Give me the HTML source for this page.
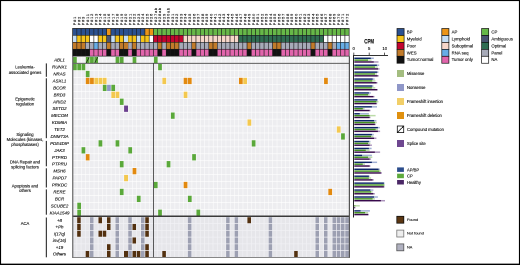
<!DOCTYPE html><html><head><meta charset="utf-8"><style>
html,body{margin:0;padding:0;background:#fff;}body{width:520px;height:265px;overflow:hidden;position:relative;}
#o{position:absolute;left:0;top:0;width:520px;height:265px;overflow:hidden;}
#w{position:absolute;left:0;top:0;width:1040px;height:530px;transform:scale(0.5);transform-origin:0 0;will-change:transform;}
svg{display:block;}text{font-family:"Liberation Sans",sans-serif;fill:#000;stroke:#000;stroke-width:0.1px;}
.g{font-style:italic;text-anchor:middle;font-size:4.4px;}
.c{text-anchor:middle;font-size:4.2px;}
.l{font-size:4.3px;}
</style></head><body>
<div id="o"><div id="w"><svg width="1040" height="530" viewBox="0 0 520 265" xmlns="http://www.w3.org/2000/svg">
<rect x="0" y="0" width="520" height="265" fill="#fff"/>
<g>
<rect x="72.63" y="28.4" width="4.25" height="6.95" fill="#2b5190" stroke="#1a1a1a" stroke-width="0.55"/>
<rect x="76.88" y="28.4" width="4.25" height="6.95" fill="#2b5190" stroke="#1a1a1a" stroke-width="0.55"/>
<rect x="81.14" y="28.4" width="4.25" height="6.95" fill="#2b5190" stroke="#1a1a1a" stroke-width="0.55"/>
<rect x="85.39" y="28.4" width="4.25" height="6.95" fill="#2b5190" stroke="#1a1a1a" stroke-width="0.55"/>
<rect x="89.65" y="28.4" width="4.25" height="6.95" fill="#2b5190" stroke="#1a1a1a" stroke-width="0.55"/>
<rect x="93.91" y="28.4" width="4.25" height="6.95" fill="#2b5190" stroke="#1a1a1a" stroke-width="0.55"/>
<rect x="98.16" y="28.4" width="4.25" height="6.95" fill="#2b5190" stroke="#1a1a1a" stroke-width="0.55"/>
<rect x="102.41" y="28.4" width="4.25" height="6.95" fill="#2b5190" stroke="#1a1a1a" stroke-width="0.55"/>
<rect x="106.67" y="28.4" width="4.25" height="6.95" fill="#eb9418" stroke="#1a1a1a" stroke-width="0.55"/>
<rect x="110.92" y="28.4" width="4.25" height="6.95" fill="#2b5190" stroke="#1a1a1a" stroke-width="0.55"/>
<rect x="115.18" y="28.4" width="4.25" height="6.95" fill="#2b5190" stroke="#1a1a1a" stroke-width="0.55"/>
<rect x="119.44" y="28.4" width="4.25" height="6.95" fill="#2b5190" stroke="#1a1a1a" stroke-width="0.55"/>
<rect x="123.69" y="28.4" width="4.25" height="6.95" fill="#2b5190" stroke="#1a1a1a" stroke-width="0.55"/>
<rect x="127.94" y="28.4" width="4.25" height="6.95" fill="#2b5190" stroke="#1a1a1a" stroke-width="0.55"/>
<rect x="132.2" y="28.4" width="4.25" height="6.95" fill="#2b5190" stroke="#1a1a1a" stroke-width="0.55"/>
<rect x="136.45" y="28.4" width="4.25" height="6.95" fill="#2b5190" stroke="#1a1a1a" stroke-width="0.55"/>
<rect x="140.71" y="28.4" width="4.25" height="6.95" fill="#2b5190" stroke="#1a1a1a" stroke-width="0.55"/>
<rect x="144.96" y="28.4" width="4.25" height="6.95" fill="#eb9418" stroke="#1a1a1a" stroke-width="0.55"/>
<rect x="149.22" y="28.4" width="4.25" height="6.95" fill="#eb9418" stroke="#1a1a1a" stroke-width="0.55"/>
<rect x="153.47" y="28.4" width="4.25" height="6.95" fill="#67b848" stroke="#1a1a1a" stroke-width="0.55"/>
<rect x="157.73" y="28.4" width="4.25" height="6.95" fill="#67b848" stroke="#1a1a1a" stroke-width="0.55"/>
<rect x="161.99" y="28.4" width="4.25" height="6.95" fill="#67b848" stroke="#1a1a1a" stroke-width="0.55"/>
<rect x="166.24" y="28.4" width="4.25" height="6.95" fill="#67b848" stroke="#1a1a1a" stroke-width="0.55"/>
<rect x="170.5" y="28.4" width="4.25" height="6.95" fill="#67b848" stroke="#1a1a1a" stroke-width="0.55"/>
<rect x="174.75" y="28.4" width="4.25" height="6.95" fill="#67b848" stroke="#1a1a1a" stroke-width="0.55"/>
<rect x="179" y="28.4" width="4.25" height="6.95" fill="#67b848" stroke="#1a1a1a" stroke-width="0.55"/>
<rect x="183.26" y="28.4" width="4.25" height="6.95" fill="#67b848" stroke="#1a1a1a" stroke-width="0.55"/>
<rect x="187.51" y="28.4" width="4.25" height="6.95" fill="#67b848" stroke="#1a1a1a" stroke-width="0.55"/>
<rect x="191.77" y="28.4" width="4.25" height="6.95" fill="#67b848" stroke="#1a1a1a" stroke-width="0.55"/>
<rect x="196.02" y="28.4" width="4.25" height="6.95" fill="#67b848" stroke="#1a1a1a" stroke-width="0.55"/>
<rect x="200.28" y="28.4" width="4.25" height="6.95" fill="#67b848" stroke="#1a1a1a" stroke-width="0.55"/>
<rect x="204.53" y="28.4" width="4.25" height="6.95" fill="#67b848" stroke="#1a1a1a" stroke-width="0.55"/>
<rect x="208.79" y="28.4" width="4.25" height="6.95" fill="#67b848" stroke="#1a1a1a" stroke-width="0.55"/>
<rect x="213.04" y="28.4" width="4.25" height="6.95" fill="#67b848" stroke="#1a1a1a" stroke-width="0.55"/>
<rect x="217.3" y="28.4" width="4.25" height="6.95" fill="#67b848" stroke="#1a1a1a" stroke-width="0.55"/>
<rect x="221.55" y="28.4" width="4.25" height="6.95" fill="#67b848" stroke="#1a1a1a" stroke-width="0.55"/>
<rect x="225.81" y="28.4" width="4.25" height="6.95" fill="#67b848" stroke="#1a1a1a" stroke-width="0.55"/>
<rect x="230.06" y="28.4" width="4.25" height="6.95" fill="#67b848" stroke="#1a1a1a" stroke-width="0.55"/>
<rect x="234.32" y="28.4" width="4.25" height="6.95" fill="#67b848" stroke="#1a1a1a" stroke-width="0.55"/>
<rect x="238.57" y="28.4" width="4.25" height="6.95" fill="#67b848" stroke="#1a1a1a" stroke-width="0.55"/>
<rect x="242.83" y="28.4" width="4.25" height="6.95" fill="#67b848" stroke="#1a1a1a" stroke-width="0.55"/>
<rect x="247.08" y="28.4" width="4.25" height="6.95" fill="#67b848" stroke="#1a1a1a" stroke-width="0.55"/>
<rect x="251.34" y="28.4" width="4.25" height="6.95" fill="#67b848" stroke="#1a1a1a" stroke-width="0.55"/>
<rect x="255.59" y="28.4" width="4.25" height="6.95" fill="#67b848" stroke="#1a1a1a" stroke-width="0.55"/>
<rect x="259.85" y="28.4" width="4.25" height="6.95" fill="#67b848" stroke="#1a1a1a" stroke-width="0.55"/>
<rect x="264.11" y="28.4" width="4.25" height="6.95" fill="#67b848" stroke="#1a1a1a" stroke-width="0.55"/>
<rect x="268.36" y="28.4" width="4.25" height="6.95" fill="#67b848" stroke="#1a1a1a" stroke-width="0.55"/>
<rect x="272.62" y="28.4" width="4.25" height="6.95" fill="#67b848" stroke="#1a1a1a" stroke-width="0.55"/>
<rect x="276.87" y="28.4" width="4.25" height="6.95" fill="#67b848" stroke="#1a1a1a" stroke-width="0.55"/>
<rect x="281.12" y="28.4" width="4.25" height="6.95" fill="#67b848" stroke="#1a1a1a" stroke-width="0.55"/>
<rect x="285.38" y="28.4" width="4.25" height="6.95" fill="#67b848" stroke="#1a1a1a" stroke-width="0.55"/>
<rect x="289.63" y="28.4" width="4.25" height="6.95" fill="#67b848" stroke="#1a1a1a" stroke-width="0.55"/>
<rect x="293.89" y="28.4" width="4.25" height="6.95" fill="#67b848" stroke="#1a1a1a" stroke-width="0.55"/>
<rect x="298.14" y="28.4" width="4.25" height="6.95" fill="#67b848" stroke="#1a1a1a" stroke-width="0.55"/>
<rect x="302.4" y="28.4" width="4.25" height="6.95" fill="#67b848" stroke="#1a1a1a" stroke-width="0.55"/>
<rect x="306.65" y="28.4" width="4.25" height="6.95" fill="#67b848" stroke="#1a1a1a" stroke-width="0.55"/>
<rect x="310.91" y="28.4" width="4.25" height="6.95" fill="#67b848" stroke="#1a1a1a" stroke-width="0.55"/>
<rect x="315.16" y="28.4" width="4.25" height="6.95" fill="#67b848" stroke="#1a1a1a" stroke-width="0.55"/>
<rect x="319.42" y="28.4" width="4.25" height="6.95" fill="#67b848" stroke="#1a1a1a" stroke-width="0.55"/>
<rect x="323.67" y="28.4" width="4.25" height="6.95" fill="#67b848" stroke="#1a1a1a" stroke-width="0.55"/>
<rect x="327.93" y="28.4" width="4.25" height="6.95" fill="#67b848" stroke="#1a1a1a" stroke-width="0.55"/>
<rect x="332.19" y="28.4" width="4.25" height="6.95" fill="#67b848" stroke="#1a1a1a" stroke-width="0.55"/>
<rect x="336.44" y="28.4" width="4.25" height="6.95" fill="#67b848" stroke="#1a1a1a" stroke-width="0.55"/>
<rect x="340.69" y="28.4" width="4.25" height="6.95" fill="#67b848" stroke="#1a1a1a" stroke-width="0.55"/>
<rect x="344.95" y="28.4" width="4.25" height="6.95" fill="#67b848" stroke="#1a1a1a" stroke-width="0.55"/>
<rect x="72.63" y="35.35" width="4.25" height="6.95" fill="#c4def6" stroke="#1a1a1a" stroke-width="0.55"/>
<rect x="76.88" y="35.35" width="4.25" height="6.95" fill="#f6c519" stroke="#1a1a1a" stroke-width="0.55"/>
<rect x="81.14" y="35.35" width="4.25" height="6.95" fill="#f6c519" stroke="#1a1a1a" stroke-width="0.55"/>
<rect x="85.39" y="35.35" width="4.25" height="6.95" fill="#f6c519" stroke="#1a1a1a" stroke-width="0.55"/>
<rect x="89.65" y="35.35" width="4.25" height="6.95" fill="#ffffff" stroke="#1a1a1a" stroke-width="0.55"/>
<rect x="93.91" y="35.35" width="4.25" height="6.95" fill="#ffffff" stroke="#1a1a1a" stroke-width="0.55"/>
<rect x="98.16" y="35.35" width="4.25" height="6.95" fill="#f6c519" stroke="#1a1a1a" stroke-width="0.55"/>
<rect x="102.41" y="35.35" width="4.25" height="6.95" fill="#f6c519" stroke="#1a1a1a" stroke-width="0.55"/>
<rect x="106.67" y="35.35" width="4.25" height="6.95" fill="#4a5370" stroke="#1a1a1a" stroke-width="0.55"/>
<rect x="110.92" y="35.35" width="4.25" height="6.95" fill="#c4def6" stroke="#1a1a1a" stroke-width="0.55"/>
<rect x="115.18" y="35.35" width="4.25" height="6.95" fill="#f6c519" stroke="#1a1a1a" stroke-width="0.55"/>
<rect x="119.44" y="35.35" width="4.25" height="6.95" fill="#f6c519" stroke="#1a1a1a" stroke-width="0.55"/>
<rect x="123.69" y="35.35" width="4.25" height="6.95" fill="#c4def6" stroke="#1a1a1a" stroke-width="0.55"/>
<rect x="127.94" y="35.35" width="4.25" height="6.95" fill="#f6c519" stroke="#1a1a1a" stroke-width="0.55"/>
<rect x="132.2" y="35.35" width="4.25" height="6.95" fill="#f6c519" stroke="#1a1a1a" stroke-width="0.55"/>
<rect x="136.45" y="35.35" width="4.25" height="6.95" fill="#c4def6" stroke="#1a1a1a" stroke-width="0.55"/>
<rect x="140.71" y="35.35" width="4.25" height="6.95" fill="#f6c519" stroke="#1a1a1a" stroke-width="0.55"/>
<rect x="144.96" y="35.35" width="4.25" height="6.95" fill="#f6c519" stroke="#1a1a1a" stroke-width="0.55"/>
<rect x="149.22" y="35.35" width="4.25" height="6.95" fill="#ffffff" stroke="#1a1a1a" stroke-width="0.55"/>
<rect x="153.47" y="35.35" width="4.25" height="6.95" fill="#c3052f" stroke="#1a1a1a" stroke-width="0.55"/>
<rect x="157.73" y="35.35" width="4.25" height="6.95" fill="#c3052f" stroke="#1a1a1a" stroke-width="0.55"/>
<rect x="161.99" y="35.35" width="4.25" height="6.95" fill="#c3052f" stroke="#1a1a1a" stroke-width="0.55"/>
<rect x="166.24" y="35.35" width="4.25" height="6.95" fill="#c3052f" stroke="#1a1a1a" stroke-width="0.55"/>
<rect x="170.5" y="35.35" width="4.25" height="6.95" fill="#c3052f" stroke="#1a1a1a" stroke-width="0.55"/>
<rect x="174.75" y="35.35" width="4.25" height="6.95" fill="#c3052f" stroke="#1a1a1a" stroke-width="0.55"/>
<rect x="179" y="35.35" width="4.25" height="6.95" fill="#c3052f" stroke="#1a1a1a" stroke-width="0.55"/>
<rect x="183.26" y="35.35" width="4.25" height="6.95" fill="#f7d7ca" stroke="#1a1a1a" stroke-width="0.55"/>
<rect x="187.51" y="35.35" width="4.25" height="6.95" fill="#f7d7ca" stroke="#1a1a1a" stroke-width="0.55"/>
<rect x="191.77" y="35.35" width="4.25" height="6.95" fill="#f7d7ca" stroke="#1a1a1a" stroke-width="0.55"/>
<rect x="196.02" y="35.35" width="4.25" height="6.95" fill="#f7d7ca" stroke="#1a1a1a" stroke-width="0.55"/>
<rect x="200.28" y="35.35" width="4.25" height="6.95" fill="#f7d7ca" stroke="#1a1a1a" stroke-width="0.55"/>
<rect x="204.53" y="35.35" width="4.25" height="6.95" fill="#f7d7ca" stroke="#1a1a1a" stroke-width="0.55"/>
<rect x="208.79" y="35.35" width="4.25" height="6.95" fill="#f7d7ca" stroke="#1a1a1a" stroke-width="0.55"/>
<rect x="213.04" y="35.35" width="4.25" height="6.95" fill="#f7d7ca" stroke="#1a1a1a" stroke-width="0.55"/>
<rect x="217.3" y="35.35" width="4.25" height="6.95" fill="#f7d7ca" stroke="#1a1a1a" stroke-width="0.55"/>
<rect x="221.55" y="35.35" width="4.25" height="6.95" fill="#f7d7ca" stroke="#1a1a1a" stroke-width="0.55"/>
<rect x="225.81" y="35.35" width="4.25" height="6.95" fill="#f7d7ca" stroke="#1a1a1a" stroke-width="0.55"/>
<rect x="230.06" y="35.35" width="4.25" height="6.95" fill="#f7d7ca" stroke="#1a1a1a" stroke-width="0.55"/>
<rect x="234.32" y="35.35" width="4.25" height="6.95" fill="#f7d7ca" stroke="#1a1a1a" stroke-width="0.55"/>
<rect x="238.57" y="35.35" width="4.25" height="6.95" fill="#2f6c51" stroke="#1a1a1a" stroke-width="0.55"/>
<rect x="242.83" y="35.35" width="4.25" height="6.95" fill="#2f6c51" stroke="#1a1a1a" stroke-width="0.55"/>
<rect x="247.08" y="35.35" width="4.25" height="6.95" fill="#2f6c51" stroke="#1a1a1a" stroke-width="0.55"/>
<rect x="251.34" y="35.35" width="4.25" height="6.95" fill="#2f6c51" stroke="#1a1a1a" stroke-width="0.55"/>
<rect x="255.59" y="35.35" width="4.25" height="6.95" fill="#2f6c51" stroke="#1a1a1a" stroke-width="0.55"/>
<rect x="259.85" y="35.35" width="4.25" height="6.95" fill="#2f6c51" stroke="#1a1a1a" stroke-width="0.55"/>
<rect x="264.11" y="35.35" width="4.25" height="6.95" fill="#2f6c51" stroke="#1a1a1a" stroke-width="0.55"/>
<rect x="268.36" y="35.35" width="4.25" height="6.95" fill="#2f6c51" stroke="#1a1a1a" stroke-width="0.55"/>
<rect x="272.62" y="35.35" width="4.25" height="6.95" fill="#2f6c51" stroke="#1a1a1a" stroke-width="0.55"/>
<rect x="276.87" y="35.35" width="4.25" height="6.95" fill="#2f6c51" stroke="#1a1a1a" stroke-width="0.55"/>
<rect x="281.12" y="35.35" width="4.25" height="6.95" fill="#2f6c51" stroke="#1a1a1a" stroke-width="0.55"/>
<rect x="285.38" y="35.35" width="4.25" height="6.95" fill="#2f6c51" stroke="#1a1a1a" stroke-width="0.55"/>
<rect x="289.63" y="35.35" width="4.25" height="6.95" fill="#2f6c51" stroke="#1a1a1a" stroke-width="0.55"/>
<rect x="293.89" y="35.35" width="4.25" height="6.95" fill="#2f6c51" stroke="#1a1a1a" stroke-width="0.55"/>
<rect x="298.14" y="35.35" width="4.25" height="6.95" fill="#2f6c51" stroke="#1a1a1a" stroke-width="0.55"/>
<rect x="302.4" y="35.35" width="4.25" height="6.95" fill="#2f6c51" stroke="#1a1a1a" stroke-width="0.55"/>
<rect x="306.65" y="35.35" width="4.25" height="6.95" fill="#2f6c51" stroke="#1a1a1a" stroke-width="0.55"/>
<rect x="310.91" y="35.35" width="4.25" height="6.95" fill="#2f6c51" stroke="#1a1a1a" stroke-width="0.55"/>
<rect x="315.16" y="35.35" width="4.25" height="6.95" fill="#2f6c51" stroke="#1a1a1a" stroke-width="0.55"/>
<rect x="319.42" y="35.35" width="4.25" height="6.95" fill="#2f6c51" stroke="#1a1a1a" stroke-width="0.55"/>
<rect x="323.67" y="35.35" width="4.25" height="6.95" fill="#ffffff" stroke="#1a1a1a" stroke-width="0.55"/>
<rect x="327.93" y="35.35" width="4.25" height="6.95" fill="#ffffff" stroke="#1a1a1a" stroke-width="0.55"/>
<rect x="332.19" y="35.35" width="4.25" height="6.95" fill="#ffffff" stroke="#1a1a1a" stroke-width="0.55"/>
<rect x="336.44" y="35.35" width="4.25" height="6.95" fill="#ffffff" stroke="#1a1a1a" stroke-width="0.55"/>
<rect x="340.69" y="35.35" width="4.25" height="6.95" fill="#ffffff" stroke="#1a1a1a" stroke-width="0.55"/>
<rect x="344.95" y="35.35" width="4.25" height="6.95" fill="#ffffff" stroke="#1a1a1a" stroke-width="0.55"/>
<rect x="72.63" y="42.3" width="4.25" height="6.95" fill="#c27b2a" stroke="#1a1a1a" stroke-width="0.55"/>
<rect x="76.88" y="42.3" width="4.25" height="6.95" fill="#c27b2a" stroke="#1a1a1a" stroke-width="0.55"/>
<rect x="81.14" y="42.3" width="4.25" height="6.95" fill="#c27b2a" stroke="#1a1a1a" stroke-width="0.55"/>
<rect x="85.39" y="42.3" width="4.25" height="6.95" fill="#a7aab8" stroke="#1a1a1a" stroke-width="0.55"/>
<rect x="89.65" y="42.3" width="4.25" height="6.95" fill="#a7aab8" stroke="#1a1a1a" stroke-width="0.55"/>
<rect x="93.91" y="42.3" width="4.25" height="6.95" fill="#67ade6" stroke="#1a1a1a" stroke-width="0.55"/>
<rect x="98.16" y="42.3" width="4.25" height="6.95" fill="#a7aab8" stroke="#1a1a1a" stroke-width="0.55"/>
<rect x="102.41" y="42.3" width="4.25" height="6.95" fill="#a7aab8" stroke="#1a1a1a" stroke-width="0.55"/>
<rect x="106.67" y="42.3" width="4.25" height="6.95" fill="#c27b2a" stroke="#1a1a1a" stroke-width="0.55"/>
<rect x="110.92" y="42.3" width="4.25" height="6.95" fill="#a7aab8" stroke="#1a1a1a" stroke-width="0.55"/>
<rect x="115.18" y="42.3" width="4.25" height="6.95" fill="#a7aab8" stroke="#1a1a1a" stroke-width="0.55"/>
<rect x="119.44" y="42.3" width="4.25" height="6.95" fill="#c27b2a" stroke="#1a1a1a" stroke-width="0.55"/>
<rect x="123.69" y="42.3" width="4.25" height="6.95" fill="#c27b2a" stroke="#1a1a1a" stroke-width="0.55"/>
<rect x="127.94" y="42.3" width="4.25" height="6.95" fill="#a7aab8" stroke="#1a1a1a" stroke-width="0.55"/>
<rect x="132.2" y="42.3" width="4.25" height="6.95" fill="#c27b2a" stroke="#1a1a1a" stroke-width="0.55"/>
<rect x="136.45" y="42.3" width="4.25" height="6.95" fill="#a7aab8" stroke="#1a1a1a" stroke-width="0.55"/>
<rect x="140.71" y="42.3" width="4.25" height="6.95" fill="#a7aab8" stroke="#1a1a1a" stroke-width="0.55"/>
<rect x="144.96" y="42.3" width="4.25" height="6.95" fill="#a7aab8" stroke="#1a1a1a" stroke-width="0.55"/>
<rect x="149.22" y="42.3" width="4.25" height="6.95" fill="#a7aab8" stroke="#1a1a1a" stroke-width="0.55"/>
<rect x="153.47" y="42.3" width="4.25" height="6.95" fill="#a7aab8" stroke="#1a1a1a" stroke-width="0.55"/>
<rect x="157.73" y="42.3" width="4.25" height="6.95" fill="#c27b2a" stroke="#1a1a1a" stroke-width="0.55"/>
<rect x="161.99" y="42.3" width="4.25" height="6.95" fill="#a7aab8" stroke="#1a1a1a" stroke-width="0.55"/>
<rect x="166.24" y="42.3" width="4.25" height="6.95" fill="#c27b2a" stroke="#1a1a1a" stroke-width="0.55"/>
<rect x="170.5" y="42.3" width="4.25" height="6.95" fill="#c27b2a" stroke="#1a1a1a" stroke-width="0.55"/>
<rect x="174.75" y="42.3" width="4.25" height="6.95" fill="#c27b2a" stroke="#1a1a1a" stroke-width="0.55"/>
<rect x="179" y="42.3" width="4.25" height="6.95" fill="#a7aab8" stroke="#1a1a1a" stroke-width="0.55"/>
<rect x="183.26" y="42.3" width="4.25" height="6.95" fill="#a7aab8" stroke="#1a1a1a" stroke-width="0.55"/>
<rect x="187.51" y="42.3" width="4.25" height="6.95" fill="#a7aab8" stroke="#1a1a1a" stroke-width="0.55"/>
<rect x="191.77" y="42.3" width="4.25" height="6.95" fill="#c27b2a" stroke="#1a1a1a" stroke-width="0.55"/>
<rect x="196.02" y="42.3" width="4.25" height="6.95" fill="#a7aab8" stroke="#1a1a1a" stroke-width="0.55"/>
<rect x="200.28" y="42.3" width="4.25" height="6.95" fill="#a7aab8" stroke="#1a1a1a" stroke-width="0.55"/>
<rect x="204.53" y="42.3" width="4.25" height="6.95" fill="#a7aab8" stroke="#1a1a1a" stroke-width="0.55"/>
<rect x="208.79" y="42.3" width="4.25" height="6.95" fill="#c27b2a" stroke="#1a1a1a" stroke-width="0.55"/>
<rect x="213.04" y="42.3" width="4.25" height="6.95" fill="#c27b2a" stroke="#1a1a1a" stroke-width="0.55"/>
<rect x="217.3" y="42.3" width="4.25" height="6.95" fill="#a7aab8" stroke="#1a1a1a" stroke-width="0.55"/>
<rect x="221.55" y="42.3" width="4.25" height="6.95" fill="#a7aab8" stroke="#1a1a1a" stroke-width="0.55"/>
<rect x="225.81" y="42.3" width="4.25" height="6.95" fill="#a7aab8" stroke="#1a1a1a" stroke-width="0.55"/>
<rect x="230.06" y="42.3" width="4.25" height="6.95" fill="#a7aab8" stroke="#1a1a1a" stroke-width="0.55"/>
<rect x="234.32" y="42.3" width="4.25" height="6.95" fill="#a7aab8" stroke="#1a1a1a" stroke-width="0.55"/>
<rect x="238.57" y="42.3" width="4.25" height="6.95" fill="#a7aab8" stroke="#1a1a1a" stroke-width="0.55"/>
<rect x="242.83" y="42.3" width="4.25" height="6.95" fill="#a7aab8" stroke="#1a1a1a" stroke-width="0.55"/>
<rect x="247.08" y="42.3" width="4.25" height="6.95" fill="#c27b2a" stroke="#1a1a1a" stroke-width="0.55"/>
<rect x="251.34" y="42.3" width="4.25" height="6.95" fill="#a7aab8" stroke="#1a1a1a" stroke-width="0.55"/>
<rect x="255.59" y="42.3" width="4.25" height="6.95" fill="#a7aab8" stroke="#1a1a1a" stroke-width="0.55"/>
<rect x="259.85" y="42.3" width="4.25" height="6.95" fill="#a7aab8" stroke="#1a1a1a" stroke-width="0.55"/>
<rect x="264.11" y="42.3" width="4.25" height="6.95" fill="#a7aab8" stroke="#1a1a1a" stroke-width="0.55"/>
<rect x="268.36" y="42.3" width="4.25" height="6.95" fill="#a7aab8" stroke="#1a1a1a" stroke-width="0.55"/>
<rect x="272.62" y="42.3" width="4.25" height="6.95" fill="#c27b2a" stroke="#1a1a1a" stroke-width="0.55"/>
<rect x="276.87" y="42.3" width="4.25" height="6.95" fill="#c27b2a" stroke="#1a1a1a" stroke-width="0.55"/>
<rect x="281.12" y="42.3" width="4.25" height="6.95" fill="#a7aab8" stroke="#1a1a1a" stroke-width="0.55"/>
<rect x="285.38" y="42.3" width="4.25" height="6.95" fill="#a7aab8" stroke="#1a1a1a" stroke-width="0.55"/>
<rect x="289.63" y="42.3" width="4.25" height="6.95" fill="#a7aab8" stroke="#1a1a1a" stroke-width="0.55"/>
<rect x="293.89" y="42.3" width="4.25" height="6.95" fill="#a7aab8" stroke="#1a1a1a" stroke-width="0.55"/>
<rect x="298.14" y="42.3" width="4.25" height="6.95" fill="#a7aab8" stroke="#1a1a1a" stroke-width="0.55"/>
<rect x="302.4" y="42.3" width="4.25" height="6.95" fill="#a7aab8" stroke="#1a1a1a" stroke-width="0.55"/>
<rect x="306.65" y="42.3" width="4.25" height="6.95" fill="#a7aab8" stroke="#1a1a1a" stroke-width="0.55"/>
<rect x="310.91" y="42.3" width="4.25" height="6.95" fill="#c27b2a" stroke="#1a1a1a" stroke-width="0.55"/>
<rect x="315.16" y="42.3" width="4.25" height="6.95" fill="#a7aab8" stroke="#1a1a1a" stroke-width="0.55"/>
<rect x="319.42" y="42.3" width="4.25" height="6.95" fill="#a7aab8" stroke="#1a1a1a" stroke-width="0.55"/>
<rect x="323.67" y="42.3" width="4.25" height="6.95" fill="#a7aab8" stroke="#1a1a1a" stroke-width="0.55"/>
<rect x="327.93" y="42.3" width="4.25" height="6.95" fill="#c27b2a" stroke="#1a1a1a" stroke-width="0.55"/>
<rect x="332.19" y="42.3" width="4.25" height="6.95" fill="#a7aab8" stroke="#1a1a1a" stroke-width="0.55"/>
<rect x="336.44" y="42.3" width="4.25" height="6.95" fill="#67ade6" stroke="#1a1a1a" stroke-width="0.55"/>
<rect x="340.69" y="42.3" width="4.25" height="6.95" fill="#67ade6" stroke="#1a1a1a" stroke-width="0.55"/>
<rect x="344.95" y="42.3" width="4.25" height="6.95" fill="#67ade6" stroke="#1a1a1a" stroke-width="0.55"/>
<rect x="72.63" y="49.25" width="4.25" height="6.95" fill="#111111" stroke="#1a1a1a" stroke-width="0.55"/>
<rect x="76.88" y="49.25" width="4.25" height="6.95" fill="#111111" stroke="#1a1a1a" stroke-width="0.55"/>
<rect x="81.14" y="49.25" width="4.25" height="6.95" fill="#111111" stroke="#1a1a1a" stroke-width="0.55"/>
<rect x="85.39" y="49.25" width="4.25" height="6.95" fill="#111111" stroke="#1a1a1a" stroke-width="0.55"/>
<rect x="89.65" y="49.25" width="4.25" height="6.95" fill="#e165ac" stroke="#1a1a1a" stroke-width="0.55"/>
<rect x="93.91" y="49.25" width="4.25" height="6.95" fill="#e165ac" stroke="#1a1a1a" stroke-width="0.55"/>
<rect x="98.16" y="49.25" width="4.25" height="6.95" fill="#e165ac" stroke="#1a1a1a" stroke-width="0.55"/>
<rect x="102.41" y="49.25" width="4.25" height="6.95" fill="#e165ac" stroke="#1a1a1a" stroke-width="0.55"/>
<rect x="106.67" y="49.25" width="4.25" height="6.95" fill="#111111" stroke="#1a1a1a" stroke-width="0.55"/>
<rect x="110.92" y="49.25" width="4.25" height="6.95" fill="#e165ac" stroke="#1a1a1a" stroke-width="0.55"/>
<rect x="115.18" y="49.25" width="4.25" height="6.95" fill="#e165ac" stroke="#1a1a1a" stroke-width="0.55"/>
<rect x="119.44" y="49.25" width="4.25" height="6.95" fill="#111111" stroke="#1a1a1a" stroke-width="0.55"/>
<rect x="123.69" y="49.25" width="4.25" height="6.95" fill="#111111" stroke="#1a1a1a" stroke-width="0.55"/>
<rect x="127.94" y="49.25" width="4.25" height="6.95" fill="#e165ac" stroke="#1a1a1a" stroke-width="0.55"/>
<rect x="132.2" y="49.25" width="4.25" height="6.95" fill="#111111" stroke="#1a1a1a" stroke-width="0.55"/>
<rect x="136.45" y="49.25" width="4.25" height="6.95" fill="#e165ac" stroke="#1a1a1a" stroke-width="0.55"/>
<rect x="140.71" y="49.25" width="4.25" height="6.95" fill="#e165ac" stroke="#1a1a1a" stroke-width="0.55"/>
<rect x="144.96" y="49.25" width="4.25" height="6.95" fill="#e165ac" stroke="#1a1a1a" stroke-width="0.55"/>
<rect x="149.22" y="49.25" width="4.25" height="6.95" fill="#e165ac" stroke="#1a1a1a" stroke-width="0.55"/>
<rect x="153.47" y="49.25" width="4.25" height="6.95" fill="#e165ac" stroke="#1a1a1a" stroke-width="0.55"/>
<rect x="157.73" y="49.25" width="4.25" height="6.95" fill="#111111" stroke="#1a1a1a" stroke-width="0.55"/>
<rect x="161.99" y="49.25" width="4.25" height="6.95" fill="#e165ac" stroke="#1a1a1a" stroke-width="0.55"/>
<rect x="166.24" y="49.25" width="4.25" height="6.95" fill="#111111" stroke="#1a1a1a" stroke-width="0.55"/>
<rect x="170.5" y="49.25" width="4.25" height="6.95" fill="#111111" stroke="#1a1a1a" stroke-width="0.55"/>
<rect x="174.75" y="49.25" width="4.25" height="6.95" fill="#111111" stroke="#1a1a1a" stroke-width="0.55"/>
<rect x="179" y="49.25" width="4.25" height="6.95" fill="#e165ac" stroke="#1a1a1a" stroke-width="0.55"/>
<rect x="183.26" y="49.25" width="4.25" height="6.95" fill="#e165ac" stroke="#1a1a1a" stroke-width="0.55"/>
<rect x="187.51" y="49.25" width="4.25" height="6.95" fill="#e165ac" stroke="#1a1a1a" stroke-width="0.55"/>
<rect x="191.77" y="49.25" width="4.25" height="6.95" fill="#111111" stroke="#1a1a1a" stroke-width="0.55"/>
<rect x="196.02" y="49.25" width="4.25" height="6.95" fill="#e165ac" stroke="#1a1a1a" stroke-width="0.55"/>
<rect x="200.28" y="49.25" width="4.25" height="6.95" fill="#e165ac" stroke="#1a1a1a" stroke-width="0.55"/>
<rect x="204.53" y="49.25" width="4.25" height="6.95" fill="#e165ac" stroke="#1a1a1a" stroke-width="0.55"/>
<rect x="208.79" y="49.25" width="4.25" height="6.95" fill="#111111" stroke="#1a1a1a" stroke-width="0.55"/>
<rect x="213.04" y="49.25" width="4.25" height="6.95" fill="#111111" stroke="#1a1a1a" stroke-width="0.55"/>
<rect x="217.3" y="49.25" width="4.25" height="6.95" fill="#e165ac" stroke="#1a1a1a" stroke-width="0.55"/>
<rect x="221.55" y="49.25" width="4.25" height="6.95" fill="#e165ac" stroke="#1a1a1a" stroke-width="0.55"/>
<rect x="225.81" y="49.25" width="4.25" height="6.95" fill="#e165ac" stroke="#1a1a1a" stroke-width="0.55"/>
<rect x="230.06" y="49.25" width="4.25" height="6.95" fill="#e165ac" stroke="#1a1a1a" stroke-width="0.55"/>
<rect x="234.32" y="49.25" width="4.25" height="6.95" fill="#e165ac" stroke="#1a1a1a" stroke-width="0.55"/>
<rect x="238.57" y="49.25" width="4.25" height="6.95" fill="#e165ac" stroke="#1a1a1a" stroke-width="0.55"/>
<rect x="242.83" y="49.25" width="4.25" height="6.95" fill="#e165ac" stroke="#1a1a1a" stroke-width="0.55"/>
<rect x="247.08" y="49.25" width="4.25" height="6.95" fill="#111111" stroke="#1a1a1a" stroke-width="0.55"/>
<rect x="251.34" y="49.25" width="4.25" height="6.95" fill="#e165ac" stroke="#1a1a1a" stroke-width="0.55"/>
<rect x="255.59" y="49.25" width="4.25" height="6.95" fill="#e165ac" stroke="#1a1a1a" stroke-width="0.55"/>
<rect x="259.85" y="49.25" width="4.25" height="6.95" fill="#e165ac" stroke="#1a1a1a" stroke-width="0.55"/>
<rect x="264.11" y="49.25" width="4.25" height="6.95" fill="#e165ac" stroke="#1a1a1a" stroke-width="0.55"/>
<rect x="268.36" y="49.25" width="4.25" height="6.95" fill="#e165ac" stroke="#1a1a1a" stroke-width="0.55"/>
<rect x="272.62" y="49.25" width="4.25" height="6.95" fill="#111111" stroke="#1a1a1a" stroke-width="0.55"/>
<rect x="276.87" y="49.25" width="4.25" height="6.95" fill="#111111" stroke="#1a1a1a" stroke-width="0.55"/>
<rect x="281.12" y="49.25" width="4.25" height="6.95" fill="#e165ac" stroke="#1a1a1a" stroke-width="0.55"/>
<rect x="285.38" y="49.25" width="4.25" height="6.95" fill="#e165ac" stroke="#1a1a1a" stroke-width="0.55"/>
<rect x="289.63" y="49.25" width="4.25" height="6.95" fill="#e165ac" stroke="#1a1a1a" stroke-width="0.55"/>
<rect x="293.89" y="49.25" width="4.25" height="6.95" fill="#e165ac" stroke="#1a1a1a" stroke-width="0.55"/>
<rect x="298.14" y="49.25" width="4.25" height="6.95" fill="#e165ac" stroke="#1a1a1a" stroke-width="0.55"/>
<rect x="302.4" y="49.25" width="4.25" height="6.95" fill="#e165ac" stroke="#1a1a1a" stroke-width="0.55"/>
<rect x="306.65" y="49.25" width="4.25" height="6.95" fill="#e165ac" stroke="#1a1a1a" stroke-width="0.55"/>
<rect x="310.91" y="49.25" width="4.25" height="6.95" fill="#111111" stroke="#1a1a1a" stroke-width="0.55"/>
<rect x="315.16" y="49.25" width="4.25" height="6.95" fill="#e165ac" stroke="#1a1a1a" stroke-width="0.55"/>
<rect x="319.42" y="49.25" width="4.25" height="6.95" fill="#e165ac" stroke="#1a1a1a" stroke-width="0.55"/>
<rect x="323.67" y="49.25" width="4.25" height="6.95" fill="#e165ac" stroke="#1a1a1a" stroke-width="0.55"/>
<rect x="327.93" y="49.25" width="4.25" height="6.95" fill="#111111" stroke="#1a1a1a" stroke-width="0.55"/>
<rect x="332.19" y="49.25" width="4.25" height="6.95" fill="#e165ac" stroke="#1a1a1a" stroke-width="0.55"/>
<rect x="336.44" y="49.25" width="4.25" height="6.95" fill="#e165ac" stroke="#1a1a1a" stroke-width="0.55"/>
<rect x="340.69" y="49.25" width="4.25" height="6.95" fill="#e165ac" stroke="#1a1a1a" stroke-width="0.55"/>
<rect x="344.95" y="49.25" width="4.25" height="6.95" fill="#e165ac" stroke="#1a1a1a" stroke-width="0.55"/>
<rect x="72.63" y="28.4" width="276.57" height="27.8" fill="none" stroke="#333" stroke-width="0.7"/>
<rect x="73.03" y="57" width="3.75" height="6.3" fill="#5aa83a"/>
<rect x="77.28" y="57" width="3.75" height="6.3" fill="#f2f2f4"/>
<rect x="81.54" y="57" width="3.75" height="6.3" fill="#f2f2f4"/>
<rect x="85.8" y="57" width="3.75" height="6.3" fill="#5aa83a"/>
<line x1="86.09" y1="63.1" x2="89.25" y2="57.2" stroke="#111" stroke-width="0.6"/>
<rect x="90.05" y="57" width="3.75" height="6.3" fill="#5aa83a"/>
<rect x="94.31" y="57" width="3.75" height="6.3" fill="#5aa83a"/>
<line x1="94.61" y1="63.1" x2="97.76" y2="57.2" stroke="#111" stroke-width="0.6"/>
<rect x="98.56" y="57" width="3.75" height="6.3" fill="#f2f2f4"/>
<rect x="102.81" y="57" width="3.75" height="6.3" fill="#f2f2f4"/>
<rect x="107.07" y="57" width="3.75" height="6.3" fill="#f2f2f4"/>
<rect x="111.33" y="57" width="3.75" height="6.3" fill="#f2f2f4"/>
<rect x="115.58" y="57" width="3.75" height="6.3" fill="#5aa83a"/>
<rect x="119.84" y="57" width="3.75" height="6.3" fill="#5aa83a"/>
<rect x="124.09" y="57" width="3.75" height="6.3" fill="#f2f2f4"/>
<rect x="128.34" y="57" width="3.75" height="6.3" fill="#f2f2f4"/>
<rect x="132.6" y="57" width="3.75" height="6.3" fill="#5aa83a"/>
<rect x="136.85" y="57" width="3.75" height="6.3" fill="#f2f2f4"/>
<rect x="141.11" y="57" width="3.75" height="6.3" fill="#f2f2f4"/>
<rect x="145.36" y="57" width="3.75" height="6.3" fill="#f2f2f4"/>
<rect x="149.62" y="57" width="3.75" height="6.3" fill="#f2f2f4"/>
<rect x="153.88" y="57" width="3.75" height="6.3" fill="#5aa83a"/>
<rect x="158.13" y="57" width="3.75" height="6.3" fill="#f2f2f4"/>
<rect x="162.39" y="57" width="3.75" height="6.3" fill="#f2f2f4"/>
<rect x="166.64" y="57" width="3.75" height="6.3" fill="#f2f2f4"/>
<rect x="170.9" y="57" width="3.75" height="6.3" fill="#f2f2f4"/>
<rect x="175.15" y="57" width="3.75" height="6.3" fill="#f2f2f4"/>
<rect x="179.41" y="57" width="3.75" height="6.3" fill="#f2f2f4"/>
<rect x="183.66" y="57" width="3.75" height="6.3" fill="#f2f2f4"/>
<rect x="187.91" y="57" width="3.75" height="6.3" fill="#f2f2f4"/>
<rect x="192.17" y="57" width="3.75" height="6.3" fill="#f2f2f4"/>
<rect x="196.42" y="57" width="3.75" height="6.3" fill="#f2f2f4"/>
<rect x="200.68" y="57" width="3.75" height="6.3" fill="#f2f2f4"/>
<rect x="204.94" y="57" width="3.75" height="6.3" fill="#f2f2f4"/>
<rect x="209.19" y="57" width="3.75" height="6.3" fill="#f2f2f4"/>
<rect x="213.44" y="57" width="3.75" height="6.3" fill="#f2f2f4"/>
<rect x="217.7" y="57" width="3.75" height="6.3" fill="#f2f2f4"/>
<rect x="221.95" y="57" width="3.75" height="6.3" fill="#f2f2f4"/>
<rect x="226.21" y="57" width="3.75" height="6.3" fill="#f2f2f4"/>
<rect x="230.47" y="57" width="3.75" height="6.3" fill="#f2f2f4"/>
<rect x="234.72" y="57" width="3.75" height="6.3" fill="#f2f2f4"/>
<rect x="238.97" y="57" width="3.75" height="6.3" fill="#f2f2f4"/>
<rect x="243.23" y="57" width="3.75" height="6.3" fill="#f2f2f4"/>
<rect x="247.48" y="57" width="3.75" height="6.3" fill="#f2f2f4"/>
<rect x="251.74" y="57" width="3.75" height="6.3" fill="#f2f2f4"/>
<rect x="256" y="57" width="3.75" height="6.3" fill="#f2f2f4"/>
<rect x="260.25" y="57" width="3.75" height="6.3" fill="#f2f2f4"/>
<rect x="264.5" y="57" width="3.75" height="6.3" fill="#f2f2f4"/>
<rect x="268.76" y="57" width="3.75" height="6.3" fill="#f2f2f4"/>
<rect x="273.01" y="57" width="3.75" height="6.3" fill="#f2f2f4"/>
<rect x="277.27" y="57" width="3.75" height="6.3" fill="#f2f2f4"/>
<rect x="281.52" y="57" width="3.75" height="6.3" fill="#f2f2f4"/>
<rect x="285.78" y="57" width="3.75" height="6.3" fill="#f2f2f4"/>
<rect x="290.03" y="57" width="3.75" height="6.3" fill="#f2f2f4"/>
<rect x="294.29" y="57" width="3.75" height="6.3" fill="#f2f2f4"/>
<rect x="298.54" y="57" width="3.75" height="6.3" fill="#f2f2f4"/>
<rect x="302.8" y="57" width="3.75" height="6.3" fill="#f2f2f4"/>
<rect x="307.05" y="57" width="3.75" height="6.3" fill="#f2f2f4"/>
<rect x="311.31" y="57" width="3.75" height="6.3" fill="#f2f2f4"/>
<rect x="315.56" y="57" width="3.75" height="6.3" fill="#f2f2f4"/>
<rect x="319.82" y="57" width="3.75" height="6.3" fill="#f2f2f4"/>
<rect x="324.07" y="57" width="3.75" height="6.3" fill="#f2f2f4"/>
<rect x="328.33" y="57" width="3.75" height="6.3" fill="#f2f2f4"/>
<rect x="332.58" y="57" width="3.75" height="6.3" fill="#f2f2f4"/>
<rect x="336.84" y="57" width="3.75" height="6.3" fill="#f2f2f4"/>
<rect x="341.09" y="57" width="3.75" height="6.3" fill="#f2f2f4"/>
<rect x="345.35" y="57" width="3.75" height="6.3" fill="#f2f2f4"/>
<rect x="73.03" y="63.94" width="3.75" height="6.3" fill="#5aa83a"/>
<rect x="77.28" y="63.94" width="3.75" height="6.3" fill="#5aa83a"/>
<rect x="81.54" y="63.94" width="3.75" height="6.3" fill="#5aa83a"/>
<rect x="85.8" y="63.94" width="3.75" height="6.3" fill="#ededf0"/>
<rect x="90.05" y="63.94" width="3.75" height="6.3" fill="#ededf0"/>
<rect x="94.31" y="63.94" width="3.75" height="6.3" fill="#ededf0"/>
<rect x="98.56" y="63.94" width="3.75" height="6.3" fill="#ededf0"/>
<rect x="102.81" y="63.94" width="3.75" height="6.3" fill="#ededf0"/>
<rect x="107.07" y="63.94" width="3.75" height="6.3" fill="#ededf0"/>
<rect x="111.33" y="63.94" width="3.75" height="6.3" fill="#ededf0"/>
<rect x="115.58" y="63.94" width="3.75" height="6.3" fill="#ededf0"/>
<rect x="119.84" y="63.94" width="3.75" height="6.3" fill="#ededf0"/>
<rect x="124.09" y="63.94" width="3.75" height="6.3" fill="#ededf0"/>
<rect x="128.34" y="63.94" width="3.75" height="6.3" fill="#ededf0"/>
<rect x="132.6" y="63.94" width="3.75" height="6.3" fill="#ededf0"/>
<rect x="136.85" y="63.94" width="3.75" height="6.3" fill="#ededf0"/>
<rect x="141.11" y="63.94" width="3.75" height="6.3" fill="#ededf0"/>
<rect x="145.36" y="63.94" width="3.75" height="6.3" fill="#ededf0"/>
<rect x="149.62" y="63.94" width="3.75" height="6.3" fill="#ededf0"/>
<rect x="153.88" y="63.94" width="3.75" height="6.3" fill="#ededf0"/>
<rect x="158.13" y="63.94" width="3.75" height="6.3" fill="#5aa83a"/>
<rect x="162.39" y="63.94" width="3.75" height="6.3" fill="#ededf0"/>
<rect x="166.64" y="63.94" width="3.75" height="6.3" fill="#ededf0"/>
<rect x="170.9" y="63.94" width="3.75" height="6.3" fill="#ededf0"/>
<rect x="175.15" y="63.94" width="3.75" height="6.3" fill="#ededf0"/>
<rect x="179.41" y="63.94" width="3.75" height="6.3" fill="#ededf0"/>
<rect x="183.66" y="63.94" width="3.75" height="6.3" fill="#ededf0"/>
<rect x="187.91" y="63.94" width="3.75" height="6.3" fill="#ededf0"/>
<rect x="192.17" y="63.94" width="3.75" height="6.3" fill="#ededf0"/>
<rect x="196.42" y="63.94" width="3.75" height="6.3" fill="#ededf0"/>
<rect x="200.68" y="63.94" width="3.75" height="6.3" fill="#ededf0"/>
<rect x="204.94" y="63.94" width="3.75" height="6.3" fill="#ededf0"/>
<rect x="209.19" y="63.94" width="3.75" height="6.3" fill="#ededf0"/>
<rect x="213.44" y="63.94" width="3.75" height="6.3" fill="#ededf0"/>
<rect x="217.7" y="63.94" width="3.75" height="6.3" fill="#ededf0"/>
<rect x="221.95" y="63.94" width="3.75" height="6.3" fill="#ededf0"/>
<rect x="226.21" y="63.94" width="3.75" height="6.3" fill="#ededf0"/>
<rect x="230.47" y="63.94" width="3.75" height="6.3" fill="#ededf0"/>
<rect x="234.72" y="63.94" width="3.75" height="6.3" fill="#ededf0"/>
<rect x="238.97" y="63.94" width="3.75" height="6.3" fill="#ededf0"/>
<rect x="243.23" y="63.94" width="3.75" height="6.3" fill="#ededf0"/>
<rect x="247.48" y="63.94" width="3.75" height="6.3" fill="#ededf0"/>
<rect x="251.74" y="63.94" width="3.75" height="6.3" fill="#ededf0"/>
<rect x="256" y="63.94" width="3.75" height="6.3" fill="#ededf0"/>
<rect x="260.25" y="63.94" width="3.75" height="6.3" fill="#ededf0"/>
<rect x="264.5" y="63.94" width="3.75" height="6.3" fill="#ededf0"/>
<rect x="268.76" y="63.94" width="3.75" height="6.3" fill="#ededf0"/>
<rect x="273.01" y="63.94" width="3.75" height="6.3" fill="#ededf0"/>
<rect x="277.27" y="63.94" width="3.75" height="6.3" fill="#ededf0"/>
<rect x="281.52" y="63.94" width="3.75" height="6.3" fill="#ededf0"/>
<rect x="285.78" y="63.94" width="3.75" height="6.3" fill="#ededf0"/>
<rect x="290.03" y="63.94" width="3.75" height="6.3" fill="#ededf0"/>
<rect x="294.29" y="63.94" width="3.75" height="6.3" fill="#ededf0"/>
<rect x="298.54" y="63.94" width="3.75" height="6.3" fill="#ededf0"/>
<rect x="302.8" y="63.94" width="3.75" height="6.3" fill="#ededf0"/>
<rect x="307.05" y="63.94" width="3.75" height="6.3" fill="#ededf0"/>
<rect x="311.31" y="63.94" width="3.75" height="6.3" fill="#ededf0"/>
<rect x="315.56" y="63.94" width="3.75" height="6.3" fill="#ededf0"/>
<rect x="319.82" y="63.94" width="3.75" height="6.3" fill="#ededf0"/>
<rect x="324.07" y="63.94" width="3.75" height="6.3" fill="#ededf0"/>
<rect x="328.33" y="63.94" width="3.75" height="6.3" fill="#ededf0"/>
<rect x="332.58" y="63.94" width="3.75" height="6.3" fill="#ededf0"/>
<rect x="336.84" y="63.94" width="3.75" height="6.3" fill="#ededf0"/>
<rect x="341.09" y="63.94" width="3.75" height="6.3" fill="#ededf0"/>
<rect x="345.35" y="63.94" width="3.75" height="6.3" fill="#ededf0"/>
<rect x="73.03" y="70.87" width="3.75" height="6.3" fill="#ededf0"/>
<rect x="77.28" y="70.87" width="3.75" height="6.3" fill="#ededf0"/>
<rect x="81.54" y="70.87" width="3.75" height="6.3" fill="#ededf0"/>
<rect x="85.8" y="70.87" width="3.75" height="6.3" fill="#5aa83a"/>
<rect x="90.05" y="70.87" width="3.75" height="6.3" fill="#ededf0"/>
<rect x="94.31" y="70.87" width="3.75" height="6.3" fill="#ededf0"/>
<rect x="98.56" y="70.87" width="3.75" height="6.3" fill="#ededf0"/>
<rect x="102.81" y="70.87" width="3.75" height="6.3" fill="#ededf0"/>
<rect x="107.07" y="70.87" width="3.75" height="6.3" fill="#ededf0"/>
<rect x="111.33" y="70.87" width="3.75" height="6.3" fill="#ededf0"/>
<rect x="115.58" y="70.87" width="3.75" height="6.3" fill="#ededf0"/>
<rect x="119.84" y="70.87" width="3.75" height="6.3" fill="#ededf0"/>
<rect x="124.09" y="70.87" width="3.75" height="6.3" fill="#ededf0"/>
<rect x="128.34" y="70.87" width="3.75" height="6.3" fill="#ededf0"/>
<rect x="132.6" y="70.87" width="3.75" height="6.3" fill="#ededf0"/>
<rect x="136.85" y="70.87" width="3.75" height="6.3" fill="#ededf0"/>
<rect x="141.11" y="70.87" width="3.75" height="6.3" fill="#ededf0"/>
<rect x="145.36" y="70.87" width="3.75" height="6.3" fill="#ededf0"/>
<rect x="149.62" y="70.87" width="3.75" height="6.3" fill="#ededf0"/>
<rect x="153.88" y="70.87" width="3.75" height="6.3" fill="#ededf0"/>
<rect x="158.13" y="70.87" width="3.75" height="6.3" fill="#ededf0"/>
<rect x="162.39" y="70.87" width="3.75" height="6.3" fill="#ededf0"/>
<rect x="166.64" y="70.87" width="3.75" height="6.3" fill="#ededf0"/>
<rect x="170.9" y="70.87" width="3.75" height="6.3" fill="#ededf0"/>
<rect x="175.15" y="70.87" width="3.75" height="6.3" fill="#ededf0"/>
<rect x="179.41" y="70.87" width="3.75" height="6.3" fill="#ededf0"/>
<rect x="183.66" y="70.87" width="3.75" height="6.3" fill="#ededf0"/>
<rect x="187.91" y="70.87" width="3.75" height="6.3" fill="#ededf0"/>
<rect x="192.17" y="70.87" width="3.75" height="6.3" fill="#ededf0"/>
<rect x="196.42" y="70.87" width="3.75" height="6.3" fill="#ededf0"/>
<rect x="200.68" y="70.87" width="3.75" height="6.3" fill="#ededf0"/>
<rect x="204.94" y="70.87" width="3.75" height="6.3" fill="#ededf0"/>
<rect x="209.19" y="70.87" width="3.75" height="6.3" fill="#ededf0"/>
<rect x="213.44" y="70.87" width="3.75" height="6.3" fill="#ededf0"/>
<rect x="217.7" y="70.87" width="3.75" height="6.3" fill="#ededf0"/>
<rect x="221.95" y="70.87" width="3.75" height="6.3" fill="#ededf0"/>
<rect x="226.21" y="70.87" width="3.75" height="6.3" fill="#ededf0"/>
<rect x="230.47" y="70.87" width="3.75" height="6.3" fill="#ededf0"/>
<rect x="234.72" y="70.87" width="3.75" height="6.3" fill="#ededf0"/>
<rect x="238.97" y="70.87" width="3.75" height="6.3" fill="#ededf0"/>
<rect x="243.23" y="70.87" width="3.75" height="6.3" fill="#ededf0"/>
<rect x="247.48" y="70.87" width="3.75" height="6.3" fill="#ededf0"/>
<rect x="251.74" y="70.87" width="3.75" height="6.3" fill="#ededf0"/>
<rect x="256" y="70.87" width="3.75" height="6.3" fill="#ededf0"/>
<rect x="260.25" y="70.87" width="3.75" height="6.3" fill="#ededf0"/>
<rect x="264.5" y="70.87" width="3.75" height="6.3" fill="#ededf0"/>
<rect x="268.76" y="70.87" width="3.75" height="6.3" fill="#ededf0"/>
<rect x="273.01" y="70.87" width="3.75" height="6.3" fill="#ededf0"/>
<rect x="277.27" y="70.87" width="3.75" height="6.3" fill="#ededf0"/>
<rect x="281.52" y="70.87" width="3.75" height="6.3" fill="#ededf0"/>
<rect x="285.78" y="70.87" width="3.75" height="6.3" fill="#ededf0"/>
<rect x="290.03" y="70.87" width="3.75" height="6.3" fill="#ededf0"/>
<rect x="294.29" y="70.87" width="3.75" height="6.3" fill="#ededf0"/>
<rect x="298.54" y="70.87" width="3.75" height="6.3" fill="#ededf0"/>
<rect x="302.8" y="70.87" width="3.75" height="6.3" fill="#ededf0"/>
<rect x="307.05" y="70.87" width="3.75" height="6.3" fill="#ededf0"/>
<rect x="311.31" y="70.87" width="3.75" height="6.3" fill="#ededf0"/>
<rect x="315.56" y="70.87" width="3.75" height="6.3" fill="#ededf0"/>
<rect x="319.82" y="70.87" width="3.75" height="6.3" fill="#ededf0"/>
<rect x="324.07" y="70.87" width="3.75" height="6.3" fill="#ededf0"/>
<rect x="328.33" y="70.87" width="3.75" height="6.3" fill="#ededf0"/>
<rect x="332.58" y="70.87" width="3.75" height="6.3" fill="#ededf0"/>
<rect x="336.84" y="70.87" width="3.75" height="6.3" fill="#ededf0"/>
<rect x="341.09" y="70.87" width="3.75" height="6.3" fill="#ededf0"/>
<rect x="345.35" y="70.87" width="3.75" height="6.3" fill="#ededf0"/>
<rect x="73.03" y="77.81" width="3.75" height="6.3" fill="#ededf0"/>
<rect x="77.28" y="77.81" width="3.75" height="6.3" fill="#ededf0"/>
<rect x="81.54" y="77.81" width="3.75" height="6.3" fill="#ededf0"/>
<rect x="85.8" y="77.81" width="3.75" height="6.3" fill="#e2890f"/>
<rect x="90.05" y="77.81" width="3.75" height="6.3" fill="#e2890f"/>
<rect x="94.31" y="77.81" width="3.75" height="6.3" fill="#f3c84f"/>
<rect x="98.56" y="77.81" width="3.75" height="6.3" fill="#f3c84f"/>
<rect x="102.81" y="77.81" width="3.75" height="6.3" fill="#f3c84f"/>
<rect x="107.07" y="77.81" width="3.75" height="6.3" fill="#ededf0"/>
<rect x="111.33" y="77.81" width="3.75" height="6.3" fill="#ededf0"/>
<rect x="115.58" y="77.81" width="3.75" height="6.3" fill="#ededf0"/>
<rect x="119.84" y="77.81" width="3.75" height="6.3" fill="#ededf0"/>
<rect x="124.09" y="77.81" width="3.75" height="6.3" fill="#ededf0"/>
<rect x="128.34" y="77.81" width="3.75" height="6.3" fill="#ededf0"/>
<rect x="132.6" y="77.81" width="3.75" height="6.3" fill="#ededf0"/>
<rect x="136.85" y="77.81" width="3.75" height="6.3" fill="#ededf0"/>
<rect x="141.11" y="77.81" width="3.75" height="6.3" fill="#ededf0"/>
<rect x="145.36" y="77.81" width="3.75" height="6.3" fill="#ededf0"/>
<rect x="149.62" y="77.81" width="3.75" height="6.3" fill="#ededf0"/>
<rect x="153.88" y="77.81" width="3.75" height="6.3" fill="#ededf0"/>
<rect x="158.13" y="77.81" width="3.75" height="6.3" fill="#ededf0"/>
<rect x="162.39" y="77.81" width="3.75" height="6.3" fill="#f3c84f"/>
<rect x="166.64" y="77.81" width="3.75" height="6.3" fill="#ededf0"/>
<rect x="170.9" y="77.81" width="3.75" height="6.3" fill="#ededf0"/>
<rect x="175.15" y="77.81" width="3.75" height="6.3" fill="#ededf0"/>
<rect x="179.41" y="77.81" width="3.75" height="6.3" fill="#ededf0"/>
<rect x="183.66" y="77.81" width="3.75" height="6.3" fill="#e2890f"/>
<rect x="187.91" y="77.81" width="3.75" height="6.3" fill="#e2890f"/>
<rect x="192.17" y="77.81" width="3.75" height="6.3" fill="#ededf0"/>
<rect x="196.42" y="77.81" width="3.75" height="6.3" fill="#ededf0"/>
<rect x="200.68" y="77.81" width="3.75" height="6.3" fill="#ededf0"/>
<rect x="204.94" y="77.81" width="3.75" height="6.3" fill="#ededf0"/>
<rect x="209.19" y="77.81" width="3.75" height="6.3" fill="#ededf0"/>
<rect x="213.44" y="77.81" width="3.75" height="6.3" fill="#ededf0"/>
<rect x="217.7" y="77.81" width="3.75" height="6.3" fill="#ededf0"/>
<rect x="221.95" y="77.81" width="3.75" height="6.3" fill="#ededf0"/>
<rect x="226.21" y="77.81" width="3.75" height="6.3" fill="#ededf0"/>
<rect x="230.47" y="77.81" width="3.75" height="6.3" fill="#ededf0"/>
<rect x="234.72" y="77.81" width="3.75" height="6.3" fill="#ededf0"/>
<rect x="238.97" y="77.81" width="3.75" height="6.3" fill="#e2890f"/>
<rect x="243.23" y="77.81" width="3.75" height="6.3" fill="#f3c84f"/>
<rect x="247.48" y="77.81" width="3.75" height="6.3" fill="#ededf0"/>
<rect x="251.74" y="77.81" width="3.75" height="6.3" fill="#ededf0"/>
<rect x="256" y="77.81" width="3.75" height="6.3" fill="#ededf0"/>
<rect x="260.25" y="77.81" width="3.75" height="6.3" fill="#ededf0"/>
<rect x="264.5" y="77.81" width="3.75" height="6.3" fill="#ededf0"/>
<rect x="268.76" y="77.81" width="3.75" height="6.3" fill="#ededf0"/>
<rect x="273.01" y="77.81" width="3.75" height="6.3" fill="#ededf0"/>
<rect x="277.27" y="77.81" width="3.75" height="6.3" fill="#ededf0"/>
<rect x="281.52" y="77.81" width="3.75" height="6.3" fill="#ededf0"/>
<rect x="285.78" y="77.81" width="3.75" height="6.3" fill="#ededf0"/>
<rect x="290.03" y="77.81" width="3.75" height="6.3" fill="#ededf0"/>
<rect x="294.29" y="77.81" width="3.75" height="6.3" fill="#ededf0"/>
<rect x="298.54" y="77.81" width="3.75" height="6.3" fill="#ededf0"/>
<rect x="302.8" y="77.81" width="3.75" height="6.3" fill="#ededf0"/>
<rect x="307.05" y="77.81" width="3.75" height="6.3" fill="#ededf0"/>
<rect x="311.31" y="77.81" width="3.75" height="6.3" fill="#ededf0"/>
<rect x="315.56" y="77.81" width="3.75" height="6.3" fill="#ededf0"/>
<rect x="319.82" y="77.81" width="3.75" height="6.3" fill="#ededf0"/>
<rect x="324.07" y="77.81" width="3.75" height="6.3" fill="#e2890f"/>
<rect x="328.33" y="77.81" width="3.75" height="6.3" fill="#ededf0"/>
<rect x="332.58" y="77.81" width="3.75" height="6.3" fill="#ededf0"/>
<rect x="336.84" y="77.81" width="3.75" height="6.3" fill="#ededf0"/>
<rect x="341.09" y="77.81" width="3.75" height="6.3" fill="#ededf0"/>
<rect x="345.35" y="77.81" width="3.75" height="6.3" fill="#ededf0"/>
<rect x="73.03" y="84.75" width="3.75" height="6.3" fill="#ededf0"/>
<rect x="77.28" y="84.75" width="3.75" height="6.3" fill="#ededf0"/>
<rect x="81.54" y="84.75" width="3.75" height="6.3" fill="#ededf0"/>
<rect x="85.8" y="84.75" width="3.75" height="6.3" fill="#ededf0"/>
<rect x="90.05" y="84.75" width="3.75" height="6.3" fill="#ededf0"/>
<rect x="94.31" y="84.75" width="3.75" height="6.3" fill="#ededf0"/>
<rect x="98.56" y="84.75" width="3.75" height="6.3" fill="#ededf0"/>
<rect x="102.81" y="84.75" width="3.75" height="6.3" fill="#5aa83a"/>
<rect x="107.07" y="84.75" width="3.75" height="6.3" fill="#8e97c9"/>
<rect x="111.33" y="84.75" width="3.75" height="6.3" fill="#5aa83a"/>
<rect x="115.58" y="84.75" width="3.75" height="6.3" fill="#ededf0"/>
<rect x="119.84" y="84.75" width="3.75" height="6.3" fill="#ededf0"/>
<rect x="124.09" y="84.75" width="3.75" height="6.3" fill="#ededf0"/>
<rect x="128.34" y="84.75" width="3.75" height="6.3" fill="#ededf0"/>
<rect x="132.6" y="84.75" width="3.75" height="6.3" fill="#ededf0"/>
<rect x="136.85" y="84.75" width="3.75" height="6.3" fill="#ededf0"/>
<rect x="141.11" y="84.75" width="3.75" height="6.3" fill="#ededf0"/>
<rect x="145.36" y="84.75" width="3.75" height="6.3" fill="#ededf0"/>
<rect x="149.62" y="84.75" width="3.75" height="6.3" fill="#ededf0"/>
<rect x="153.88" y="84.75" width="3.75" height="6.3" fill="#ededf0"/>
<rect x="158.13" y="84.75" width="3.75" height="6.3" fill="#ededf0"/>
<rect x="162.39" y="84.75" width="3.75" height="6.3" fill="#ededf0"/>
<rect x="166.64" y="84.75" width="3.75" height="6.3" fill="#ededf0"/>
<rect x="170.9" y="84.75" width="3.75" height="6.3" fill="#ededf0"/>
<rect x="175.15" y="84.75" width="3.75" height="6.3" fill="#ededf0"/>
<rect x="179.41" y="84.75" width="3.75" height="6.3" fill="#ededf0"/>
<rect x="183.66" y="84.75" width="3.75" height="6.3" fill="#ededf0"/>
<rect x="187.91" y="84.75" width="3.75" height="6.3" fill="#ededf0"/>
<rect x="192.17" y="84.75" width="3.75" height="6.3" fill="#ededf0"/>
<rect x="196.42" y="84.75" width="3.75" height="6.3" fill="#ededf0"/>
<rect x="200.68" y="84.75" width="3.75" height="6.3" fill="#ededf0"/>
<rect x="204.94" y="84.75" width="3.75" height="6.3" fill="#ededf0"/>
<rect x="209.19" y="84.75" width="3.75" height="6.3" fill="#ededf0"/>
<rect x="213.44" y="84.75" width="3.75" height="6.3" fill="#ededf0"/>
<rect x="217.7" y="84.75" width="3.75" height="6.3" fill="#ededf0"/>
<rect x="221.95" y="84.75" width="3.75" height="6.3" fill="#ededf0"/>
<rect x="226.21" y="84.75" width="3.75" height="6.3" fill="#ededf0"/>
<rect x="230.47" y="84.75" width="3.75" height="6.3" fill="#ededf0"/>
<rect x="234.72" y="84.75" width="3.75" height="6.3" fill="#ededf0"/>
<rect x="238.97" y="84.75" width="3.75" height="6.3" fill="#ededf0"/>
<rect x="243.23" y="84.75" width="3.75" height="6.3" fill="#ededf0"/>
<rect x="247.48" y="84.75" width="3.75" height="6.3" fill="#ededf0"/>
<rect x="251.74" y="84.75" width="3.75" height="6.3" fill="#ededf0"/>
<rect x="256" y="84.75" width="3.75" height="6.3" fill="#ededf0"/>
<rect x="260.25" y="84.75" width="3.75" height="6.3" fill="#ededf0"/>
<rect x="264.5" y="84.75" width="3.75" height="6.3" fill="#ededf0"/>
<rect x="268.76" y="84.75" width="3.75" height="6.3" fill="#ededf0"/>
<rect x="273.01" y="84.75" width="3.75" height="6.3" fill="#ededf0"/>
<rect x="277.27" y="84.75" width="3.75" height="6.3" fill="#ededf0"/>
<rect x="281.52" y="84.75" width="3.75" height="6.3" fill="#ededf0"/>
<rect x="285.78" y="84.75" width="3.75" height="6.3" fill="#ededf0"/>
<rect x="290.03" y="84.75" width="3.75" height="6.3" fill="#ededf0"/>
<rect x="294.29" y="84.75" width="3.75" height="6.3" fill="#ededf0"/>
<rect x="298.54" y="84.75" width="3.75" height="6.3" fill="#ededf0"/>
<rect x="302.8" y="84.75" width="3.75" height="6.3" fill="#ededf0"/>
<rect x="307.05" y="84.75" width="3.75" height="6.3" fill="#ededf0"/>
<rect x="311.31" y="84.75" width="3.75" height="6.3" fill="#ededf0"/>
<rect x="315.56" y="84.75" width="3.75" height="6.3" fill="#ededf0"/>
<rect x="319.82" y="84.75" width="3.75" height="6.3" fill="#ededf0"/>
<rect x="324.07" y="84.75" width="3.75" height="6.3" fill="#ededf0"/>
<rect x="328.33" y="84.75" width="3.75" height="6.3" fill="#ededf0"/>
<rect x="332.58" y="84.75" width="3.75" height="6.3" fill="#ededf0"/>
<rect x="336.84" y="84.75" width="3.75" height="6.3" fill="#ededf0"/>
<rect x="341.09" y="84.75" width="3.75" height="6.3" fill="#ededf0"/>
<rect x="345.35" y="84.75" width="3.75" height="6.3" fill="#ededf0"/>
<rect x="73.03" y="91.69" width="3.75" height="6.3" fill="#ededf0"/>
<rect x="77.28" y="91.69" width="3.75" height="6.3" fill="#ededf0"/>
<rect x="81.54" y="91.69" width="3.75" height="6.3" fill="#ededf0"/>
<rect x="85.8" y="91.69" width="3.75" height="6.3" fill="#ededf0"/>
<rect x="90.05" y="91.69" width="3.75" height="6.3" fill="#ededf0"/>
<rect x="94.31" y="91.69" width="3.75" height="6.3" fill="#ededf0"/>
<rect x="98.56" y="91.69" width="3.75" height="6.3" fill="#ededf0"/>
<rect x="102.81" y="91.69" width="3.75" height="6.3" fill="#ededf0"/>
<rect x="107.07" y="91.69" width="3.75" height="6.3" fill="#ededf0"/>
<rect x="111.33" y="91.69" width="3.75" height="6.3" fill="#f3c84f"/>
<rect x="115.58" y="91.69" width="3.75" height="6.3" fill="#f3c84f"/>
<rect x="119.84" y="91.69" width="3.75" height="6.3" fill="#ededf0"/>
<rect x="124.09" y="91.69" width="3.75" height="6.3" fill="#ededf0"/>
<rect x="128.34" y="91.69" width="3.75" height="6.3" fill="#ededf0"/>
<rect x="132.6" y="91.69" width="3.75" height="6.3" fill="#ededf0"/>
<rect x="136.85" y="91.69" width="3.75" height="6.3" fill="#ededf0"/>
<rect x="141.11" y="91.69" width="3.75" height="6.3" fill="#ededf0"/>
<rect x="145.36" y="91.69" width="3.75" height="6.3" fill="#ededf0"/>
<rect x="149.62" y="91.69" width="3.75" height="6.3" fill="#ededf0"/>
<rect x="153.88" y="91.69" width="3.75" height="6.3" fill="#ededf0"/>
<rect x="158.13" y="91.69" width="3.75" height="6.3" fill="#ededf0"/>
<rect x="162.39" y="91.69" width="3.75" height="6.3" fill="#ededf0"/>
<rect x="166.64" y="91.69" width="3.75" height="6.3" fill="#ededf0"/>
<rect x="170.9" y="91.69" width="3.75" height="6.3" fill="#ededf0"/>
<rect x="175.15" y="91.69" width="3.75" height="6.3" fill="#ededf0"/>
<rect x="179.41" y="91.69" width="3.75" height="6.3" fill="#ededf0"/>
<rect x="183.66" y="91.69" width="3.75" height="6.3" fill="#f3c84f"/>
<rect x="187.91" y="91.69" width="3.75" height="6.3" fill="#ededf0"/>
<rect x="192.17" y="91.69" width="3.75" height="6.3" fill="#ededf0"/>
<rect x="196.42" y="91.69" width="3.75" height="6.3" fill="#ededf0"/>
<rect x="200.68" y="91.69" width="3.75" height="6.3" fill="#ededf0"/>
<rect x="204.94" y="91.69" width="3.75" height="6.3" fill="#ededf0"/>
<rect x="209.19" y="91.69" width="3.75" height="6.3" fill="#ededf0"/>
<rect x="213.44" y="91.69" width="3.75" height="6.3" fill="#ededf0"/>
<rect x="217.7" y="91.69" width="3.75" height="6.3" fill="#ededf0"/>
<rect x="221.95" y="91.69" width="3.75" height="6.3" fill="#ededf0"/>
<rect x="226.21" y="91.69" width="3.75" height="6.3" fill="#ededf0"/>
<rect x="230.47" y="91.69" width="3.75" height="6.3" fill="#ededf0"/>
<rect x="234.72" y="91.69" width="3.75" height="6.3" fill="#ededf0"/>
<rect x="238.97" y="91.69" width="3.75" height="6.3" fill="#ededf0"/>
<rect x="243.23" y="91.69" width="3.75" height="6.3" fill="#ededf0"/>
<rect x="247.48" y="91.69" width="3.75" height="6.3" fill="#ededf0"/>
<rect x="251.74" y="91.69" width="3.75" height="6.3" fill="#ededf0"/>
<rect x="256" y="91.69" width="3.75" height="6.3" fill="#ededf0"/>
<rect x="260.25" y="91.69" width="3.75" height="6.3" fill="#ededf0"/>
<rect x="264.5" y="91.69" width="3.75" height="6.3" fill="#ededf0"/>
<rect x="268.76" y="91.69" width="3.75" height="6.3" fill="#ededf0"/>
<rect x="273.01" y="91.69" width="3.75" height="6.3" fill="#ededf0"/>
<rect x="277.27" y="91.69" width="3.75" height="6.3" fill="#ededf0"/>
<rect x="281.52" y="91.69" width="3.75" height="6.3" fill="#ededf0"/>
<rect x="285.78" y="91.69" width="3.75" height="6.3" fill="#ededf0"/>
<rect x="290.03" y="91.69" width="3.75" height="6.3" fill="#ededf0"/>
<rect x="294.29" y="91.69" width="3.75" height="6.3" fill="#ededf0"/>
<rect x="298.54" y="91.69" width="3.75" height="6.3" fill="#ededf0"/>
<rect x="302.8" y="91.69" width="3.75" height="6.3" fill="#ededf0"/>
<rect x="307.05" y="91.69" width="3.75" height="6.3" fill="#ededf0"/>
<rect x="311.31" y="91.69" width="3.75" height="6.3" fill="#ededf0"/>
<rect x="315.56" y="91.69" width="3.75" height="6.3" fill="#ededf0"/>
<rect x="319.82" y="91.69" width="3.75" height="6.3" fill="#ededf0"/>
<rect x="324.07" y="91.69" width="3.75" height="6.3" fill="#ededf0"/>
<rect x="328.33" y="91.69" width="3.75" height="6.3" fill="#ededf0"/>
<rect x="332.58" y="91.69" width="3.75" height="6.3" fill="#ededf0"/>
<rect x="336.84" y="91.69" width="3.75" height="6.3" fill="#ededf0"/>
<rect x="341.09" y="91.69" width="3.75" height="6.3" fill="#ededf0"/>
<rect x="345.35" y="91.69" width="3.75" height="6.3" fill="#ededf0"/>
<rect x="73.03" y="98.62" width="3.75" height="6.3" fill="#ededf0"/>
<rect x="77.28" y="98.62" width="3.75" height="6.3" fill="#ededf0"/>
<rect x="81.54" y="98.62" width="3.75" height="6.3" fill="#ededf0"/>
<rect x="85.8" y="98.62" width="3.75" height="6.3" fill="#ededf0"/>
<rect x="90.05" y="98.62" width="3.75" height="6.3" fill="#ededf0"/>
<rect x="94.31" y="98.62" width="3.75" height="6.3" fill="#ededf0"/>
<rect x="98.56" y="98.62" width="3.75" height="6.3" fill="#ededf0"/>
<rect x="102.81" y="98.62" width="3.75" height="6.3" fill="#ededf0"/>
<rect x="107.07" y="98.62" width="3.75" height="6.3" fill="#ededf0"/>
<rect x="111.33" y="98.62" width="3.75" height="6.3" fill="#ededf0"/>
<rect x="115.58" y="98.62" width="3.75" height="6.3" fill="#ededf0"/>
<rect x="119.84" y="98.62" width="3.75" height="6.3" fill="#5aa83a"/>
<rect x="124.09" y="98.62" width="3.75" height="6.3" fill="#ededf0"/>
<rect x="128.34" y="98.62" width="3.75" height="6.3" fill="#ededf0"/>
<rect x="132.6" y="98.62" width="3.75" height="6.3" fill="#ededf0"/>
<rect x="136.85" y="98.62" width="3.75" height="6.3" fill="#ededf0"/>
<rect x="141.11" y="98.62" width="3.75" height="6.3" fill="#ededf0"/>
<rect x="145.36" y="98.62" width="3.75" height="6.3" fill="#ededf0"/>
<rect x="149.62" y="98.62" width="3.75" height="6.3" fill="#ededf0"/>
<rect x="153.88" y="98.62" width="3.75" height="6.3" fill="#ededf0"/>
<rect x="158.13" y="98.62" width="3.75" height="6.3" fill="#ededf0"/>
<rect x="162.39" y="98.62" width="3.75" height="6.3" fill="#ededf0"/>
<rect x="166.64" y="98.62" width="3.75" height="6.3" fill="#ededf0"/>
<rect x="170.9" y="98.62" width="3.75" height="6.3" fill="#ededf0"/>
<rect x="175.15" y="98.62" width="3.75" height="6.3" fill="#ededf0"/>
<rect x="179.41" y="98.62" width="3.75" height="6.3" fill="#ededf0"/>
<rect x="183.66" y="98.62" width="3.75" height="6.3" fill="#ededf0"/>
<rect x="187.91" y="98.62" width="3.75" height="6.3" fill="#ededf0"/>
<rect x="192.17" y="98.62" width="3.75" height="6.3" fill="#ededf0"/>
<rect x="196.42" y="98.62" width="3.75" height="6.3" fill="#ededf0"/>
<rect x="200.68" y="98.62" width="3.75" height="6.3" fill="#ededf0"/>
<rect x="204.94" y="98.62" width="3.75" height="6.3" fill="#ededf0"/>
<rect x="209.19" y="98.62" width="3.75" height="6.3" fill="#ededf0"/>
<rect x="213.44" y="98.62" width="3.75" height="6.3" fill="#ededf0"/>
<rect x="217.7" y="98.62" width="3.75" height="6.3" fill="#ededf0"/>
<rect x="221.95" y="98.62" width="3.75" height="6.3" fill="#ededf0"/>
<rect x="226.21" y="98.62" width="3.75" height="6.3" fill="#ededf0"/>
<rect x="230.47" y="98.62" width="3.75" height="6.3" fill="#ededf0"/>
<rect x="234.72" y="98.62" width="3.75" height="6.3" fill="#ededf0"/>
<rect x="238.97" y="98.62" width="3.75" height="6.3" fill="#ededf0"/>
<rect x="243.23" y="98.62" width="3.75" height="6.3" fill="#ededf0"/>
<rect x="247.48" y="98.62" width="3.75" height="6.3" fill="#ededf0"/>
<rect x="251.74" y="98.62" width="3.75" height="6.3" fill="#ededf0"/>
<rect x="256" y="98.62" width="3.75" height="6.3" fill="#ededf0"/>
<rect x="260.25" y="98.62" width="3.75" height="6.3" fill="#ededf0"/>
<rect x="264.5" y="98.62" width="3.75" height="6.3" fill="#ededf0"/>
<rect x="268.76" y="98.62" width="3.75" height="6.3" fill="#ededf0"/>
<rect x="273.01" y="98.62" width="3.75" height="6.3" fill="#ededf0"/>
<rect x="277.27" y="98.62" width="3.75" height="6.3" fill="#ededf0"/>
<rect x="281.52" y="98.62" width="3.75" height="6.3" fill="#ededf0"/>
<rect x="285.78" y="98.62" width="3.75" height="6.3" fill="#ededf0"/>
<rect x="290.03" y="98.62" width="3.75" height="6.3" fill="#ededf0"/>
<rect x="294.29" y="98.62" width="3.75" height="6.3" fill="#ededf0"/>
<rect x="298.54" y="98.62" width="3.75" height="6.3" fill="#ededf0"/>
<rect x="302.8" y="98.62" width="3.75" height="6.3" fill="#ededf0"/>
<rect x="307.05" y="98.62" width="3.75" height="6.3" fill="#ededf0"/>
<rect x="311.31" y="98.62" width="3.75" height="6.3" fill="#ededf0"/>
<rect x="315.56" y="98.62" width="3.75" height="6.3" fill="#ededf0"/>
<rect x="319.82" y="98.62" width="3.75" height="6.3" fill="#ededf0"/>
<rect x="324.07" y="98.62" width="3.75" height="6.3" fill="#ededf0"/>
<rect x="328.33" y="98.62" width="3.75" height="6.3" fill="#ededf0"/>
<rect x="332.58" y="98.62" width="3.75" height="6.3" fill="#ededf0"/>
<rect x="336.84" y="98.62" width="3.75" height="6.3" fill="#ededf0"/>
<rect x="341.09" y="98.62" width="3.75" height="6.3" fill="#ededf0"/>
<rect x="345.35" y="98.62" width="3.75" height="6.3" fill="#ededf0"/>
<rect x="73.03" y="105.56" width="3.75" height="6.3" fill="#ededf0"/>
<rect x="77.28" y="105.56" width="3.75" height="6.3" fill="#ededf0"/>
<rect x="81.54" y="105.56" width="3.75" height="6.3" fill="#ededf0"/>
<rect x="85.8" y="105.56" width="3.75" height="6.3" fill="#ededf0"/>
<rect x="90.05" y="105.56" width="3.75" height="6.3" fill="#ededf0"/>
<rect x="94.31" y="105.56" width="3.75" height="6.3" fill="#ededf0"/>
<rect x="98.56" y="105.56" width="3.75" height="6.3" fill="#ededf0"/>
<rect x="102.81" y="105.56" width="3.75" height="6.3" fill="#ededf0"/>
<rect x="107.07" y="105.56" width="3.75" height="6.3" fill="#ededf0"/>
<rect x="111.33" y="105.56" width="3.75" height="6.3" fill="#ededf0"/>
<rect x="115.58" y="105.56" width="3.75" height="6.3" fill="#ededf0"/>
<rect x="119.84" y="105.56" width="3.75" height="6.3" fill="#ededf0"/>
<rect x="124.09" y="105.56" width="3.75" height="6.3" fill="#6b3f8f"/>
<rect x="128.34" y="105.56" width="3.75" height="6.3" fill="#ededf0"/>
<rect x="132.6" y="105.56" width="3.75" height="6.3" fill="#ededf0"/>
<rect x="136.85" y="105.56" width="3.75" height="6.3" fill="#ededf0"/>
<rect x="141.11" y="105.56" width="3.75" height="6.3" fill="#ededf0"/>
<rect x="145.36" y="105.56" width="3.75" height="6.3" fill="#ededf0"/>
<rect x="149.62" y="105.56" width="3.75" height="6.3" fill="#ededf0"/>
<rect x="153.88" y="105.56" width="3.75" height="6.3" fill="#ededf0"/>
<rect x="158.13" y="105.56" width="3.75" height="6.3" fill="#ededf0"/>
<rect x="162.39" y="105.56" width="3.75" height="6.3" fill="#ededf0"/>
<rect x="166.64" y="105.56" width="3.75" height="6.3" fill="#ededf0"/>
<rect x="170.9" y="105.56" width="3.75" height="6.3" fill="#ededf0"/>
<rect x="175.15" y="105.56" width="3.75" height="6.3" fill="#ededf0"/>
<rect x="179.41" y="105.56" width="3.75" height="6.3" fill="#ededf0"/>
<rect x="183.66" y="105.56" width="3.75" height="6.3" fill="#ededf0"/>
<rect x="187.91" y="105.56" width="3.75" height="6.3" fill="#ededf0"/>
<rect x="192.17" y="105.56" width="3.75" height="6.3" fill="#ededf0"/>
<rect x="196.42" y="105.56" width="3.75" height="6.3" fill="#ededf0"/>
<rect x="200.68" y="105.56" width="3.75" height="6.3" fill="#ededf0"/>
<rect x="204.94" y="105.56" width="3.75" height="6.3" fill="#ededf0"/>
<rect x="209.19" y="105.56" width="3.75" height="6.3" fill="#ededf0"/>
<rect x="213.44" y="105.56" width="3.75" height="6.3" fill="#ededf0"/>
<rect x="217.7" y="105.56" width="3.75" height="6.3" fill="#ededf0"/>
<rect x="221.95" y="105.56" width="3.75" height="6.3" fill="#ededf0"/>
<rect x="226.21" y="105.56" width="3.75" height="6.3" fill="#ededf0"/>
<rect x="230.47" y="105.56" width="3.75" height="6.3" fill="#ededf0"/>
<rect x="234.72" y="105.56" width="3.75" height="6.3" fill="#ededf0"/>
<rect x="238.97" y="105.56" width="3.75" height="6.3" fill="#ededf0"/>
<rect x="243.23" y="105.56" width="3.75" height="6.3" fill="#ededf0"/>
<rect x="247.48" y="105.56" width="3.75" height="6.3" fill="#ededf0"/>
<rect x="251.74" y="105.56" width="3.75" height="6.3" fill="#ededf0"/>
<rect x="256" y="105.56" width="3.75" height="6.3" fill="#ededf0"/>
<rect x="260.25" y="105.56" width="3.75" height="6.3" fill="#ededf0"/>
<rect x="264.5" y="105.56" width="3.75" height="6.3" fill="#ededf0"/>
<rect x="268.76" y="105.56" width="3.75" height="6.3" fill="#ededf0"/>
<rect x="273.01" y="105.56" width="3.75" height="6.3" fill="#ededf0"/>
<rect x="277.27" y="105.56" width="3.75" height="6.3" fill="#ededf0"/>
<rect x="281.52" y="105.56" width="3.75" height="6.3" fill="#ededf0"/>
<rect x="285.78" y="105.56" width="3.75" height="6.3" fill="#ededf0"/>
<rect x="290.03" y="105.56" width="3.75" height="6.3" fill="#ededf0"/>
<rect x="294.29" y="105.56" width="3.75" height="6.3" fill="#ededf0"/>
<rect x="298.54" y="105.56" width="3.75" height="6.3" fill="#ededf0"/>
<rect x="302.8" y="105.56" width="3.75" height="6.3" fill="#ededf0"/>
<rect x="307.05" y="105.56" width="3.75" height="6.3" fill="#ededf0"/>
<rect x="311.31" y="105.56" width="3.75" height="6.3" fill="#ededf0"/>
<rect x="315.56" y="105.56" width="3.75" height="6.3" fill="#ededf0"/>
<rect x="319.82" y="105.56" width="3.75" height="6.3" fill="#ededf0"/>
<rect x="324.07" y="105.56" width="3.75" height="6.3" fill="#ededf0"/>
<rect x="328.33" y="105.56" width="3.75" height="6.3" fill="#ededf0"/>
<rect x="332.58" y="105.56" width="3.75" height="6.3" fill="#ededf0"/>
<rect x="336.84" y="105.56" width="3.75" height="6.3" fill="#ededf0"/>
<rect x="341.09" y="105.56" width="3.75" height="6.3" fill="#ededf0"/>
<rect x="345.35" y="105.56" width="3.75" height="6.3" fill="#ededf0"/>
<rect x="73.03" y="112.5" width="3.75" height="6.3" fill="#ededf0"/>
<rect x="77.28" y="112.5" width="3.75" height="6.3" fill="#ededf0"/>
<rect x="81.54" y="112.5" width="3.75" height="6.3" fill="#ededf0"/>
<rect x="85.8" y="112.5" width="3.75" height="6.3" fill="#ededf0"/>
<rect x="90.05" y="112.5" width="3.75" height="6.3" fill="#ededf0"/>
<rect x="94.31" y="112.5" width="3.75" height="6.3" fill="#ededf0"/>
<rect x="98.56" y="112.5" width="3.75" height="6.3" fill="#ededf0"/>
<rect x="102.81" y="112.5" width="3.75" height="6.3" fill="#ededf0"/>
<rect x="107.07" y="112.5" width="3.75" height="6.3" fill="#ededf0"/>
<rect x="111.33" y="112.5" width="3.75" height="6.3" fill="#ededf0"/>
<rect x="115.58" y="112.5" width="3.75" height="6.3" fill="#ededf0"/>
<rect x="119.84" y="112.5" width="3.75" height="6.3" fill="#ededf0"/>
<rect x="124.09" y="112.5" width="3.75" height="6.3" fill="#ededf0"/>
<rect x="128.34" y="112.5" width="3.75" height="6.3" fill="#ededf0"/>
<rect x="132.6" y="112.5" width="3.75" height="6.3" fill="#ededf0"/>
<rect x="136.85" y="112.5" width="3.75" height="6.3" fill="#ededf0"/>
<rect x="141.11" y="112.5" width="3.75" height="6.3" fill="#ededf0"/>
<rect x="145.36" y="112.5" width="3.75" height="6.3" fill="#ededf0"/>
<rect x="149.62" y="112.5" width="3.75" height="6.3" fill="#ededf0"/>
<rect x="153.88" y="112.5" width="3.75" height="6.3" fill="#ededf0"/>
<rect x="158.13" y="112.5" width="3.75" height="6.3" fill="#ededf0"/>
<rect x="162.39" y="112.5" width="3.75" height="6.3" fill="#ededf0"/>
<rect x="166.64" y="112.5" width="3.75" height="6.3" fill="#ededf0"/>
<rect x="170.9" y="112.5" width="3.75" height="6.3" fill="#5aa83a"/>
<rect x="175.15" y="112.5" width="3.75" height="6.3" fill="#ededf0"/>
<rect x="179.41" y="112.5" width="3.75" height="6.3" fill="#ededf0"/>
<rect x="183.66" y="112.5" width="3.75" height="6.3" fill="#ededf0"/>
<rect x="187.91" y="112.5" width="3.75" height="6.3" fill="#ededf0"/>
<rect x="192.17" y="112.5" width="3.75" height="6.3" fill="#ededf0"/>
<rect x="196.42" y="112.5" width="3.75" height="6.3" fill="#ededf0"/>
<rect x="200.68" y="112.5" width="3.75" height="6.3" fill="#ededf0"/>
<rect x="204.94" y="112.5" width="3.75" height="6.3" fill="#ededf0"/>
<rect x="209.19" y="112.5" width="3.75" height="6.3" fill="#ededf0"/>
<rect x="213.44" y="112.5" width="3.75" height="6.3" fill="#ededf0"/>
<rect x="217.7" y="112.5" width="3.75" height="6.3" fill="#ededf0"/>
<rect x="221.95" y="112.5" width="3.75" height="6.3" fill="#ededf0"/>
<rect x="226.21" y="112.5" width="3.75" height="6.3" fill="#ededf0"/>
<rect x="230.47" y="112.5" width="3.75" height="6.3" fill="#ededf0"/>
<rect x="234.72" y="112.5" width="3.75" height="6.3" fill="#ededf0"/>
<rect x="238.97" y="112.5" width="3.75" height="6.3" fill="#ededf0"/>
<rect x="243.23" y="112.5" width="3.75" height="6.3" fill="#ededf0"/>
<rect x="247.48" y="112.5" width="3.75" height="6.3" fill="#ededf0"/>
<rect x="251.74" y="112.5" width="3.75" height="6.3" fill="#ededf0"/>
<rect x="256" y="112.5" width="3.75" height="6.3" fill="#ededf0"/>
<rect x="260.25" y="112.5" width="3.75" height="6.3" fill="#ededf0"/>
<rect x="264.5" y="112.5" width="3.75" height="6.3" fill="#ededf0"/>
<rect x="268.76" y="112.5" width="3.75" height="6.3" fill="#ededf0"/>
<rect x="273.01" y="112.5" width="3.75" height="6.3" fill="#ededf0"/>
<rect x="277.27" y="112.5" width="3.75" height="6.3" fill="#ededf0"/>
<rect x="281.52" y="112.5" width="3.75" height="6.3" fill="#ededf0"/>
<rect x="285.78" y="112.5" width="3.75" height="6.3" fill="#ededf0"/>
<rect x="290.03" y="112.5" width="3.75" height="6.3" fill="#ededf0"/>
<rect x="294.29" y="112.5" width="3.75" height="6.3" fill="#ededf0"/>
<rect x="298.54" y="112.5" width="3.75" height="6.3" fill="#ededf0"/>
<rect x="302.8" y="112.5" width="3.75" height="6.3" fill="#ededf0"/>
<rect x="307.05" y="112.5" width="3.75" height="6.3" fill="#ededf0"/>
<rect x="311.31" y="112.5" width="3.75" height="6.3" fill="#ededf0"/>
<rect x="315.56" y="112.5" width="3.75" height="6.3" fill="#ededf0"/>
<rect x="319.82" y="112.5" width="3.75" height="6.3" fill="#ededf0"/>
<rect x="324.07" y="112.5" width="3.75" height="6.3" fill="#ededf0"/>
<rect x="328.33" y="112.5" width="3.75" height="6.3" fill="#ededf0"/>
<rect x="332.58" y="112.5" width="3.75" height="6.3" fill="#ededf0"/>
<rect x="336.84" y="112.5" width="3.75" height="6.3" fill="#ededf0"/>
<rect x="341.09" y="112.5" width="3.75" height="6.3" fill="#ededf0"/>
<rect x="345.35" y="112.5" width="3.75" height="6.3" fill="#ededf0"/>
<rect x="73.03" y="119.43" width="3.75" height="6.3" fill="#ededf0"/>
<rect x="77.28" y="119.43" width="3.75" height="6.3" fill="#ededf0"/>
<rect x="81.54" y="119.43" width="3.75" height="6.3" fill="#ededf0"/>
<rect x="85.8" y="119.43" width="3.75" height="6.3" fill="#ededf0"/>
<rect x="90.05" y="119.43" width="3.75" height="6.3" fill="#ededf0"/>
<rect x="94.31" y="119.43" width="3.75" height="6.3" fill="#ededf0"/>
<rect x="98.56" y="119.43" width="3.75" height="6.3" fill="#ededf0"/>
<rect x="102.81" y="119.43" width="3.75" height="6.3" fill="#ededf0"/>
<rect x="107.07" y="119.43" width="3.75" height="6.3" fill="#ededf0"/>
<rect x="111.33" y="119.43" width="3.75" height="6.3" fill="#ededf0"/>
<rect x="115.58" y="119.43" width="3.75" height="6.3" fill="#ededf0"/>
<rect x="119.84" y="119.43" width="3.75" height="6.3" fill="#ededf0"/>
<rect x="124.09" y="119.43" width="3.75" height="6.3" fill="#ededf0"/>
<rect x="128.34" y="119.43" width="3.75" height="6.3" fill="#ededf0"/>
<rect x="132.6" y="119.43" width="3.75" height="6.3" fill="#ededf0"/>
<rect x="136.85" y="119.43" width="3.75" height="6.3" fill="#ededf0"/>
<rect x="141.11" y="119.43" width="3.75" height="6.3" fill="#ededf0"/>
<rect x="145.36" y="119.43" width="3.75" height="6.3" fill="#ededf0"/>
<rect x="149.62" y="119.43" width="3.75" height="6.3" fill="#ededf0"/>
<rect x="153.88" y="119.43" width="3.75" height="6.3" fill="#ededf0"/>
<rect x="158.13" y="119.43" width="3.75" height="6.3" fill="#ededf0"/>
<rect x="162.39" y="119.43" width="3.75" height="6.3" fill="#ededf0"/>
<rect x="166.64" y="119.43" width="3.75" height="6.3" fill="#ededf0"/>
<rect x="170.9" y="119.43" width="3.75" height="6.3" fill="#ededf0"/>
<rect x="175.15" y="119.43" width="3.75" height="6.3" fill="#ededf0"/>
<rect x="179.41" y="119.43" width="3.75" height="6.3" fill="#ededf0"/>
<rect x="183.66" y="119.43" width="3.75" height="6.3" fill="#ededf0"/>
<rect x="187.91" y="119.43" width="3.75" height="6.3" fill="#ededf0"/>
<rect x="192.17" y="119.43" width="3.75" height="6.3" fill="#ededf0"/>
<rect x="196.42" y="119.43" width="3.75" height="6.3" fill="#ededf0"/>
<rect x="200.68" y="119.43" width="3.75" height="6.3" fill="#ededf0"/>
<rect x="204.94" y="119.43" width="3.75" height="6.3" fill="#ededf0"/>
<rect x="209.19" y="119.43" width="3.75" height="6.3" fill="#ededf0"/>
<rect x="213.44" y="119.43" width="3.75" height="6.3" fill="#ededf0"/>
<rect x="217.7" y="119.43" width="3.75" height="6.3" fill="#ededf0"/>
<rect x="221.95" y="119.43" width="3.75" height="6.3" fill="#ededf0"/>
<rect x="226.21" y="119.43" width="3.75" height="6.3" fill="#ededf0"/>
<rect x="230.47" y="119.43" width="3.75" height="6.3" fill="#ededf0"/>
<rect x="234.72" y="119.43" width="3.75" height="6.3" fill="#ededf0"/>
<rect x="238.97" y="119.43" width="3.75" height="6.3" fill="#ededf0"/>
<rect x="243.23" y="119.43" width="3.75" height="6.3" fill="#ededf0"/>
<rect x="247.48" y="119.43" width="3.75" height="6.3" fill="#f3c84f"/>
<rect x="251.74" y="119.43" width="3.75" height="6.3" fill="#ededf0"/>
<rect x="256" y="119.43" width="3.75" height="6.3" fill="#ededf0"/>
<rect x="260.25" y="119.43" width="3.75" height="6.3" fill="#ededf0"/>
<rect x="264.5" y="119.43" width="3.75" height="6.3" fill="#ededf0"/>
<rect x="268.76" y="119.43" width="3.75" height="6.3" fill="#ededf0"/>
<rect x="273.01" y="119.43" width="3.75" height="6.3" fill="#ededf0"/>
<rect x="277.27" y="119.43" width="3.75" height="6.3" fill="#ededf0"/>
<rect x="281.52" y="119.43" width="3.75" height="6.3" fill="#ededf0"/>
<rect x="285.78" y="119.43" width="3.75" height="6.3" fill="#ededf0"/>
<rect x="290.03" y="119.43" width="3.75" height="6.3" fill="#ededf0"/>
<rect x="294.29" y="119.43" width="3.75" height="6.3" fill="#ededf0"/>
<rect x="298.54" y="119.43" width="3.75" height="6.3" fill="#ededf0"/>
<rect x="302.8" y="119.43" width="3.75" height="6.3" fill="#ededf0"/>
<rect x="307.05" y="119.43" width="3.75" height="6.3" fill="#ededf0"/>
<rect x="311.31" y="119.43" width="3.75" height="6.3" fill="#ededf0"/>
<rect x="315.56" y="119.43" width="3.75" height="6.3" fill="#ededf0"/>
<rect x="319.82" y="119.43" width="3.75" height="6.3" fill="#ededf0"/>
<rect x="324.07" y="119.43" width="3.75" height="6.3" fill="#ededf0"/>
<rect x="328.33" y="119.43" width="3.75" height="6.3" fill="#ededf0"/>
<rect x="332.58" y="119.43" width="3.75" height="6.3" fill="#ededf0"/>
<rect x="336.84" y="119.43" width="3.75" height="6.3" fill="#ededf0"/>
<rect x="341.09" y="119.43" width="3.75" height="6.3" fill="#ededf0"/>
<rect x="345.35" y="119.43" width="3.75" height="6.3" fill="#ededf0"/>
<rect x="73.03" y="126.37" width="3.75" height="6.3" fill="#ededf0"/>
<rect x="77.28" y="126.37" width="3.75" height="6.3" fill="#ededf0"/>
<rect x="81.54" y="126.37" width="3.75" height="6.3" fill="#ededf0"/>
<rect x="85.8" y="126.37" width="3.75" height="6.3" fill="#ededf0"/>
<rect x="90.05" y="126.37" width="3.75" height="6.3" fill="#ededf0"/>
<rect x="94.31" y="126.37" width="3.75" height="6.3" fill="#ededf0"/>
<rect x="98.56" y="126.37" width="3.75" height="6.3" fill="#ededf0"/>
<rect x="102.81" y="126.37" width="3.75" height="6.3" fill="#ededf0"/>
<rect x="107.07" y="126.37" width="3.75" height="6.3" fill="#ededf0"/>
<rect x="111.33" y="126.37" width="3.75" height="6.3" fill="#ededf0"/>
<rect x="115.58" y="126.37" width="3.75" height="6.3" fill="#ededf0"/>
<rect x="119.84" y="126.37" width="3.75" height="6.3" fill="#ededf0"/>
<rect x="124.09" y="126.37" width="3.75" height="6.3" fill="#ededf0"/>
<rect x="128.34" y="126.37" width="3.75" height="6.3" fill="#ededf0"/>
<rect x="132.6" y="126.37" width="3.75" height="6.3" fill="#ededf0"/>
<rect x="136.85" y="126.37" width="3.75" height="6.3" fill="#ededf0"/>
<rect x="141.11" y="126.37" width="3.75" height="6.3" fill="#ededf0"/>
<rect x="145.36" y="126.37" width="3.75" height="6.3" fill="#ededf0"/>
<rect x="149.62" y="126.37" width="3.75" height="6.3" fill="#ededf0"/>
<rect x="153.88" y="126.37" width="3.75" height="6.3" fill="#ededf0"/>
<rect x="158.13" y="126.37" width="3.75" height="6.3" fill="#ededf0"/>
<rect x="162.39" y="126.37" width="3.75" height="6.3" fill="#ededf0"/>
<rect x="166.64" y="126.37" width="3.75" height="6.3" fill="#ededf0"/>
<rect x="170.9" y="126.37" width="3.75" height="6.3" fill="#ededf0"/>
<rect x="175.15" y="126.37" width="3.75" height="6.3" fill="#ededf0"/>
<rect x="179.41" y="126.37" width="3.75" height="6.3" fill="#ededf0"/>
<rect x="183.66" y="126.37" width="3.75" height="6.3" fill="#ededf0"/>
<rect x="187.91" y="126.37" width="3.75" height="6.3" fill="#ededf0"/>
<rect x="192.17" y="126.37" width="3.75" height="6.3" fill="#ededf0"/>
<rect x="196.42" y="126.37" width="3.75" height="6.3" fill="#ededf0"/>
<rect x="200.68" y="126.37" width="3.75" height="6.3" fill="#ededf0"/>
<rect x="204.94" y="126.37" width="3.75" height="6.3" fill="#ededf0"/>
<rect x="209.19" y="126.37" width="3.75" height="6.3" fill="#ededf0"/>
<rect x="213.44" y="126.37" width="3.75" height="6.3" fill="#ededf0"/>
<rect x="217.7" y="126.37" width="3.75" height="6.3" fill="#ededf0"/>
<rect x="221.95" y="126.37" width="3.75" height="6.3" fill="#ededf0"/>
<rect x="226.21" y="126.37" width="3.75" height="6.3" fill="#ededf0"/>
<rect x="230.47" y="126.37" width="3.75" height="6.3" fill="#ededf0"/>
<rect x="234.72" y="126.37" width="3.75" height="6.3" fill="#ededf0"/>
<rect x="238.97" y="126.37" width="3.75" height="6.3" fill="#ededf0"/>
<rect x="243.23" y="126.37" width="3.75" height="6.3" fill="#ededf0"/>
<rect x="247.48" y="126.37" width="3.75" height="6.3" fill="#ededf0"/>
<rect x="251.74" y="126.37" width="3.75" height="6.3" fill="#ededf0"/>
<rect x="256" y="126.37" width="3.75" height="6.3" fill="#ededf0"/>
<rect x="260.25" y="126.37" width="3.75" height="6.3" fill="#ededf0"/>
<rect x="264.5" y="126.37" width="3.75" height="6.3" fill="#ededf0"/>
<rect x="268.76" y="126.37" width="3.75" height="6.3" fill="#ededf0"/>
<rect x="273.01" y="126.37" width="3.75" height="6.3" fill="#ededf0"/>
<rect x="277.27" y="126.37" width="3.75" height="6.3" fill="#ededf0"/>
<rect x="281.52" y="126.37" width="3.75" height="6.3" fill="#ededf0"/>
<rect x="285.78" y="126.37" width="3.75" height="6.3" fill="#ededf0"/>
<rect x="290.03" y="126.37" width="3.75" height="6.3" fill="#ededf0"/>
<rect x="294.29" y="126.37" width="3.75" height="6.3" fill="#ededf0"/>
<rect x="298.54" y="126.37" width="3.75" height="6.3" fill="#ededf0"/>
<rect x="302.8" y="126.37" width="3.75" height="6.3" fill="#ededf0"/>
<rect x="307.05" y="126.37" width="3.75" height="6.3" fill="#ededf0"/>
<rect x="311.31" y="126.37" width="3.75" height="6.3" fill="#ededf0"/>
<rect x="315.56" y="126.37" width="3.75" height="6.3" fill="#ededf0"/>
<rect x="319.82" y="126.37" width="3.75" height="6.3" fill="#ededf0"/>
<rect x="324.07" y="126.37" width="3.75" height="6.3" fill="#ededf0"/>
<rect x="328.33" y="126.37" width="3.75" height="6.3" fill="#ededf0"/>
<rect x="332.58" y="126.37" width="3.75" height="6.3" fill="#ededf0"/>
<rect x="336.84" y="126.37" width="3.75" height="6.3" fill="#f3c84f"/>
<rect x="341.09" y="126.37" width="3.75" height="6.3" fill="#ededf0"/>
<rect x="345.35" y="126.37" width="3.75" height="6.3" fill="#ededf0"/>
<rect x="73.03" y="133.31" width="3.75" height="6.3" fill="#ededf0"/>
<rect x="77.28" y="133.31" width="3.75" height="6.3" fill="#ededf0"/>
<rect x="81.54" y="133.31" width="3.75" height="6.3" fill="#ededf0"/>
<rect x="85.8" y="133.31" width="3.75" height="6.3" fill="#ededf0"/>
<rect x="90.05" y="133.31" width="3.75" height="6.3" fill="#ededf0"/>
<rect x="94.31" y="133.31" width="3.75" height="6.3" fill="#ededf0"/>
<rect x="98.56" y="133.31" width="3.75" height="6.3" fill="#ededf0"/>
<rect x="102.81" y="133.31" width="3.75" height="6.3" fill="#ededf0"/>
<rect x="107.07" y="133.31" width="3.75" height="6.3" fill="#ededf0"/>
<rect x="111.33" y="133.31" width="3.75" height="6.3" fill="#ededf0"/>
<rect x="115.58" y="133.31" width="3.75" height="6.3" fill="#ededf0"/>
<rect x="119.84" y="133.31" width="3.75" height="6.3" fill="#ededf0"/>
<rect x="124.09" y="133.31" width="3.75" height="6.3" fill="#ededf0"/>
<rect x="128.34" y="133.31" width="3.75" height="6.3" fill="#ededf0"/>
<rect x="132.6" y="133.31" width="3.75" height="6.3" fill="#ededf0"/>
<rect x="136.85" y="133.31" width="3.75" height="6.3" fill="#ededf0"/>
<rect x="141.11" y="133.31" width="3.75" height="6.3" fill="#ededf0"/>
<rect x="145.36" y="133.31" width="3.75" height="6.3" fill="#ededf0"/>
<rect x="149.62" y="133.31" width="3.75" height="6.3" fill="#ededf0"/>
<rect x="153.88" y="133.31" width="3.75" height="6.3" fill="#ededf0"/>
<rect x="158.13" y="133.31" width="3.75" height="6.3" fill="#ededf0"/>
<rect x="162.39" y="133.31" width="3.75" height="6.3" fill="#ededf0"/>
<rect x="166.64" y="133.31" width="3.75" height="6.3" fill="#ededf0"/>
<rect x="170.9" y="133.31" width="3.75" height="6.3" fill="#ededf0"/>
<rect x="175.15" y="133.31" width="3.75" height="6.3" fill="#ededf0"/>
<rect x="179.41" y="133.31" width="3.75" height="6.3" fill="#ededf0"/>
<rect x="183.66" y="133.31" width="3.75" height="6.3" fill="#ededf0"/>
<rect x="187.91" y="133.31" width="3.75" height="6.3" fill="#ededf0"/>
<rect x="192.17" y="133.31" width="3.75" height="6.3" fill="#ededf0"/>
<rect x="196.42" y="133.31" width="3.75" height="6.3" fill="#ededf0"/>
<rect x="200.68" y="133.31" width="3.75" height="6.3" fill="#ededf0"/>
<rect x="204.94" y="133.31" width="3.75" height="6.3" fill="#ededf0"/>
<rect x="209.19" y="133.31" width="3.75" height="6.3" fill="#ededf0"/>
<rect x="213.44" y="133.31" width="3.75" height="6.3" fill="#ededf0"/>
<rect x="217.7" y="133.31" width="3.75" height="6.3" fill="#ededf0"/>
<rect x="221.95" y="133.31" width="3.75" height="6.3" fill="#ededf0"/>
<rect x="226.21" y="133.31" width="3.75" height="6.3" fill="#ededf0"/>
<rect x="230.47" y="133.31" width="3.75" height="6.3" fill="#ededf0"/>
<rect x="234.72" y="133.31" width="3.75" height="6.3" fill="#ededf0"/>
<rect x="238.97" y="133.31" width="3.75" height="6.3" fill="#ededf0"/>
<rect x="243.23" y="133.31" width="3.75" height="6.3" fill="#ededf0"/>
<rect x="247.48" y="133.31" width="3.75" height="6.3" fill="#ededf0"/>
<rect x="251.74" y="133.31" width="3.75" height="6.3" fill="#ededf0"/>
<rect x="256" y="133.31" width="3.75" height="6.3" fill="#ededf0"/>
<rect x="260.25" y="133.31" width="3.75" height="6.3" fill="#ededf0"/>
<rect x="264.5" y="133.31" width="3.75" height="6.3" fill="#ededf0"/>
<rect x="268.76" y="133.31" width="3.75" height="6.3" fill="#ededf0"/>
<rect x="273.01" y="133.31" width="3.75" height="6.3" fill="#ededf0"/>
<rect x="277.27" y="133.31" width="3.75" height="6.3" fill="#ededf0"/>
<rect x="281.52" y="133.31" width="3.75" height="6.3" fill="#ededf0"/>
<rect x="285.78" y="133.31" width="3.75" height="6.3" fill="#ededf0"/>
<rect x="290.03" y="133.31" width="3.75" height="6.3" fill="#ededf0"/>
<rect x="294.29" y="133.31" width="3.75" height="6.3" fill="#ededf0"/>
<rect x="298.54" y="133.31" width="3.75" height="6.3" fill="#ededf0"/>
<rect x="302.8" y="133.31" width="3.75" height="6.3" fill="#ededf0"/>
<rect x="307.05" y="133.31" width="3.75" height="6.3" fill="#ededf0"/>
<rect x="311.31" y="133.31" width="3.75" height="6.3" fill="#ededf0"/>
<rect x="315.56" y="133.31" width="3.75" height="6.3" fill="#ededf0"/>
<rect x="319.82" y="133.31" width="3.75" height="6.3" fill="#ededf0"/>
<rect x="324.07" y="133.31" width="3.75" height="6.3" fill="#ededf0"/>
<rect x="328.33" y="133.31" width="3.75" height="6.3" fill="#ededf0"/>
<rect x="332.58" y="133.31" width="3.75" height="6.3" fill="#ededf0"/>
<rect x="336.84" y="133.31" width="3.75" height="6.3" fill="#ededf0"/>
<rect x="341.09" y="133.31" width="3.75" height="6.3" fill="#5aa83a"/>
<rect x="345.35" y="133.31" width="3.75" height="6.3" fill="#ededf0"/>
<rect x="73.03" y="140.24" width="3.75" height="6.3" fill="#ededf0"/>
<rect x="77.28" y="140.24" width="3.75" height="6.3" fill="#ededf0"/>
<rect x="81.54" y="140.24" width="3.75" height="6.3" fill="#ededf0"/>
<rect x="85.8" y="140.24" width="3.75" height="6.3" fill="#ededf0"/>
<rect x="90.05" y="140.24" width="3.75" height="6.3" fill="#ededf0"/>
<rect x="94.31" y="140.24" width="3.75" height="6.3" fill="#ededf0"/>
<rect x="98.56" y="140.24" width="3.75" height="6.3" fill="#5aa83a"/>
<rect x="102.81" y="140.24" width="3.75" height="6.3" fill="#ededf0"/>
<rect x="107.07" y="140.24" width="3.75" height="6.3" fill="#ededf0"/>
<rect x="111.33" y="140.24" width="3.75" height="6.3" fill="#ededf0"/>
<rect x="115.58" y="140.24" width="3.75" height="6.3" fill="#5aa83a"/>
<rect x="119.84" y="140.24" width="3.75" height="6.3" fill="#ededf0"/>
<rect x="124.09" y="140.24" width="3.75" height="6.3" fill="#ededf0"/>
<rect x="128.34" y="140.24" width="3.75" height="6.3" fill="#ededf0"/>
<rect x="132.6" y="140.24" width="3.75" height="6.3" fill="#ededf0"/>
<rect x="136.85" y="140.24" width="3.75" height="6.3" fill="#ededf0"/>
<rect x="141.11" y="140.24" width="3.75" height="6.3" fill="#ededf0"/>
<rect x="145.36" y="140.24" width="3.75" height="6.3" fill="#ededf0"/>
<rect x="149.62" y="140.24" width="3.75" height="6.3" fill="#ededf0"/>
<rect x="153.88" y="140.24" width="3.75" height="6.3" fill="#ededf0"/>
<rect x="158.13" y="140.24" width="3.75" height="6.3" fill="#ededf0"/>
<rect x="162.39" y="140.24" width="3.75" height="6.3" fill="#ededf0"/>
<rect x="166.64" y="140.24" width="3.75" height="6.3" fill="#ededf0"/>
<rect x="170.9" y="140.24" width="3.75" height="6.3" fill="#ededf0"/>
<rect x="175.15" y="140.24" width="3.75" height="6.3" fill="#ededf0"/>
<rect x="179.41" y="140.24" width="3.75" height="6.3" fill="#ededf0"/>
<rect x="183.66" y="140.24" width="3.75" height="6.3" fill="#ededf0"/>
<rect x="187.91" y="140.24" width="3.75" height="6.3" fill="#ededf0"/>
<rect x="192.17" y="140.24" width="3.75" height="6.3" fill="#ededf0"/>
<rect x="196.42" y="140.24" width="3.75" height="6.3" fill="#ededf0"/>
<rect x="200.68" y="140.24" width="3.75" height="6.3" fill="#ededf0"/>
<rect x="204.94" y="140.24" width="3.75" height="6.3" fill="#ededf0"/>
<rect x="209.19" y="140.24" width="3.75" height="6.3" fill="#ededf0"/>
<rect x="213.44" y="140.24" width="3.75" height="6.3" fill="#ededf0"/>
<rect x="217.7" y="140.24" width="3.75" height="6.3" fill="#ededf0"/>
<rect x="221.95" y="140.24" width="3.75" height="6.3" fill="#ededf0"/>
<rect x="226.21" y="140.24" width="3.75" height="6.3" fill="#ededf0"/>
<rect x="230.47" y="140.24" width="3.75" height="6.3" fill="#ededf0"/>
<rect x="234.72" y="140.24" width="3.75" height="6.3" fill="#ededf0"/>
<rect x="238.97" y="140.24" width="3.75" height="6.3" fill="#ededf0"/>
<rect x="243.23" y="140.24" width="3.75" height="6.3" fill="#ededf0"/>
<rect x="247.48" y="140.24" width="3.75" height="6.3" fill="#ededf0"/>
<rect x="251.74" y="140.24" width="3.75" height="6.3" fill="#5aa83a"/>
<rect x="256" y="140.24" width="3.75" height="6.3" fill="#ededf0"/>
<rect x="260.25" y="140.24" width="3.75" height="6.3" fill="#ededf0"/>
<rect x="264.5" y="140.24" width="3.75" height="6.3" fill="#ededf0"/>
<rect x="268.76" y="140.24" width="3.75" height="6.3" fill="#ededf0"/>
<rect x="273.01" y="140.24" width="3.75" height="6.3" fill="#ededf0"/>
<rect x="277.27" y="140.24" width="3.75" height="6.3" fill="#ededf0"/>
<rect x="281.52" y="140.24" width="3.75" height="6.3" fill="#ededf0"/>
<rect x="285.78" y="140.24" width="3.75" height="6.3" fill="#ededf0"/>
<rect x="290.03" y="140.24" width="3.75" height="6.3" fill="#ededf0"/>
<rect x="294.29" y="140.24" width="3.75" height="6.3" fill="#ededf0"/>
<rect x="298.54" y="140.24" width="3.75" height="6.3" fill="#ededf0"/>
<rect x="302.8" y="140.24" width="3.75" height="6.3" fill="#ededf0"/>
<rect x="307.05" y="140.24" width="3.75" height="6.3" fill="#ededf0"/>
<rect x="311.31" y="140.24" width="3.75" height="6.3" fill="#ededf0"/>
<rect x="315.56" y="140.24" width="3.75" height="6.3" fill="#ededf0"/>
<rect x="319.82" y="140.24" width="3.75" height="6.3" fill="#ededf0"/>
<rect x="324.07" y="140.24" width="3.75" height="6.3" fill="#ededf0"/>
<rect x="328.33" y="140.24" width="3.75" height="6.3" fill="#ededf0"/>
<rect x="332.58" y="140.24" width="3.75" height="6.3" fill="#ededf0"/>
<rect x="336.84" y="140.24" width="3.75" height="6.3" fill="#ededf0"/>
<rect x="341.09" y="140.24" width="3.75" height="6.3" fill="#ededf0"/>
<rect x="345.35" y="140.24" width="3.75" height="6.3" fill="#ededf0"/>
<rect x="73.03" y="147.18" width="3.75" height="6.3" fill="#ededf0"/>
<rect x="77.28" y="147.18" width="3.75" height="6.3" fill="#ededf0"/>
<rect x="81.54" y="147.18" width="3.75" height="6.3" fill="#5aa83a"/>
<rect x="85.8" y="147.18" width="3.75" height="6.3" fill="#ededf0"/>
<rect x="90.05" y="147.18" width="3.75" height="6.3" fill="#ededf0"/>
<rect x="94.31" y="147.18" width="3.75" height="6.3" fill="#ededf0"/>
<rect x="98.56" y="147.18" width="3.75" height="6.3" fill="#ededf0"/>
<rect x="102.81" y="147.18" width="3.75" height="6.3" fill="#ededf0"/>
<rect x="107.07" y="147.18" width="3.75" height="6.3" fill="#ededf0"/>
<rect x="111.33" y="147.18" width="3.75" height="6.3" fill="#ededf0"/>
<rect x="115.58" y="147.18" width="3.75" height="6.3" fill="#ededf0"/>
<rect x="119.84" y="147.18" width="3.75" height="6.3" fill="#ededf0"/>
<rect x="124.09" y="147.18" width="3.75" height="6.3" fill="#ededf0"/>
<rect x="128.34" y="147.18" width="3.75" height="6.3" fill="#5aa83a"/>
<rect x="132.6" y="147.18" width="3.75" height="6.3" fill="#ededf0"/>
<rect x="136.85" y="147.18" width="3.75" height="6.3" fill="#ededf0"/>
<rect x="141.11" y="147.18" width="3.75" height="6.3" fill="#ededf0"/>
<rect x="145.36" y="147.18" width="3.75" height="6.3" fill="#ededf0"/>
<rect x="149.62" y="147.18" width="3.75" height="6.3" fill="#ededf0"/>
<rect x="153.88" y="147.18" width="3.75" height="6.3" fill="#ededf0"/>
<rect x="158.13" y="147.18" width="3.75" height="6.3" fill="#ededf0"/>
<rect x="162.39" y="147.18" width="3.75" height="6.3" fill="#ededf0"/>
<rect x="166.64" y="147.18" width="3.75" height="6.3" fill="#ededf0"/>
<rect x="170.9" y="147.18" width="3.75" height="6.3" fill="#ededf0"/>
<rect x="175.15" y="147.18" width="3.75" height="6.3" fill="#ededf0"/>
<rect x="179.41" y="147.18" width="3.75" height="6.3" fill="#ededf0"/>
<rect x="183.66" y="147.18" width="3.75" height="6.3" fill="#ededf0"/>
<rect x="187.91" y="147.18" width="3.75" height="6.3" fill="#ededf0"/>
<rect x="192.17" y="147.18" width="3.75" height="6.3" fill="#ededf0"/>
<rect x="196.42" y="147.18" width="3.75" height="6.3" fill="#ededf0"/>
<rect x="200.68" y="147.18" width="3.75" height="6.3" fill="#ededf0"/>
<rect x="204.94" y="147.18" width="3.75" height="6.3" fill="#ededf0"/>
<rect x="209.19" y="147.18" width="3.75" height="6.3" fill="#ededf0"/>
<rect x="213.44" y="147.18" width="3.75" height="6.3" fill="#ededf0"/>
<rect x="217.7" y="147.18" width="3.75" height="6.3" fill="#ededf0"/>
<rect x="221.95" y="147.18" width="3.75" height="6.3" fill="#ededf0"/>
<rect x="226.21" y="147.18" width="3.75" height="6.3" fill="#ededf0"/>
<rect x="230.47" y="147.18" width="3.75" height="6.3" fill="#ededf0"/>
<rect x="234.72" y="147.18" width="3.75" height="6.3" fill="#ededf0"/>
<rect x="238.97" y="147.18" width="3.75" height="6.3" fill="#ededf0"/>
<rect x="243.23" y="147.18" width="3.75" height="6.3" fill="#ededf0"/>
<rect x="247.48" y="147.18" width="3.75" height="6.3" fill="#ededf0"/>
<rect x="251.74" y="147.18" width="3.75" height="6.3" fill="#ededf0"/>
<rect x="256" y="147.18" width="3.75" height="6.3" fill="#ededf0"/>
<rect x="260.25" y="147.18" width="3.75" height="6.3" fill="#ededf0"/>
<rect x="264.5" y="147.18" width="3.75" height="6.3" fill="#ededf0"/>
<rect x="268.76" y="147.18" width="3.75" height="6.3" fill="#ededf0"/>
<rect x="273.01" y="147.18" width="3.75" height="6.3" fill="#ededf0"/>
<rect x="277.27" y="147.18" width="3.75" height="6.3" fill="#ededf0"/>
<rect x="281.52" y="147.18" width="3.75" height="6.3" fill="#ededf0"/>
<rect x="285.78" y="147.18" width="3.75" height="6.3" fill="#ededf0"/>
<rect x="290.03" y="147.18" width="3.75" height="6.3" fill="#ededf0"/>
<rect x="294.29" y="147.18" width="3.75" height="6.3" fill="#ededf0"/>
<rect x="298.54" y="147.18" width="3.75" height="6.3" fill="#ededf0"/>
<rect x="302.8" y="147.18" width="3.75" height="6.3" fill="#ededf0"/>
<rect x="307.05" y="147.18" width="3.75" height="6.3" fill="#ededf0"/>
<rect x="311.31" y="147.18" width="3.75" height="6.3" fill="#ededf0"/>
<rect x="315.56" y="147.18" width="3.75" height="6.3" fill="#ededf0"/>
<rect x="319.82" y="147.18" width="3.75" height="6.3" fill="#ededf0"/>
<rect x="324.07" y="147.18" width="3.75" height="6.3" fill="#ededf0"/>
<rect x="328.33" y="147.18" width="3.75" height="6.3" fill="#ededf0"/>
<rect x="332.58" y="147.18" width="3.75" height="6.3" fill="#ededf0"/>
<rect x="336.84" y="147.18" width="3.75" height="6.3" fill="#ededf0"/>
<rect x="341.09" y="147.18" width="3.75" height="6.3" fill="#ededf0"/>
<rect x="345.35" y="147.18" width="3.75" height="6.3" fill="#ededf0"/>
<rect x="73.03" y="154.12" width="3.75" height="6.3" fill="#ededf0"/>
<rect x="77.28" y="154.12" width="3.75" height="6.3" fill="#ededf0"/>
<rect x="81.54" y="154.12" width="3.75" height="6.3" fill="#ededf0"/>
<rect x="85.8" y="154.12" width="3.75" height="6.3" fill="#e2890f"/>
<rect x="90.05" y="154.12" width="3.75" height="6.3" fill="#ededf0"/>
<rect x="94.31" y="154.12" width="3.75" height="6.3" fill="#ededf0"/>
<rect x="98.56" y="154.12" width="3.75" height="6.3" fill="#ededf0"/>
<rect x="102.81" y="154.12" width="3.75" height="6.3" fill="#ededf0"/>
<rect x="107.07" y="154.12" width="3.75" height="6.3" fill="#ededf0"/>
<rect x="111.33" y="154.12" width="3.75" height="6.3" fill="#ededf0"/>
<rect x="115.58" y="154.12" width="3.75" height="6.3" fill="#ededf0"/>
<rect x="119.84" y="154.12" width="3.75" height="6.3" fill="#ededf0"/>
<rect x="124.09" y="154.12" width="3.75" height="6.3" fill="#ededf0"/>
<rect x="128.34" y="154.12" width="3.75" height="6.3" fill="#ededf0"/>
<rect x="132.6" y="154.12" width="3.75" height="6.3" fill="#ededf0"/>
<rect x="136.85" y="154.12" width="3.75" height="6.3" fill="#ededf0"/>
<rect x="141.11" y="154.12" width="3.75" height="6.3" fill="#ededf0"/>
<rect x="145.36" y="154.12" width="3.75" height="6.3" fill="#ededf0"/>
<rect x="149.62" y="154.12" width="3.75" height="6.3" fill="#ededf0"/>
<rect x="153.88" y="154.12" width="3.75" height="6.3" fill="#ededf0"/>
<rect x="158.13" y="154.12" width="3.75" height="6.3" fill="#ededf0"/>
<rect x="162.39" y="154.12" width="3.75" height="6.3" fill="#ededf0"/>
<rect x="166.64" y="154.12" width="3.75" height="6.3" fill="#ededf0"/>
<rect x="170.9" y="154.12" width="3.75" height="6.3" fill="#ededf0"/>
<rect x="175.15" y="154.12" width="3.75" height="6.3" fill="#ededf0"/>
<rect x="179.41" y="154.12" width="3.75" height="6.3" fill="#ededf0"/>
<rect x="183.66" y="154.12" width="3.75" height="6.3" fill="#ededf0"/>
<rect x="187.91" y="154.12" width="3.75" height="6.3" fill="#ededf0"/>
<rect x="192.17" y="154.12" width="3.75" height="6.3" fill="#5aa83a"/>
<rect x="196.42" y="154.12" width="3.75" height="6.3" fill="#ededf0"/>
<rect x="200.68" y="154.12" width="3.75" height="6.3" fill="#ededf0"/>
<rect x="204.94" y="154.12" width="3.75" height="6.3" fill="#ededf0"/>
<rect x="209.19" y="154.12" width="3.75" height="6.3" fill="#ededf0"/>
<rect x="213.44" y="154.12" width="3.75" height="6.3" fill="#ededf0"/>
<rect x="217.7" y="154.12" width="3.75" height="6.3" fill="#ededf0"/>
<rect x="221.95" y="154.12" width="3.75" height="6.3" fill="#ededf0"/>
<rect x="226.21" y="154.12" width="3.75" height="6.3" fill="#ededf0"/>
<rect x="230.47" y="154.12" width="3.75" height="6.3" fill="#ededf0"/>
<rect x="234.72" y="154.12" width="3.75" height="6.3" fill="#ededf0"/>
<rect x="238.97" y="154.12" width="3.75" height="6.3" fill="#ededf0"/>
<rect x="243.23" y="154.12" width="3.75" height="6.3" fill="#ededf0"/>
<rect x="247.48" y="154.12" width="3.75" height="6.3" fill="#ededf0"/>
<rect x="251.74" y="154.12" width="3.75" height="6.3" fill="#ededf0"/>
<rect x="256" y="154.12" width="3.75" height="6.3" fill="#ededf0"/>
<rect x="260.25" y="154.12" width="3.75" height="6.3" fill="#ededf0"/>
<rect x="264.5" y="154.12" width="3.75" height="6.3" fill="#ededf0"/>
<rect x="268.76" y="154.12" width="3.75" height="6.3" fill="#ededf0"/>
<rect x="273.01" y="154.12" width="3.75" height="6.3" fill="#ededf0"/>
<rect x="277.27" y="154.12" width="3.75" height="6.3" fill="#ededf0"/>
<rect x="281.52" y="154.12" width="3.75" height="6.3" fill="#ededf0"/>
<rect x="285.78" y="154.12" width="3.75" height="6.3" fill="#ededf0"/>
<rect x="290.03" y="154.12" width="3.75" height="6.3" fill="#ededf0"/>
<rect x="294.29" y="154.12" width="3.75" height="6.3" fill="#ededf0"/>
<rect x="298.54" y="154.12" width="3.75" height="6.3" fill="#ededf0"/>
<rect x="302.8" y="154.12" width="3.75" height="6.3" fill="#ededf0"/>
<rect x="307.05" y="154.12" width="3.75" height="6.3" fill="#ededf0"/>
<rect x="311.31" y="154.12" width="3.75" height="6.3" fill="#ededf0"/>
<rect x="315.56" y="154.12" width="3.75" height="6.3" fill="#ededf0"/>
<rect x="319.82" y="154.12" width="3.75" height="6.3" fill="#ededf0"/>
<rect x="324.07" y="154.12" width="3.75" height="6.3" fill="#ededf0"/>
<rect x="328.33" y="154.12" width="3.75" height="6.3" fill="#ededf0"/>
<rect x="332.58" y="154.12" width="3.75" height="6.3" fill="#ededf0"/>
<rect x="336.84" y="154.12" width="3.75" height="6.3" fill="#ededf0"/>
<rect x="341.09" y="154.12" width="3.75" height="6.3" fill="#ededf0"/>
<rect x="345.35" y="154.12" width="3.75" height="6.3" fill="#ededf0"/>
<rect x="73.03" y="161.06" width="3.75" height="6.3" fill="#ededf0"/>
<rect x="77.28" y="161.06" width="3.75" height="6.3" fill="#ededf0"/>
<rect x="81.54" y="161.06" width="3.75" height="6.3" fill="#ededf0"/>
<rect x="85.8" y="161.06" width="3.75" height="6.3" fill="#ededf0"/>
<rect x="90.05" y="161.06" width="3.75" height="6.3" fill="#ededf0"/>
<rect x="94.31" y="161.06" width="3.75" height="6.3" fill="#ededf0"/>
<rect x="98.56" y="161.06" width="3.75" height="6.3" fill="#ededf0"/>
<rect x="102.81" y="161.06" width="3.75" height="6.3" fill="#ededf0"/>
<rect x="107.07" y="161.06" width="3.75" height="6.3" fill="#ededf0"/>
<rect x="111.33" y="161.06" width="3.75" height="6.3" fill="#ededf0"/>
<rect x="115.58" y="161.06" width="3.75" height="6.3" fill="#ededf0"/>
<rect x="119.84" y="161.06" width="3.75" height="6.3" fill="#5aa83a"/>
<rect x="124.09" y="161.06" width="3.75" height="6.3" fill="#ededf0"/>
<rect x="128.34" y="161.06" width="3.75" height="6.3" fill="#ededf0"/>
<rect x="132.6" y="161.06" width="3.75" height="6.3" fill="#ededf0"/>
<rect x="136.85" y="161.06" width="3.75" height="6.3" fill="#ededf0"/>
<rect x="141.11" y="161.06" width="3.75" height="6.3" fill="#ededf0"/>
<rect x="145.36" y="161.06" width="3.75" height="6.3" fill="#ededf0"/>
<rect x="149.62" y="161.06" width="3.75" height="6.3" fill="#ededf0"/>
<rect x="153.88" y="161.06" width="3.75" height="6.3" fill="#ededf0"/>
<rect x="158.13" y="161.06" width="3.75" height="6.3" fill="#ededf0"/>
<rect x="162.39" y="161.06" width="3.75" height="6.3" fill="#ededf0"/>
<rect x="166.64" y="161.06" width="3.75" height="6.3" fill="#5aa83a"/>
<rect x="170.9" y="161.06" width="3.75" height="6.3" fill="#ededf0"/>
<rect x="175.15" y="161.06" width="3.75" height="6.3" fill="#ededf0"/>
<rect x="179.41" y="161.06" width="3.75" height="6.3" fill="#ededf0"/>
<rect x="183.66" y="161.06" width="3.75" height="6.3" fill="#ededf0"/>
<rect x="187.91" y="161.06" width="3.75" height="6.3" fill="#ededf0"/>
<rect x="192.17" y="161.06" width="3.75" height="6.3" fill="#ededf0"/>
<rect x="196.42" y="161.06" width="3.75" height="6.3" fill="#ededf0"/>
<rect x="200.68" y="161.06" width="3.75" height="6.3" fill="#ededf0"/>
<rect x="204.94" y="161.06" width="3.75" height="6.3" fill="#ededf0"/>
<rect x="209.19" y="161.06" width="3.75" height="6.3" fill="#ededf0"/>
<rect x="213.44" y="161.06" width="3.75" height="6.3" fill="#ededf0"/>
<rect x="217.7" y="161.06" width="3.75" height="6.3" fill="#ededf0"/>
<rect x="221.95" y="161.06" width="3.75" height="6.3" fill="#ededf0"/>
<rect x="226.21" y="161.06" width="3.75" height="6.3" fill="#ededf0"/>
<rect x="230.47" y="161.06" width="3.75" height="6.3" fill="#ededf0"/>
<rect x="234.72" y="161.06" width="3.75" height="6.3" fill="#ededf0"/>
<rect x="238.97" y="161.06" width="3.75" height="6.3" fill="#ededf0"/>
<rect x="243.23" y="161.06" width="3.75" height="6.3" fill="#ededf0"/>
<rect x="247.48" y="161.06" width="3.75" height="6.3" fill="#ededf0"/>
<rect x="251.74" y="161.06" width="3.75" height="6.3" fill="#ededf0"/>
<rect x="256" y="161.06" width="3.75" height="6.3" fill="#ededf0"/>
<rect x="260.25" y="161.06" width="3.75" height="6.3" fill="#ededf0"/>
<rect x="264.5" y="161.06" width="3.75" height="6.3" fill="#ededf0"/>
<rect x="268.76" y="161.06" width="3.75" height="6.3" fill="#ededf0"/>
<rect x="273.01" y="161.06" width="3.75" height="6.3" fill="#ededf0"/>
<rect x="277.27" y="161.06" width="3.75" height="6.3" fill="#ededf0"/>
<rect x="281.52" y="161.06" width="3.75" height="6.3" fill="#ededf0"/>
<rect x="285.78" y="161.06" width="3.75" height="6.3" fill="#ededf0"/>
<rect x="290.03" y="161.06" width="3.75" height="6.3" fill="#ededf0"/>
<rect x="294.29" y="161.06" width="3.75" height="6.3" fill="#ededf0"/>
<rect x="298.54" y="161.06" width="3.75" height="6.3" fill="#ededf0"/>
<rect x="302.8" y="161.06" width="3.75" height="6.3" fill="#ededf0"/>
<rect x="307.05" y="161.06" width="3.75" height="6.3" fill="#ededf0"/>
<rect x="311.31" y="161.06" width="3.75" height="6.3" fill="#ededf0"/>
<rect x="315.56" y="161.06" width="3.75" height="6.3" fill="#ededf0"/>
<rect x="319.82" y="161.06" width="3.75" height="6.3" fill="#ededf0"/>
<rect x="324.07" y="161.06" width="3.75" height="6.3" fill="#ededf0"/>
<rect x="328.33" y="161.06" width="3.75" height="6.3" fill="#ededf0"/>
<rect x="332.58" y="161.06" width="3.75" height="6.3" fill="#ededf0"/>
<rect x="336.84" y="161.06" width="3.75" height="6.3" fill="#ededf0"/>
<rect x="341.09" y="161.06" width="3.75" height="6.3" fill="#ededf0"/>
<rect x="345.35" y="161.06" width="3.75" height="6.3" fill="#ededf0"/>
<rect x="73.03" y="167.99" width="3.75" height="6.3" fill="#ededf0"/>
<rect x="77.28" y="167.99" width="3.75" height="6.3" fill="#ededf0"/>
<rect x="81.54" y="167.99" width="3.75" height="6.3" fill="#ededf0"/>
<rect x="85.8" y="167.99" width="3.75" height="6.3" fill="#ededf0"/>
<rect x="90.05" y="167.99" width="3.75" height="6.3" fill="#ededf0"/>
<rect x="94.31" y="167.99" width="3.75" height="6.3" fill="#ededf0"/>
<rect x="98.56" y="167.99" width="3.75" height="6.3" fill="#ededf0"/>
<rect x="102.81" y="167.99" width="3.75" height="6.3" fill="#ededf0"/>
<rect x="107.07" y="167.99" width="3.75" height="6.3" fill="#ededf0"/>
<rect x="111.33" y="167.99" width="3.75" height="6.3" fill="#ededf0"/>
<rect x="115.58" y="167.99" width="3.75" height="6.3" fill="#ededf0"/>
<rect x="119.84" y="167.99" width="3.75" height="6.3" fill="#ededf0"/>
<rect x="124.09" y="167.99" width="3.75" height="6.3" fill="#ededf0"/>
<rect x="128.34" y="167.99" width="3.75" height="6.3" fill="#ededf0"/>
<rect x="132.6" y="167.99" width="3.75" height="6.3" fill="#e2890f"/>
<rect x="136.85" y="167.99" width="3.75" height="6.3" fill="#ededf0"/>
<rect x="141.11" y="167.99" width="3.75" height="6.3" fill="#ededf0"/>
<rect x="145.36" y="167.99" width="3.75" height="6.3" fill="#ededf0"/>
<rect x="149.62" y="167.99" width="3.75" height="6.3" fill="#ededf0"/>
<rect x="153.88" y="167.99" width="3.75" height="6.3" fill="#ededf0"/>
<rect x="158.13" y="167.99" width="3.75" height="6.3" fill="#ededf0"/>
<rect x="162.39" y="167.99" width="3.75" height="6.3" fill="#ededf0"/>
<rect x="166.64" y="167.99" width="3.75" height="6.3" fill="#ededf0"/>
<rect x="170.9" y="167.99" width="3.75" height="6.3" fill="#ededf0"/>
<rect x="175.15" y="167.99" width="3.75" height="6.3" fill="#ededf0"/>
<rect x="179.41" y="167.99" width="3.75" height="6.3" fill="#ededf0"/>
<rect x="183.66" y="167.99" width="3.75" height="6.3" fill="#ededf0"/>
<rect x="187.91" y="167.99" width="3.75" height="6.3" fill="#ededf0"/>
<rect x="192.17" y="167.99" width="3.75" height="6.3" fill="#ededf0"/>
<rect x="196.42" y="167.99" width="3.75" height="6.3" fill="#ededf0"/>
<rect x="200.68" y="167.99" width="3.75" height="6.3" fill="#ededf0"/>
<rect x="204.94" y="167.99" width="3.75" height="6.3" fill="#ededf0"/>
<rect x="209.19" y="167.99" width="3.75" height="6.3" fill="#ededf0"/>
<rect x="213.44" y="167.99" width="3.75" height="6.3" fill="#ededf0"/>
<rect x="217.7" y="167.99" width="3.75" height="6.3" fill="#ededf0"/>
<rect x="221.95" y="167.99" width="3.75" height="6.3" fill="#ededf0"/>
<rect x="226.21" y="167.99" width="3.75" height="6.3" fill="#ededf0"/>
<rect x="230.47" y="167.99" width="3.75" height="6.3" fill="#ededf0"/>
<rect x="234.72" y="167.99" width="3.75" height="6.3" fill="#ededf0"/>
<rect x="238.97" y="167.99" width="3.75" height="6.3" fill="#ededf0"/>
<rect x="243.23" y="167.99" width="3.75" height="6.3" fill="#ededf0"/>
<rect x="247.48" y="167.99" width="3.75" height="6.3" fill="#ededf0"/>
<rect x="251.74" y="167.99" width="3.75" height="6.3" fill="#ededf0"/>
<rect x="256" y="167.99" width="3.75" height="6.3" fill="#ededf0"/>
<rect x="260.25" y="167.99" width="3.75" height="6.3" fill="#ededf0"/>
<rect x="264.5" y="167.99" width="3.75" height="6.3" fill="#ededf0"/>
<rect x="268.76" y="167.99" width="3.75" height="6.3" fill="#ededf0"/>
<rect x="273.01" y="167.99" width="3.75" height="6.3" fill="#ededf0"/>
<rect x="277.27" y="167.99" width="3.75" height="6.3" fill="#ededf0"/>
<rect x="281.52" y="167.99" width="3.75" height="6.3" fill="#ededf0"/>
<rect x="285.78" y="167.99" width="3.75" height="6.3" fill="#ededf0"/>
<rect x="290.03" y="167.99" width="3.75" height="6.3" fill="#ededf0"/>
<rect x="294.29" y="167.99" width="3.75" height="6.3" fill="#ededf0"/>
<rect x="298.54" y="167.99" width="3.75" height="6.3" fill="#ededf0"/>
<rect x="302.8" y="167.99" width="3.75" height="6.3" fill="#ededf0"/>
<rect x="307.05" y="167.99" width="3.75" height="6.3" fill="#ededf0"/>
<rect x="311.31" y="167.99" width="3.75" height="6.3" fill="#ededf0"/>
<rect x="315.56" y="167.99" width="3.75" height="6.3" fill="#ededf0"/>
<rect x="319.82" y="167.99" width="3.75" height="6.3" fill="#ededf0"/>
<rect x="324.07" y="167.99" width="3.75" height="6.3" fill="#ededf0"/>
<rect x="328.33" y="167.99" width="3.75" height="6.3" fill="#ededf0"/>
<rect x="332.58" y="167.99" width="3.75" height="6.3" fill="#ededf0"/>
<rect x="336.84" y="167.99" width="3.75" height="6.3" fill="#ededf0"/>
<rect x="341.09" y="167.99" width="3.75" height="6.3" fill="#ededf0"/>
<rect x="345.35" y="167.99" width="3.75" height="6.3" fill="#ededf0"/>
<rect x="73.03" y="174.93" width="3.75" height="6.3" fill="#ededf0"/>
<rect x="77.28" y="174.93" width="3.75" height="6.3" fill="#ededf0"/>
<rect x="81.54" y="174.93" width="3.75" height="6.3" fill="#ededf0"/>
<rect x="85.8" y="174.93" width="3.75" height="6.3" fill="#ededf0"/>
<rect x="90.05" y="174.93" width="3.75" height="6.3" fill="#ededf0"/>
<rect x="94.31" y="174.93" width="3.75" height="6.3" fill="#ededf0"/>
<rect x="98.56" y="174.93" width="3.75" height="6.3" fill="#ededf0"/>
<rect x="102.81" y="174.93" width="3.75" height="6.3" fill="#ededf0"/>
<rect x="107.07" y="174.93" width="3.75" height="6.3" fill="#ededf0"/>
<rect x="111.33" y="174.93" width="3.75" height="6.3" fill="#ededf0"/>
<rect x="115.58" y="174.93" width="3.75" height="6.3" fill="#ededf0"/>
<rect x="119.84" y="174.93" width="3.75" height="6.3" fill="#ededf0"/>
<rect x="124.09" y="174.93" width="3.75" height="6.3" fill="#f3c84f"/>
<rect x="128.34" y="174.93" width="3.75" height="6.3" fill="#ededf0"/>
<rect x="132.6" y="174.93" width="3.75" height="6.3" fill="#ededf0"/>
<rect x="136.85" y="174.93" width="3.75" height="6.3" fill="#ededf0"/>
<rect x="141.11" y="174.93" width="3.75" height="6.3" fill="#ededf0"/>
<rect x="145.36" y="174.93" width="3.75" height="6.3" fill="#ededf0"/>
<rect x="149.62" y="174.93" width="3.75" height="6.3" fill="#ededf0"/>
<rect x="153.88" y="174.93" width="3.75" height="6.3" fill="#ededf0"/>
<rect x="158.13" y="174.93" width="3.75" height="6.3" fill="#ededf0"/>
<rect x="162.39" y="174.93" width="3.75" height="6.3" fill="#ededf0"/>
<rect x="166.64" y="174.93" width="3.75" height="6.3" fill="#ededf0"/>
<rect x="170.9" y="174.93" width="3.75" height="6.3" fill="#ededf0"/>
<rect x="175.15" y="174.93" width="3.75" height="6.3" fill="#ededf0"/>
<rect x="179.41" y="174.93" width="3.75" height="6.3" fill="#ededf0"/>
<rect x="183.66" y="174.93" width="3.75" height="6.3" fill="#ededf0"/>
<rect x="187.91" y="174.93" width="3.75" height="6.3" fill="#ededf0"/>
<rect x="192.17" y="174.93" width="3.75" height="6.3" fill="#ededf0"/>
<rect x="196.42" y="174.93" width="3.75" height="6.3" fill="#ededf0"/>
<rect x="200.68" y="174.93" width="3.75" height="6.3" fill="#ededf0"/>
<rect x="204.94" y="174.93" width="3.75" height="6.3" fill="#ededf0"/>
<rect x="209.19" y="174.93" width="3.75" height="6.3" fill="#ededf0"/>
<rect x="213.44" y="174.93" width="3.75" height="6.3" fill="#ededf0"/>
<rect x="217.7" y="174.93" width="3.75" height="6.3" fill="#ededf0"/>
<rect x="221.95" y="174.93" width="3.75" height="6.3" fill="#ededf0"/>
<rect x="226.21" y="174.93" width="3.75" height="6.3" fill="#ededf0"/>
<rect x="230.47" y="174.93" width="3.75" height="6.3" fill="#ededf0"/>
<rect x="234.72" y="174.93" width="3.75" height="6.3" fill="#ededf0"/>
<rect x="238.97" y="174.93" width="3.75" height="6.3" fill="#ededf0"/>
<rect x="243.23" y="174.93" width="3.75" height="6.3" fill="#ededf0"/>
<rect x="247.48" y="174.93" width="3.75" height="6.3" fill="#ededf0"/>
<rect x="251.74" y="174.93" width="3.75" height="6.3" fill="#ededf0"/>
<rect x="256" y="174.93" width="3.75" height="6.3" fill="#ededf0"/>
<rect x="260.25" y="174.93" width="3.75" height="6.3" fill="#ededf0"/>
<rect x="264.5" y="174.93" width="3.75" height="6.3" fill="#ededf0"/>
<rect x="268.76" y="174.93" width="3.75" height="6.3" fill="#ededf0"/>
<rect x="273.01" y="174.93" width="3.75" height="6.3" fill="#ededf0"/>
<rect x="277.27" y="174.93" width="3.75" height="6.3" fill="#ededf0"/>
<rect x="281.52" y="174.93" width="3.75" height="6.3" fill="#ededf0"/>
<rect x="285.78" y="174.93" width="3.75" height="6.3" fill="#ededf0"/>
<rect x="290.03" y="174.93" width="3.75" height="6.3" fill="#ededf0"/>
<rect x="294.29" y="174.93" width="3.75" height="6.3" fill="#ededf0"/>
<rect x="298.54" y="174.93" width="3.75" height="6.3" fill="#ededf0"/>
<rect x="302.8" y="174.93" width="3.75" height="6.3" fill="#ededf0"/>
<rect x="307.05" y="174.93" width="3.75" height="6.3" fill="#ededf0"/>
<rect x="311.31" y="174.93" width="3.75" height="6.3" fill="#ededf0"/>
<rect x="315.56" y="174.93" width="3.75" height="6.3" fill="#ededf0"/>
<rect x="319.82" y="174.93" width="3.75" height="6.3" fill="#ededf0"/>
<rect x="324.07" y="174.93" width="3.75" height="6.3" fill="#ededf0"/>
<rect x="328.33" y="174.93" width="3.75" height="6.3" fill="#ededf0"/>
<rect x="332.58" y="174.93" width="3.75" height="6.3" fill="#ededf0"/>
<rect x="336.84" y="174.93" width="3.75" height="6.3" fill="#ededf0"/>
<rect x="341.09" y="174.93" width="3.75" height="6.3" fill="#ededf0"/>
<rect x="345.35" y="174.93" width="3.75" height="6.3" fill="#ededf0"/>
<rect x="73.03" y="181.87" width="3.75" height="6.3" fill="#ededf0"/>
<rect x="77.28" y="181.87" width="3.75" height="6.3" fill="#ededf0"/>
<rect x="81.54" y="181.87" width="3.75" height="6.3" fill="#ededf0"/>
<rect x="85.8" y="181.87" width="3.75" height="6.3" fill="#ededf0"/>
<rect x="90.05" y="181.87" width="3.75" height="6.3" fill="#ededf0"/>
<rect x="94.31" y="181.87" width="3.75" height="6.3" fill="#ededf0"/>
<rect x="98.56" y="181.87" width="3.75" height="6.3" fill="#ededf0"/>
<rect x="102.81" y="181.87" width="3.75" height="6.3" fill="#ededf0"/>
<rect x="107.07" y="181.87" width="3.75" height="6.3" fill="#ededf0"/>
<rect x="111.33" y="181.87" width="3.75" height="6.3" fill="#ededf0"/>
<rect x="115.58" y="181.87" width="3.75" height="6.3" fill="#ededf0"/>
<rect x="119.84" y="181.87" width="3.75" height="6.3" fill="#ededf0"/>
<rect x="124.09" y="181.87" width="3.75" height="6.3" fill="#ededf0"/>
<rect x="128.34" y="181.87" width="3.75" height="6.3" fill="#ededf0"/>
<rect x="132.6" y="181.87" width="3.75" height="6.3" fill="#ededf0"/>
<rect x="136.85" y="181.87" width="3.75" height="6.3" fill="#ededf0"/>
<rect x="141.11" y="181.87" width="3.75" height="6.3" fill="#ededf0"/>
<rect x="145.36" y="181.87" width="3.75" height="6.3" fill="#ededf0"/>
<rect x="149.62" y="181.87" width="3.75" height="6.3" fill="#ededf0"/>
<rect x="153.88" y="181.87" width="3.75" height="6.3" fill="#5aa83a"/>
<rect x="158.13" y="181.87" width="3.75" height="6.3" fill="#ededf0"/>
<rect x="162.39" y="181.87" width="3.75" height="6.3" fill="#ededf0"/>
<rect x="166.64" y="181.87" width="3.75" height="6.3" fill="#ededf0"/>
<rect x="170.9" y="181.87" width="3.75" height="6.3" fill="#ededf0"/>
<rect x="175.15" y="181.87" width="3.75" height="6.3" fill="#ededf0"/>
<rect x="179.41" y="181.87" width="3.75" height="6.3" fill="#ededf0"/>
<rect x="183.66" y="181.87" width="3.75" height="6.3" fill="#e2890f"/>
<rect x="187.91" y="181.87" width="3.75" height="6.3" fill="#ededf0"/>
<rect x="192.17" y="181.87" width="3.75" height="6.3" fill="#ededf0"/>
<rect x="196.42" y="181.87" width="3.75" height="6.3" fill="#ededf0"/>
<rect x="200.68" y="181.87" width="3.75" height="6.3" fill="#ededf0"/>
<rect x="204.94" y="181.87" width="3.75" height="6.3" fill="#ededf0"/>
<rect x="209.19" y="181.87" width="3.75" height="6.3" fill="#ededf0"/>
<rect x="213.44" y="181.87" width="3.75" height="6.3" fill="#ededf0"/>
<rect x="217.7" y="181.87" width="3.75" height="6.3" fill="#ededf0"/>
<rect x="221.95" y="181.87" width="3.75" height="6.3" fill="#ededf0"/>
<rect x="226.21" y="181.87" width="3.75" height="6.3" fill="#ededf0"/>
<rect x="230.47" y="181.87" width="3.75" height="6.3" fill="#ededf0"/>
<rect x="234.72" y="181.87" width="3.75" height="6.3" fill="#ededf0"/>
<rect x="238.97" y="181.87" width="3.75" height="6.3" fill="#ededf0"/>
<rect x="243.23" y="181.87" width="3.75" height="6.3" fill="#ededf0"/>
<rect x="247.48" y="181.87" width="3.75" height="6.3" fill="#ededf0"/>
<rect x="251.74" y="181.87" width="3.75" height="6.3" fill="#ededf0"/>
<rect x="256" y="181.87" width="3.75" height="6.3" fill="#ededf0"/>
<rect x="260.25" y="181.87" width="3.75" height="6.3" fill="#ededf0"/>
<rect x="264.5" y="181.87" width="3.75" height="6.3" fill="#ededf0"/>
<rect x="268.76" y="181.87" width="3.75" height="6.3" fill="#ededf0"/>
<rect x="273.01" y="181.87" width="3.75" height="6.3" fill="#ededf0"/>
<rect x="277.27" y="181.87" width="3.75" height="6.3" fill="#ededf0"/>
<rect x="281.52" y="181.87" width="3.75" height="6.3" fill="#ededf0"/>
<rect x="285.78" y="181.87" width="3.75" height="6.3" fill="#ededf0"/>
<rect x="290.03" y="181.87" width="3.75" height="6.3" fill="#ededf0"/>
<rect x="294.29" y="181.87" width="3.75" height="6.3" fill="#ededf0"/>
<rect x="298.54" y="181.87" width="3.75" height="6.3" fill="#ededf0"/>
<rect x="302.8" y="181.87" width="3.75" height="6.3" fill="#ededf0"/>
<rect x="307.05" y="181.87" width="3.75" height="6.3" fill="#ededf0"/>
<rect x="311.31" y="181.87" width="3.75" height="6.3" fill="#ededf0"/>
<rect x="315.56" y="181.87" width="3.75" height="6.3" fill="#ededf0"/>
<rect x="319.82" y="181.87" width="3.75" height="6.3" fill="#ededf0"/>
<rect x="324.07" y="181.87" width="3.75" height="6.3" fill="#ededf0"/>
<rect x="328.33" y="181.87" width="3.75" height="6.3" fill="#ededf0"/>
<rect x="332.58" y="181.87" width="3.75" height="6.3" fill="#ededf0"/>
<rect x="336.84" y="181.87" width="3.75" height="6.3" fill="#ededf0"/>
<rect x="341.09" y="181.87" width="3.75" height="6.3" fill="#ededf0"/>
<rect x="345.35" y="181.87" width="3.75" height="6.3" fill="#ededf0"/>
<rect x="73.03" y="188.8" width="3.75" height="6.3" fill="#ededf0"/>
<rect x="77.28" y="188.8" width="3.75" height="6.3" fill="#ededf0"/>
<rect x="81.54" y="188.8" width="3.75" height="6.3" fill="#ededf0"/>
<rect x="85.8" y="188.8" width="3.75" height="6.3" fill="#ededf0"/>
<rect x="90.05" y="188.8" width="3.75" height="6.3" fill="#ededf0"/>
<rect x="94.31" y="188.8" width="3.75" height="6.3" fill="#ededf0"/>
<rect x="98.56" y="188.8" width="3.75" height="6.3" fill="#ededf0"/>
<rect x="102.81" y="188.8" width="3.75" height="6.3" fill="#ededf0"/>
<rect x="107.07" y="188.8" width="3.75" height="6.3" fill="#ededf0"/>
<rect x="111.33" y="188.8" width="3.75" height="6.3" fill="#ededf0"/>
<rect x="115.58" y="188.8" width="3.75" height="6.3" fill="#ededf0"/>
<rect x="119.84" y="188.8" width="3.75" height="6.3" fill="#5aa83a"/>
<rect x="124.09" y="188.8" width="3.75" height="6.3" fill="#ededf0"/>
<rect x="128.34" y="188.8" width="3.75" height="6.3" fill="#ededf0"/>
<rect x="132.6" y="188.8" width="3.75" height="6.3" fill="#ededf0"/>
<rect x="136.85" y="188.8" width="3.75" height="6.3" fill="#ededf0"/>
<rect x="141.11" y="188.8" width="3.75" height="6.3" fill="#ededf0"/>
<rect x="145.36" y="188.8" width="3.75" height="6.3" fill="#ededf0"/>
<rect x="149.62" y="188.8" width="3.75" height="6.3" fill="#ededf0"/>
<rect x="153.88" y="188.8" width="3.75" height="6.3" fill="#ededf0"/>
<rect x="158.13" y="188.8" width="3.75" height="6.3" fill="#ededf0"/>
<rect x="162.39" y="188.8" width="3.75" height="6.3" fill="#ededf0"/>
<rect x="166.64" y="188.8" width="3.75" height="6.3" fill="#ededf0"/>
<rect x="170.9" y="188.8" width="3.75" height="6.3" fill="#ededf0"/>
<rect x="175.15" y="188.8" width="3.75" height="6.3" fill="#ededf0"/>
<rect x="179.41" y="188.8" width="3.75" height="6.3" fill="#ededf0"/>
<rect x="183.66" y="188.8" width="3.75" height="6.3" fill="#ededf0"/>
<rect x="187.91" y="188.8" width="3.75" height="6.3" fill="#ededf0"/>
<rect x="192.17" y="188.8" width="3.75" height="6.3" fill="#ededf0"/>
<rect x="196.42" y="188.8" width="3.75" height="6.3" fill="#ededf0"/>
<rect x="200.68" y="188.8" width="3.75" height="6.3" fill="#ededf0"/>
<rect x="204.94" y="188.8" width="3.75" height="6.3" fill="#ededf0"/>
<rect x="209.19" y="188.8" width="3.75" height="6.3" fill="#ededf0"/>
<rect x="213.44" y="188.8" width="3.75" height="6.3" fill="#ededf0"/>
<rect x="217.7" y="188.8" width="3.75" height="6.3" fill="#ededf0"/>
<rect x="221.95" y="188.8" width="3.75" height="6.3" fill="#ededf0"/>
<rect x="226.21" y="188.8" width="3.75" height="6.3" fill="#ededf0"/>
<rect x="230.47" y="188.8" width="3.75" height="6.3" fill="#ededf0"/>
<rect x="234.72" y="188.8" width="3.75" height="6.3" fill="#ededf0"/>
<rect x="238.97" y="188.8" width="3.75" height="6.3" fill="#ededf0"/>
<rect x="243.23" y="188.8" width="3.75" height="6.3" fill="#ededf0"/>
<rect x="247.48" y="188.8" width="3.75" height="6.3" fill="#ededf0"/>
<rect x="251.74" y="188.8" width="3.75" height="6.3" fill="#ededf0"/>
<rect x="256" y="188.8" width="3.75" height="6.3" fill="#ededf0"/>
<rect x="260.25" y="188.8" width="3.75" height="6.3" fill="#ededf0"/>
<rect x="264.5" y="188.8" width="3.75" height="6.3" fill="#ededf0"/>
<rect x="268.76" y="188.8" width="3.75" height="6.3" fill="#ededf0"/>
<rect x="273.01" y="188.8" width="3.75" height="6.3" fill="#ededf0"/>
<rect x="277.27" y="188.8" width="3.75" height="6.3" fill="#ededf0"/>
<rect x="281.52" y="188.8" width="3.75" height="6.3" fill="#ededf0"/>
<rect x="285.78" y="188.8" width="3.75" height="6.3" fill="#ededf0"/>
<rect x="290.03" y="188.8" width="3.75" height="6.3" fill="#ededf0"/>
<rect x="294.29" y="188.8" width="3.75" height="6.3" fill="#ededf0"/>
<rect x="298.54" y="188.8" width="3.75" height="6.3" fill="#ededf0"/>
<rect x="302.8" y="188.8" width="3.75" height="6.3" fill="#ededf0"/>
<rect x="307.05" y="188.8" width="3.75" height="6.3" fill="#ededf0"/>
<rect x="311.31" y="188.8" width="3.75" height="6.3" fill="#ededf0"/>
<rect x="315.56" y="188.8" width="3.75" height="6.3" fill="#ededf0"/>
<rect x="319.82" y="188.8" width="3.75" height="6.3" fill="#ededf0"/>
<rect x="324.07" y="188.8" width="3.75" height="6.3" fill="#ededf0"/>
<rect x="328.33" y="188.8" width="3.75" height="6.3" fill="#e2890f"/>
<rect x="332.58" y="188.8" width="3.75" height="6.3" fill="#ededf0"/>
<rect x="336.84" y="188.8" width="3.75" height="6.3" fill="#ededf0"/>
<rect x="341.09" y="188.8" width="3.75" height="6.3" fill="#ededf0"/>
<rect x="345.35" y="188.8" width="3.75" height="6.3" fill="#ededf0"/>
<rect x="73.03" y="195.74" width="3.75" height="6.3" fill="#ededf0"/>
<rect x="77.28" y="195.74" width="3.75" height="6.3" fill="#ededf0"/>
<rect x="81.54" y="195.74" width="3.75" height="6.3" fill="#ededf0"/>
<rect x="85.8" y="195.74" width="3.75" height="6.3" fill="#ededf0"/>
<rect x="90.05" y="195.74" width="3.75" height="6.3" fill="#ededf0"/>
<rect x="94.31" y="195.74" width="3.75" height="6.3" fill="#ededf0"/>
<rect x="98.56" y="195.74" width="3.75" height="6.3" fill="#ededf0"/>
<rect x="102.81" y="195.74" width="3.75" height="6.3" fill="#ededf0"/>
<rect x="107.07" y="195.74" width="3.75" height="6.3" fill="#ededf0"/>
<rect x="111.33" y="195.74" width="3.75" height="6.3" fill="#ededf0"/>
<rect x="115.58" y="195.74" width="3.75" height="6.3" fill="#ededf0"/>
<rect x="119.84" y="195.74" width="3.75" height="6.3" fill="#ededf0"/>
<rect x="124.09" y="195.74" width="3.75" height="6.3" fill="#ededf0"/>
<rect x="128.34" y="195.74" width="3.75" height="6.3" fill="#ededf0"/>
<rect x="132.6" y="195.74" width="3.75" height="6.3" fill="#ededf0"/>
<rect x="136.85" y="195.74" width="3.75" height="6.3" fill="#5aa83a"/>
<rect x="141.11" y="195.74" width="3.75" height="6.3" fill="#ededf0"/>
<rect x="145.36" y="195.74" width="3.75" height="6.3" fill="#ededf0"/>
<rect x="149.62" y="195.74" width="3.75" height="6.3" fill="#ededf0"/>
<rect x="153.88" y="195.74" width="3.75" height="6.3" fill="#ededf0"/>
<rect x="158.13" y="195.74" width="3.75" height="6.3" fill="#ededf0"/>
<rect x="162.39" y="195.74" width="3.75" height="6.3" fill="#ededf0"/>
<rect x="166.64" y="195.74" width="3.75" height="6.3" fill="#ededf0"/>
<rect x="170.9" y="195.74" width="3.75" height="6.3" fill="#ededf0"/>
<rect x="175.15" y="195.74" width="3.75" height="6.3" fill="#ededf0"/>
<rect x="179.41" y="195.74" width="3.75" height="6.3" fill="#ededf0"/>
<rect x="183.66" y="195.74" width="3.75" height="6.3" fill="#ededf0"/>
<rect x="187.91" y="195.74" width="3.75" height="6.3" fill="#5aa83a"/>
<rect x="192.17" y="195.74" width="3.75" height="6.3" fill="#ededf0"/>
<rect x="196.42" y="195.74" width="3.75" height="6.3" fill="#ededf0"/>
<rect x="200.68" y="195.74" width="3.75" height="6.3" fill="#ededf0"/>
<rect x="204.94" y="195.74" width="3.75" height="6.3" fill="#ededf0"/>
<rect x="209.19" y="195.74" width="3.75" height="6.3" fill="#ededf0"/>
<rect x="213.44" y="195.74" width="3.75" height="6.3" fill="#ededf0"/>
<rect x="217.7" y="195.74" width="3.75" height="6.3" fill="#ededf0"/>
<rect x="221.95" y="195.74" width="3.75" height="6.3" fill="#ededf0"/>
<rect x="226.21" y="195.74" width="3.75" height="6.3" fill="#ededf0"/>
<rect x="230.47" y="195.74" width="3.75" height="6.3" fill="#ededf0"/>
<rect x="234.72" y="195.74" width="3.75" height="6.3" fill="#ededf0"/>
<rect x="238.97" y="195.74" width="3.75" height="6.3" fill="#ededf0"/>
<rect x="243.23" y="195.74" width="3.75" height="6.3" fill="#ededf0"/>
<rect x="247.48" y="195.74" width="3.75" height="6.3" fill="#ededf0"/>
<rect x="251.74" y="195.74" width="3.75" height="6.3" fill="#ededf0"/>
<rect x="256" y="195.74" width="3.75" height="6.3" fill="#ededf0"/>
<rect x="260.25" y="195.74" width="3.75" height="6.3" fill="#ededf0"/>
<rect x="264.5" y="195.74" width="3.75" height="6.3" fill="#ededf0"/>
<rect x="268.76" y="195.74" width="3.75" height="6.3" fill="#ededf0"/>
<rect x="273.01" y="195.74" width="3.75" height="6.3" fill="#ededf0"/>
<rect x="277.27" y="195.74" width="3.75" height="6.3" fill="#ededf0"/>
<rect x="281.52" y="195.74" width="3.75" height="6.3" fill="#ededf0"/>
<rect x="285.78" y="195.74" width="3.75" height="6.3" fill="#ededf0"/>
<rect x="290.03" y="195.74" width="3.75" height="6.3" fill="#ededf0"/>
<rect x="294.29" y="195.74" width="3.75" height="6.3" fill="#ededf0"/>
<rect x="298.54" y="195.74" width="3.75" height="6.3" fill="#ededf0"/>
<rect x="302.8" y="195.74" width="3.75" height="6.3" fill="#ededf0"/>
<rect x="307.05" y="195.74" width="3.75" height="6.3" fill="#ededf0"/>
<rect x="311.31" y="195.74" width="3.75" height="6.3" fill="#ededf0"/>
<rect x="315.56" y="195.74" width="3.75" height="6.3" fill="#ededf0"/>
<rect x="319.82" y="195.74" width="3.75" height="6.3" fill="#ededf0"/>
<rect x="324.07" y="195.74" width="3.75" height="6.3" fill="#ededf0"/>
<rect x="328.33" y="195.74" width="3.75" height="6.3" fill="#ededf0"/>
<rect x="332.58" y="195.74" width="3.75" height="6.3" fill="#ededf0"/>
<rect x="336.84" y="195.74" width="3.75" height="6.3" fill="#ededf0"/>
<rect x="341.09" y="195.74" width="3.75" height="6.3" fill="#ededf0"/>
<rect x="345.35" y="195.74" width="3.75" height="6.3" fill="#ededf0"/>
<rect x="73.03" y="202.68" width="3.75" height="6.3" fill="#ededf0"/>
<rect x="77.28" y="202.68" width="3.75" height="6.3" fill="#5aa83a"/>
<rect x="81.54" y="202.68" width="3.75" height="6.3" fill="#ededf0"/>
<rect x="85.8" y="202.68" width="3.75" height="6.3" fill="#ededf0"/>
<rect x="90.05" y="202.68" width="3.75" height="6.3" fill="#ededf0"/>
<rect x="94.31" y="202.68" width="3.75" height="6.3" fill="#ededf0"/>
<rect x="98.56" y="202.68" width="3.75" height="6.3" fill="#ededf0"/>
<rect x="102.81" y="202.68" width="3.75" height="6.3" fill="#ededf0"/>
<rect x="107.07" y="202.68" width="3.75" height="6.3" fill="#ededf0"/>
<rect x="111.33" y="202.68" width="3.75" height="6.3" fill="#ededf0"/>
<rect x="115.58" y="202.68" width="3.75" height="6.3" fill="#ededf0"/>
<rect x="119.84" y="202.68" width="3.75" height="6.3" fill="#ededf0"/>
<rect x="124.09" y="202.68" width="3.75" height="6.3" fill="#ededf0"/>
<rect x="128.34" y="202.68" width="3.75" height="6.3" fill="#ededf0"/>
<rect x="132.6" y="202.68" width="3.75" height="6.3" fill="#ededf0"/>
<rect x="136.85" y="202.68" width="3.75" height="6.3" fill="#ededf0"/>
<rect x="141.11" y="202.68" width="3.75" height="6.3" fill="#ededf0"/>
<rect x="145.36" y="202.68" width="3.75" height="6.3" fill="#ededf0"/>
<rect x="149.62" y="202.68" width="3.75" height="6.3" fill="#ededf0"/>
<rect x="153.88" y="202.68" width="3.75" height="6.3" fill="#ededf0"/>
<rect x="158.13" y="202.68" width="3.75" height="6.3" fill="#ededf0"/>
<rect x="162.39" y="202.68" width="3.75" height="6.3" fill="#ededf0"/>
<rect x="166.64" y="202.68" width="3.75" height="6.3" fill="#ededf0"/>
<rect x="170.9" y="202.68" width="3.75" height="6.3" fill="#ededf0"/>
<rect x="175.15" y="202.68" width="3.75" height="6.3" fill="#ededf0"/>
<rect x="179.41" y="202.68" width="3.75" height="6.3" fill="#ededf0"/>
<rect x="183.66" y="202.68" width="3.75" height="6.3" fill="#ededf0"/>
<rect x="187.91" y="202.68" width="3.75" height="6.3" fill="#ededf0"/>
<rect x="192.17" y="202.68" width="3.75" height="6.3" fill="#ededf0"/>
<rect x="196.42" y="202.68" width="3.75" height="6.3" fill="#ededf0"/>
<rect x="200.68" y="202.68" width="3.75" height="6.3" fill="#ededf0"/>
<rect x="204.94" y="202.68" width="3.75" height="6.3" fill="#ededf0"/>
<rect x="209.19" y="202.68" width="3.75" height="6.3" fill="#ededf0"/>
<rect x="213.44" y="202.68" width="3.75" height="6.3" fill="#ededf0"/>
<rect x="217.7" y="202.68" width="3.75" height="6.3" fill="#ededf0"/>
<rect x="221.95" y="202.68" width="3.75" height="6.3" fill="#ededf0"/>
<rect x="226.21" y="202.68" width="3.75" height="6.3" fill="#ededf0"/>
<rect x="230.47" y="202.68" width="3.75" height="6.3" fill="#ededf0"/>
<rect x="234.72" y="202.68" width="3.75" height="6.3" fill="#ededf0"/>
<rect x="238.97" y="202.68" width="3.75" height="6.3" fill="#ededf0"/>
<rect x="243.23" y="202.68" width="3.75" height="6.3" fill="#ededf0"/>
<rect x="247.48" y="202.68" width="3.75" height="6.3" fill="#ededf0"/>
<rect x="251.74" y="202.68" width="3.75" height="6.3" fill="#ededf0"/>
<rect x="256" y="202.68" width="3.75" height="6.3" fill="#ededf0"/>
<rect x="260.25" y="202.68" width="3.75" height="6.3" fill="#ededf0"/>
<rect x="264.5" y="202.68" width="3.75" height="6.3" fill="#ededf0"/>
<rect x="268.76" y="202.68" width="3.75" height="6.3" fill="#ededf0"/>
<rect x="273.01" y="202.68" width="3.75" height="6.3" fill="#ededf0"/>
<rect x="277.27" y="202.68" width="3.75" height="6.3" fill="#ededf0"/>
<rect x="281.52" y="202.68" width="3.75" height="6.3" fill="#ededf0"/>
<rect x="285.78" y="202.68" width="3.75" height="6.3" fill="#ededf0"/>
<rect x="290.03" y="202.68" width="3.75" height="6.3" fill="#ededf0"/>
<rect x="294.29" y="202.68" width="3.75" height="6.3" fill="#ededf0"/>
<rect x="298.54" y="202.68" width="3.75" height="6.3" fill="#ededf0"/>
<rect x="302.8" y="202.68" width="3.75" height="6.3" fill="#ededf0"/>
<rect x="307.05" y="202.68" width="3.75" height="6.3" fill="#ededf0"/>
<rect x="311.31" y="202.68" width="3.75" height="6.3" fill="#ededf0"/>
<rect x="315.56" y="202.68" width="3.75" height="6.3" fill="#ededf0"/>
<rect x="319.82" y="202.68" width="3.75" height="6.3" fill="#ededf0"/>
<rect x="324.07" y="202.68" width="3.75" height="6.3" fill="#ededf0"/>
<rect x="328.33" y="202.68" width="3.75" height="6.3" fill="#ededf0"/>
<rect x="332.58" y="202.68" width="3.75" height="6.3" fill="#ededf0"/>
<rect x="336.84" y="202.68" width="3.75" height="6.3" fill="#ededf0"/>
<rect x="341.09" y="202.68" width="3.75" height="6.3" fill="#ededf0"/>
<rect x="345.35" y="202.68" width="3.75" height="6.3" fill="#ededf0"/>
<rect x="73.03" y="209.61" width="3.75" height="6.3" fill="#ededf0"/>
<rect x="77.28" y="209.61" width="3.75" height="6.3" fill="#5aa83a"/>
<rect x="81.54" y="209.61" width="3.75" height="6.3" fill="#ededf0"/>
<rect x="85.8" y="209.61" width="3.75" height="6.3" fill="#ededf0"/>
<rect x="90.05" y="209.61" width="3.75" height="6.3" fill="#ededf0"/>
<rect x="94.31" y="209.61" width="3.75" height="6.3" fill="#ededf0"/>
<rect x="98.56" y="209.61" width="3.75" height="6.3" fill="#ededf0"/>
<rect x="102.81" y="209.61" width="3.75" height="6.3" fill="#ededf0"/>
<rect x="107.07" y="209.61" width="3.75" height="6.3" fill="#ededf0"/>
<rect x="111.33" y="209.61" width="3.75" height="6.3" fill="#ededf0"/>
<rect x="115.58" y="209.61" width="3.75" height="6.3" fill="#ededf0"/>
<rect x="119.84" y="209.61" width="3.75" height="6.3" fill="#ededf0"/>
<rect x="124.09" y="209.61" width="3.75" height="6.3" fill="#ededf0"/>
<rect x="128.34" y="209.61" width="3.75" height="6.3" fill="#ededf0"/>
<rect x="132.6" y="209.61" width="3.75" height="6.3" fill="#ededf0"/>
<rect x="136.85" y="209.61" width="3.75" height="6.3" fill="#ededf0"/>
<rect x="141.11" y="209.61" width="3.75" height="6.3" fill="#ededf0"/>
<rect x="145.36" y="209.61" width="3.75" height="6.3" fill="#ededf0"/>
<rect x="149.62" y="209.61" width="3.75" height="6.3" fill="#ededf0"/>
<rect x="153.88" y="209.61" width="3.75" height="6.3" fill="#ededf0"/>
<rect x="158.13" y="209.61" width="3.75" height="6.3" fill="#5aa83a"/>
<rect x="162.39" y="209.61" width="3.75" height="6.3" fill="#ededf0"/>
<rect x="166.64" y="209.61" width="3.75" height="6.3" fill="#ededf0"/>
<rect x="170.9" y="209.61" width="3.75" height="6.3" fill="#ededf0"/>
<rect x="175.15" y="209.61" width="3.75" height="6.3" fill="#ededf0"/>
<rect x="179.41" y="209.61" width="3.75" height="6.3" fill="#ededf0"/>
<rect x="183.66" y="209.61" width="3.75" height="6.3" fill="#ededf0"/>
<rect x="187.91" y="209.61" width="3.75" height="6.3" fill="#ededf0"/>
<rect x="192.17" y="209.61" width="3.75" height="6.3" fill="#ededf0"/>
<rect x="196.42" y="209.61" width="3.75" height="6.3" fill="#5aa83a"/>
<rect x="200.68" y="209.61" width="3.75" height="6.3" fill="#ededf0"/>
<rect x="204.94" y="209.61" width="3.75" height="6.3" fill="#ededf0"/>
<rect x="209.19" y="209.61" width="3.75" height="6.3" fill="#ededf0"/>
<rect x="213.44" y="209.61" width="3.75" height="6.3" fill="#ededf0"/>
<rect x="217.7" y="209.61" width="3.75" height="6.3" fill="#ededf0"/>
<rect x="221.95" y="209.61" width="3.75" height="6.3" fill="#ededf0"/>
<rect x="226.21" y="209.61" width="3.75" height="6.3" fill="#ededf0"/>
<rect x="230.47" y="209.61" width="3.75" height="6.3" fill="#ededf0"/>
<rect x="234.72" y="209.61" width="3.75" height="6.3" fill="#ededf0"/>
<rect x="238.97" y="209.61" width="3.75" height="6.3" fill="#ededf0"/>
<rect x="243.23" y="209.61" width="3.75" height="6.3" fill="#ededf0"/>
<rect x="247.48" y="209.61" width="3.75" height="6.3" fill="#ededf0"/>
<rect x="251.74" y="209.61" width="3.75" height="6.3" fill="#ededf0"/>
<rect x="256" y="209.61" width="3.75" height="6.3" fill="#ededf0"/>
<rect x="260.25" y="209.61" width="3.75" height="6.3" fill="#ededf0"/>
<rect x="264.5" y="209.61" width="3.75" height="6.3" fill="#ededf0"/>
<rect x="268.76" y="209.61" width="3.75" height="6.3" fill="#ededf0"/>
<rect x="273.01" y="209.61" width="3.75" height="6.3" fill="#ededf0"/>
<rect x="277.27" y="209.61" width="3.75" height="6.3" fill="#ededf0"/>
<rect x="281.52" y="209.61" width="3.75" height="6.3" fill="#ededf0"/>
<rect x="285.78" y="209.61" width="3.75" height="6.3" fill="#ededf0"/>
<rect x="290.03" y="209.61" width="3.75" height="6.3" fill="#ededf0"/>
<rect x="294.29" y="209.61" width="3.75" height="6.3" fill="#ededf0"/>
<rect x="298.54" y="209.61" width="3.75" height="6.3" fill="#ededf0"/>
<rect x="302.8" y="209.61" width="3.75" height="6.3" fill="#ededf0"/>
<rect x="307.05" y="209.61" width="3.75" height="6.3" fill="#ededf0"/>
<rect x="311.31" y="209.61" width="3.75" height="6.3" fill="#ededf0"/>
<rect x="315.56" y="209.61" width="3.75" height="6.3" fill="#ededf0"/>
<rect x="319.82" y="209.61" width="3.75" height="6.3" fill="#ededf0"/>
<rect x="324.07" y="209.61" width="3.75" height="6.3" fill="#ededf0"/>
<rect x="328.33" y="209.61" width="3.75" height="6.3" fill="#ededf0"/>
<rect x="332.58" y="209.61" width="3.75" height="6.3" fill="#ededf0"/>
<rect x="336.84" y="209.61" width="3.75" height="6.3" fill="#ededf0"/>
<rect x="341.09" y="209.61" width="3.75" height="6.3" fill="#ededf0"/>
<rect x="345.35" y="209.61" width="3.75" height="6.3" fill="#ededf0"/>
<line x1="72.63" y1="63.3" x2="349.2" y2="63.3" stroke="#444" stroke-width="0.9"/>
<rect x="72.63" y="216.9" width="4.25" height="6.75" fill="#e6e6ea" stroke="#f2f2f6" stroke-width="0.6"/>
<rect x="76.88" y="216.9" width="4.25" height="6.75" fill="#52300f" stroke="#f2f2f6" stroke-width="0.6"/>
<rect x="81.14" y="216.9" width="4.25" height="6.75" fill="#e6e6ea" stroke="#f2f2f6" stroke-width="0.6"/>
<rect x="85.39" y="216.9" width="4.25" height="6.75" fill="#e6e6ea" stroke="#f2f2f6" stroke-width="0.6"/>
<rect x="89.65" y="216.9" width="4.25" height="6.75" fill="#9da0b2" stroke="#f2f2f6" stroke-width="0.6"/>
<rect x="93.91" y="216.9" width="4.25" height="6.75" fill="#e6e6ea" stroke="#f2f2f6" stroke-width="0.6"/>
<rect x="98.16" y="216.9" width="4.25" height="6.75" fill="#52300f" stroke="#f2f2f6" stroke-width="0.6"/>
<rect x="102.41" y="216.9" width="4.25" height="6.75" fill="#e6e6ea" stroke="#f2f2f6" stroke-width="0.6"/>
<rect x="106.67" y="216.9" width="4.25" height="6.75" fill="#52300f" stroke="#f2f2f6" stroke-width="0.6"/>
<rect x="110.92" y="216.9" width="4.25" height="6.75" fill="#e6e6ea" stroke="#f2f2f6" stroke-width="0.6"/>
<rect x="115.18" y="216.9" width="4.25" height="6.75" fill="#9da0b2" stroke="#f2f2f6" stroke-width="0.6"/>
<rect x="119.44" y="216.9" width="4.25" height="6.75" fill="#e6e6ea" stroke="#f2f2f6" stroke-width="0.6"/>
<rect x="123.69" y="216.9" width="4.25" height="6.75" fill="#e6e6ea" stroke="#f2f2f6" stroke-width="0.6"/>
<rect x="127.94" y="216.9" width="4.25" height="6.75" fill="#9da0b2" stroke="#f2f2f6" stroke-width="0.6"/>
<rect x="132.2" y="216.9" width="4.25" height="6.75" fill="#e6e6ea" stroke="#f2f2f6" stroke-width="0.6"/>
<rect x="136.45" y="216.9" width="4.25" height="6.75" fill="#e6e6ea" stroke="#f2f2f6" stroke-width="0.6"/>
<rect x="140.71" y="216.9" width="4.25" height="6.75" fill="#9da0b2" stroke="#f2f2f6" stroke-width="0.6"/>
<rect x="144.96" y="216.9" width="4.25" height="6.75" fill="#52300f" stroke="#f2f2f6" stroke-width="0.6"/>
<rect x="149.22" y="216.9" width="4.25" height="6.75" fill="#e6e6ea" stroke="#f2f2f6" stroke-width="0.6"/>
<rect x="153.47" y="216.9" width="4.25" height="6.75" fill="#e6e6ea" stroke="#f2f2f6" stroke-width="0.6"/>
<rect x="157.73" y="216.9" width="4.25" height="6.75" fill="#e6e6ea" stroke="#f2f2f6" stroke-width="0.6"/>
<rect x="161.99" y="216.9" width="4.25" height="6.75" fill="#e6e6ea" stroke="#f2f2f6" stroke-width="0.6"/>
<rect x="166.24" y="216.9" width="4.25" height="6.75" fill="#e6e6ea" stroke="#f2f2f6" stroke-width="0.6"/>
<rect x="170.5" y="216.9" width="4.25" height="6.75" fill="#e6e6ea" stroke="#f2f2f6" stroke-width="0.6"/>
<rect x="174.75" y="216.9" width="4.25" height="6.75" fill="#e6e6ea" stroke="#f2f2f6" stroke-width="0.6"/>
<rect x="179" y="216.9" width="4.25" height="6.75" fill="#e6e6ea" stroke="#f2f2f6" stroke-width="0.6"/>
<rect x="183.26" y="216.9" width="4.25" height="6.75" fill="#e6e6ea" stroke="#f2f2f6" stroke-width="0.6"/>
<rect x="187.51" y="216.9" width="4.25" height="6.75" fill="#9da0b2" stroke="#f2f2f6" stroke-width="0.6"/>
<rect x="191.77" y="216.9" width="4.25" height="6.75" fill="#e6e6ea" stroke="#f2f2f6" stroke-width="0.6"/>
<rect x="196.02" y="216.9" width="4.25" height="6.75" fill="#e6e6ea" stroke="#f2f2f6" stroke-width="0.6"/>
<rect x="200.28" y="216.9" width="4.25" height="6.75" fill="#e6e6ea" stroke="#f2f2f6" stroke-width="0.6"/>
<rect x="204.53" y="216.9" width="4.25" height="6.75" fill="#e6e6ea" stroke="#f2f2f6" stroke-width="0.6"/>
<rect x="208.79" y="216.9" width="4.25" height="6.75" fill="#e6e6ea" stroke="#f2f2f6" stroke-width="0.6"/>
<rect x="213.04" y="216.9" width="4.25" height="6.75" fill="#e6e6ea" stroke="#f2f2f6" stroke-width="0.6"/>
<rect x="217.3" y="216.9" width="4.25" height="6.75" fill="#e6e6ea" stroke="#f2f2f6" stroke-width="0.6"/>
<rect x="221.55" y="216.9" width="4.25" height="6.75" fill="#e6e6ea" stroke="#f2f2f6" stroke-width="0.6"/>
<rect x="225.81" y="216.9" width="4.25" height="6.75" fill="#9da0b2" stroke="#f2f2f6" stroke-width="0.6"/>
<rect x="230.06" y="216.9" width="4.25" height="6.75" fill="#e6e6ea" stroke="#f2f2f6" stroke-width="0.6"/>
<rect x="234.32" y="216.9" width="4.25" height="6.75" fill="#9da0b2" stroke="#f2f2f6" stroke-width="0.6"/>
<rect x="238.57" y="216.9" width="4.25" height="6.75" fill="#e6e6ea" stroke="#f2f2f6" stroke-width="0.6"/>
<rect x="242.83" y="216.9" width="4.25" height="6.75" fill="#e6e6ea" stroke="#f2f2f6" stroke-width="0.6"/>
<rect x="247.08" y="216.9" width="4.25" height="6.75" fill="#52300f" stroke="#f2f2f6" stroke-width="0.6"/>
<rect x="251.34" y="216.9" width="4.25" height="6.75" fill="#e6e6ea" stroke="#f2f2f6" stroke-width="0.6"/>
<rect x="255.59" y="216.9" width="4.25" height="6.75" fill="#e6e6ea" stroke="#f2f2f6" stroke-width="0.6"/>
<rect x="259.85" y="216.9" width="4.25" height="6.75" fill="#e6e6ea" stroke="#f2f2f6" stroke-width="0.6"/>
<rect x="264.11" y="216.9" width="4.25" height="6.75" fill="#e6e6ea" stroke="#f2f2f6" stroke-width="0.6"/>
<rect x="268.36" y="216.9" width="4.25" height="6.75" fill="#9da0b2" stroke="#f2f2f6" stroke-width="0.6"/>
<rect x="272.62" y="216.9" width="4.25" height="6.75" fill="#e6e6ea" stroke="#f2f2f6" stroke-width="0.6"/>
<rect x="276.87" y="216.9" width="4.25" height="6.75" fill="#e6e6ea" stroke="#f2f2f6" stroke-width="0.6"/>
<rect x="281.12" y="216.9" width="4.25" height="6.75" fill="#e6e6ea" stroke="#f2f2f6" stroke-width="0.6"/>
<rect x="285.38" y="216.9" width="4.25" height="6.75" fill="#e6e6ea" stroke="#f2f2f6" stroke-width="0.6"/>
<rect x="289.63" y="216.9" width="4.25" height="6.75" fill="#e6e6ea" stroke="#f2f2f6" stroke-width="0.6"/>
<rect x="293.89" y="216.9" width="4.25" height="6.75" fill="#e6e6ea" stroke="#f2f2f6" stroke-width="0.6"/>
<rect x="298.14" y="216.9" width="4.25" height="6.75" fill="#e6e6ea" stroke="#f2f2f6" stroke-width="0.6"/>
<rect x="302.4" y="216.9" width="4.25" height="6.75" fill="#e6e6ea" stroke="#f2f2f6" stroke-width="0.6"/>
<rect x="306.65" y="216.9" width="4.25" height="6.75" fill="#e6e6ea" stroke="#f2f2f6" stroke-width="0.6"/>
<rect x="310.91" y="216.9" width="4.25" height="6.75" fill="#e6e6ea" stroke="#f2f2f6" stroke-width="0.6"/>
<rect x="315.16" y="216.9" width="4.25" height="6.75" fill="#9da0b2" stroke="#f2f2f6" stroke-width="0.6"/>
<rect x="319.42" y="216.9" width="4.25" height="6.75" fill="#e6e6ea" stroke="#f2f2f6" stroke-width="0.6"/>
<rect x="323.67" y="216.9" width="4.25" height="6.75" fill="#9da0b2" stroke="#f2f2f6" stroke-width="0.6"/>
<rect x="327.93" y="216.9" width="4.25" height="6.75" fill="#e6e6ea" stroke="#f2f2f6" stroke-width="0.6"/>
<rect x="332.19" y="216.9" width="4.25" height="6.75" fill="#9da0b2" stroke="#f2f2f6" stroke-width="0.6"/>
<rect x="336.44" y="216.9" width="4.25" height="6.75" fill="#9da0b2" stroke="#f2f2f6" stroke-width="0.6"/>
<rect x="340.69" y="216.9" width="4.25" height="6.75" fill="#9da0b2" stroke="#f2f2f6" stroke-width="0.6"/>
<rect x="344.95" y="216.9" width="4.25" height="6.75" fill="#9da0b2" stroke="#f2f2f6" stroke-width="0.6"/>
<rect x="72.63" y="223.65" width="4.25" height="6.75" fill="#e6e6ea" stroke="#f2f2f6" stroke-width="0.6"/>
<rect x="76.88" y="223.65" width="4.25" height="6.75" fill="#52300f" stroke="#f2f2f6" stroke-width="0.6"/>
<rect x="81.14" y="223.65" width="4.25" height="6.75" fill="#e6e6ea" stroke="#f2f2f6" stroke-width="0.6"/>
<rect x="85.39" y="223.65" width="4.25" height="6.75" fill="#e6e6ea" stroke="#f2f2f6" stroke-width="0.6"/>
<rect x="89.65" y="223.65" width="4.25" height="6.75" fill="#9da0b2" stroke="#f2f2f6" stroke-width="0.6"/>
<rect x="93.91" y="223.65" width="4.25" height="6.75" fill="#e6e6ea" stroke="#f2f2f6" stroke-width="0.6"/>
<rect x="98.16" y="223.65" width="4.25" height="6.75" fill="#e6e6ea" stroke="#f2f2f6" stroke-width="0.6"/>
<rect x="102.41" y="223.65" width="4.25" height="6.75" fill="#e6e6ea" stroke="#f2f2f6" stroke-width="0.6"/>
<rect x="106.67" y="223.65" width="4.25" height="6.75" fill="#52300f" stroke="#f2f2f6" stroke-width="0.6"/>
<rect x="110.92" y="223.65" width="4.25" height="6.75" fill="#e6e6ea" stroke="#f2f2f6" stroke-width="0.6"/>
<rect x="115.18" y="223.65" width="4.25" height="6.75" fill="#9da0b2" stroke="#f2f2f6" stroke-width="0.6"/>
<rect x="119.44" y="223.65" width="4.25" height="6.75" fill="#e6e6ea" stroke="#f2f2f6" stroke-width="0.6"/>
<rect x="123.69" y="223.65" width="4.25" height="6.75" fill="#e6e6ea" stroke="#f2f2f6" stroke-width="0.6"/>
<rect x="127.94" y="223.65" width="4.25" height="6.75" fill="#9da0b2" stroke="#f2f2f6" stroke-width="0.6"/>
<rect x="132.2" y="223.65" width="4.25" height="6.75" fill="#52300f" stroke="#f2f2f6" stroke-width="0.6"/>
<rect x="136.45" y="223.65" width="4.25" height="6.75" fill="#e6e6ea" stroke="#f2f2f6" stroke-width="0.6"/>
<rect x="140.71" y="223.65" width="4.25" height="6.75" fill="#9da0b2" stroke="#f2f2f6" stroke-width="0.6"/>
<rect x="144.96" y="223.65" width="4.25" height="6.75" fill="#52300f" stroke="#f2f2f6" stroke-width="0.6"/>
<rect x="149.22" y="223.65" width="4.25" height="6.75" fill="#e6e6ea" stroke="#f2f2f6" stroke-width="0.6"/>
<rect x="153.47" y="223.65" width="4.25" height="6.75" fill="#e6e6ea" stroke="#f2f2f6" stroke-width="0.6"/>
<rect x="157.73" y="223.65" width="4.25" height="6.75" fill="#e6e6ea" stroke="#f2f2f6" stroke-width="0.6"/>
<rect x="161.99" y="223.65" width="4.25" height="6.75" fill="#e6e6ea" stroke="#f2f2f6" stroke-width="0.6"/>
<rect x="166.24" y="223.65" width="4.25" height="6.75" fill="#e6e6ea" stroke="#f2f2f6" stroke-width="0.6"/>
<rect x="170.5" y="223.65" width="4.25" height="6.75" fill="#e6e6ea" stroke="#f2f2f6" stroke-width="0.6"/>
<rect x="174.75" y="223.65" width="4.25" height="6.75" fill="#e6e6ea" stroke="#f2f2f6" stroke-width="0.6"/>
<rect x="179" y="223.65" width="4.25" height="6.75" fill="#e6e6ea" stroke="#f2f2f6" stroke-width="0.6"/>
<rect x="183.26" y="223.65" width="4.25" height="6.75" fill="#e6e6ea" stroke="#f2f2f6" stroke-width="0.6"/>
<rect x="187.51" y="223.65" width="4.25" height="6.75" fill="#9da0b2" stroke="#f2f2f6" stroke-width="0.6"/>
<rect x="191.77" y="223.65" width="4.25" height="6.75" fill="#e6e6ea" stroke="#f2f2f6" stroke-width="0.6"/>
<rect x="196.02" y="223.65" width="4.25" height="6.75" fill="#e6e6ea" stroke="#f2f2f6" stroke-width="0.6"/>
<rect x="200.28" y="223.65" width="4.25" height="6.75" fill="#e6e6ea" stroke="#f2f2f6" stroke-width="0.6"/>
<rect x="204.53" y="223.65" width="4.25" height="6.75" fill="#e6e6ea" stroke="#f2f2f6" stroke-width="0.6"/>
<rect x="208.79" y="223.65" width="4.25" height="6.75" fill="#e6e6ea" stroke="#f2f2f6" stroke-width="0.6"/>
<rect x="213.04" y="223.65" width="4.25" height="6.75" fill="#e6e6ea" stroke="#f2f2f6" stroke-width="0.6"/>
<rect x="217.3" y="223.65" width="4.25" height="6.75" fill="#e6e6ea" stroke="#f2f2f6" stroke-width="0.6"/>
<rect x="221.55" y="223.65" width="4.25" height="6.75" fill="#e6e6ea" stroke="#f2f2f6" stroke-width="0.6"/>
<rect x="225.81" y="223.65" width="4.25" height="6.75" fill="#9da0b2" stroke="#f2f2f6" stroke-width="0.6"/>
<rect x="230.06" y="223.65" width="4.25" height="6.75" fill="#e6e6ea" stroke="#f2f2f6" stroke-width="0.6"/>
<rect x="234.32" y="223.65" width="4.25" height="6.75" fill="#9da0b2" stroke="#f2f2f6" stroke-width="0.6"/>
<rect x="238.57" y="223.65" width="4.25" height="6.75" fill="#e6e6ea" stroke="#f2f2f6" stroke-width="0.6"/>
<rect x="242.83" y="223.65" width="4.25" height="6.75" fill="#e6e6ea" stroke="#f2f2f6" stroke-width="0.6"/>
<rect x="247.08" y="223.65" width="4.25" height="6.75" fill="#e6e6ea" stroke="#f2f2f6" stroke-width="0.6"/>
<rect x="251.34" y="223.65" width="4.25" height="6.75" fill="#e6e6ea" stroke="#f2f2f6" stroke-width="0.6"/>
<rect x="255.59" y="223.65" width="4.25" height="6.75" fill="#e6e6ea" stroke="#f2f2f6" stroke-width="0.6"/>
<rect x="259.85" y="223.65" width="4.25" height="6.75" fill="#e6e6ea" stroke="#f2f2f6" stroke-width="0.6"/>
<rect x="264.11" y="223.65" width="4.25" height="6.75" fill="#e6e6ea" stroke="#f2f2f6" stroke-width="0.6"/>
<rect x="268.36" y="223.65" width="4.25" height="6.75" fill="#9da0b2" stroke="#f2f2f6" stroke-width="0.6"/>
<rect x="272.62" y="223.65" width="4.25" height="6.75" fill="#e6e6ea" stroke="#f2f2f6" stroke-width="0.6"/>
<rect x="276.87" y="223.65" width="4.25" height="6.75" fill="#e6e6ea" stroke="#f2f2f6" stroke-width="0.6"/>
<rect x="281.12" y="223.65" width="4.25" height="6.75" fill="#e6e6ea" stroke="#f2f2f6" stroke-width="0.6"/>
<rect x="285.38" y="223.65" width="4.25" height="6.75" fill="#e6e6ea" stroke="#f2f2f6" stroke-width="0.6"/>
<rect x="289.63" y="223.65" width="4.25" height="6.75" fill="#e6e6ea" stroke="#f2f2f6" stroke-width="0.6"/>
<rect x="293.89" y="223.65" width="4.25" height="6.75" fill="#e6e6ea" stroke="#f2f2f6" stroke-width="0.6"/>
<rect x="298.14" y="223.65" width="4.25" height="6.75" fill="#e6e6ea" stroke="#f2f2f6" stroke-width="0.6"/>
<rect x="302.4" y="223.65" width="4.25" height="6.75" fill="#e6e6ea" stroke="#f2f2f6" stroke-width="0.6"/>
<rect x="306.65" y="223.65" width="4.25" height="6.75" fill="#e6e6ea" stroke="#f2f2f6" stroke-width="0.6"/>
<rect x="310.91" y="223.65" width="4.25" height="6.75" fill="#e6e6ea" stroke="#f2f2f6" stroke-width="0.6"/>
<rect x="315.16" y="223.65" width="4.25" height="6.75" fill="#9da0b2" stroke="#f2f2f6" stroke-width="0.6"/>
<rect x="319.42" y="223.65" width="4.25" height="6.75" fill="#e6e6ea" stroke="#f2f2f6" stroke-width="0.6"/>
<rect x="323.67" y="223.65" width="4.25" height="6.75" fill="#9da0b2" stroke="#f2f2f6" stroke-width="0.6"/>
<rect x="327.93" y="223.65" width="4.25" height="6.75" fill="#e6e6ea" stroke="#f2f2f6" stroke-width="0.6"/>
<rect x="332.19" y="223.65" width="4.25" height="6.75" fill="#9da0b2" stroke="#f2f2f6" stroke-width="0.6"/>
<rect x="336.44" y="223.65" width="4.25" height="6.75" fill="#9da0b2" stroke="#f2f2f6" stroke-width="0.6"/>
<rect x="340.69" y="223.65" width="4.25" height="6.75" fill="#9da0b2" stroke="#f2f2f6" stroke-width="0.6"/>
<rect x="344.95" y="223.65" width="4.25" height="6.75" fill="#9da0b2" stroke="#f2f2f6" stroke-width="0.6"/>
<rect x="72.63" y="230.4" width="4.25" height="6.75" fill="#e6e6ea" stroke="#f2f2f6" stroke-width="0.6"/>
<rect x="76.88" y="230.4" width="4.25" height="6.75" fill="#52300f" stroke="#f2f2f6" stroke-width="0.6"/>
<rect x="81.14" y="230.4" width="4.25" height="6.75" fill="#e6e6ea" stroke="#f2f2f6" stroke-width="0.6"/>
<rect x="85.39" y="230.4" width="4.25" height="6.75" fill="#e6e6ea" stroke="#f2f2f6" stroke-width="0.6"/>
<rect x="89.65" y="230.4" width="4.25" height="6.75" fill="#9da0b2" stroke="#f2f2f6" stroke-width="0.6"/>
<rect x="93.91" y="230.4" width="4.25" height="6.75" fill="#e6e6ea" stroke="#f2f2f6" stroke-width="0.6"/>
<rect x="98.16" y="230.4" width="4.25" height="6.75" fill="#52300f" stroke="#f2f2f6" stroke-width="0.6"/>
<rect x="102.41" y="230.4" width="4.25" height="6.75" fill="#52300f" stroke="#f2f2f6" stroke-width="0.6"/>
<rect x="106.67" y="230.4" width="4.25" height="6.75" fill="#e6e6ea" stroke="#f2f2f6" stroke-width="0.6"/>
<rect x="110.92" y="230.4" width="4.25" height="6.75" fill="#e6e6ea" stroke="#f2f2f6" stroke-width="0.6"/>
<rect x="115.18" y="230.4" width="4.25" height="6.75" fill="#9da0b2" stroke="#f2f2f6" stroke-width="0.6"/>
<rect x="119.44" y="230.4" width="4.25" height="6.75" fill="#e6e6ea" stroke="#f2f2f6" stroke-width="0.6"/>
<rect x="123.69" y="230.4" width="4.25" height="6.75" fill="#e6e6ea" stroke="#f2f2f6" stroke-width="0.6"/>
<rect x="127.94" y="230.4" width="4.25" height="6.75" fill="#9da0b2" stroke="#f2f2f6" stroke-width="0.6"/>
<rect x="132.2" y="230.4" width="4.25" height="6.75" fill="#e6e6ea" stroke="#f2f2f6" stroke-width="0.6"/>
<rect x="136.45" y="230.4" width="4.25" height="6.75" fill="#e6e6ea" stroke="#f2f2f6" stroke-width="0.6"/>
<rect x="140.71" y="230.4" width="4.25" height="6.75" fill="#9da0b2" stroke="#f2f2f6" stroke-width="0.6"/>
<rect x="144.96" y="230.4" width="4.25" height="6.75" fill="#52300f" stroke="#f2f2f6" stroke-width="0.6"/>
<rect x="149.22" y="230.4" width="4.25" height="6.75" fill="#e6e6ea" stroke="#f2f2f6" stroke-width="0.6"/>
<rect x="153.47" y="230.4" width="4.25" height="6.75" fill="#e6e6ea" stroke="#f2f2f6" stroke-width="0.6"/>
<rect x="157.73" y="230.4" width="4.25" height="6.75" fill="#e6e6ea" stroke="#f2f2f6" stroke-width="0.6"/>
<rect x="161.99" y="230.4" width="4.25" height="6.75" fill="#e6e6ea" stroke="#f2f2f6" stroke-width="0.6"/>
<rect x="166.24" y="230.4" width="4.25" height="6.75" fill="#e6e6ea" stroke="#f2f2f6" stroke-width="0.6"/>
<rect x="170.5" y="230.4" width="4.25" height="6.75" fill="#e6e6ea" stroke="#f2f2f6" stroke-width="0.6"/>
<rect x="174.75" y="230.4" width="4.25" height="6.75" fill="#e6e6ea" stroke="#f2f2f6" stroke-width="0.6"/>
<rect x="179" y="230.4" width="4.25" height="6.75" fill="#e6e6ea" stroke="#f2f2f6" stroke-width="0.6"/>
<rect x="183.26" y="230.4" width="4.25" height="6.75" fill="#e6e6ea" stroke="#f2f2f6" stroke-width="0.6"/>
<rect x="187.51" y="230.4" width="4.25" height="6.75" fill="#9da0b2" stroke="#f2f2f6" stroke-width="0.6"/>
<rect x="191.77" y="230.4" width="4.25" height="6.75" fill="#e6e6ea" stroke="#f2f2f6" stroke-width="0.6"/>
<rect x="196.02" y="230.4" width="4.25" height="6.75" fill="#e6e6ea" stroke="#f2f2f6" stroke-width="0.6"/>
<rect x="200.28" y="230.4" width="4.25" height="6.75" fill="#e6e6ea" stroke="#f2f2f6" stroke-width="0.6"/>
<rect x="204.53" y="230.4" width="4.25" height="6.75" fill="#e6e6ea" stroke="#f2f2f6" stroke-width="0.6"/>
<rect x="208.79" y="230.4" width="4.25" height="6.75" fill="#e6e6ea" stroke="#f2f2f6" stroke-width="0.6"/>
<rect x="213.04" y="230.4" width="4.25" height="6.75" fill="#e6e6ea" stroke="#f2f2f6" stroke-width="0.6"/>
<rect x="217.3" y="230.4" width="4.25" height="6.75" fill="#e6e6ea" stroke="#f2f2f6" stroke-width="0.6"/>
<rect x="221.55" y="230.4" width="4.25" height="6.75" fill="#e6e6ea" stroke="#f2f2f6" stroke-width="0.6"/>
<rect x="225.81" y="230.4" width="4.25" height="6.75" fill="#9da0b2" stroke="#f2f2f6" stroke-width="0.6"/>
<rect x="230.06" y="230.4" width="4.25" height="6.75" fill="#e6e6ea" stroke="#f2f2f6" stroke-width="0.6"/>
<rect x="234.32" y="230.4" width="4.25" height="6.75" fill="#9da0b2" stroke="#f2f2f6" stroke-width="0.6"/>
<rect x="238.57" y="230.4" width="4.25" height="6.75" fill="#e6e6ea" stroke="#f2f2f6" stroke-width="0.6"/>
<rect x="242.83" y="230.4" width="4.25" height="6.75" fill="#e6e6ea" stroke="#f2f2f6" stroke-width="0.6"/>
<rect x="247.08" y="230.4" width="4.25" height="6.75" fill="#e6e6ea" stroke="#f2f2f6" stroke-width="0.6"/>
<rect x="251.34" y="230.4" width="4.25" height="6.75" fill="#e6e6ea" stroke="#f2f2f6" stroke-width="0.6"/>
<rect x="255.59" y="230.4" width="4.25" height="6.75" fill="#e6e6ea" stroke="#f2f2f6" stroke-width="0.6"/>
<rect x="259.85" y="230.4" width="4.25" height="6.75" fill="#e6e6ea" stroke="#f2f2f6" stroke-width="0.6"/>
<rect x="264.11" y="230.4" width="4.25" height="6.75" fill="#e6e6ea" stroke="#f2f2f6" stroke-width="0.6"/>
<rect x="268.36" y="230.4" width="4.25" height="6.75" fill="#9da0b2" stroke="#f2f2f6" stroke-width="0.6"/>
<rect x="272.62" y="230.4" width="4.25" height="6.75" fill="#e6e6ea" stroke="#f2f2f6" stroke-width="0.6"/>
<rect x="276.87" y="230.4" width="4.25" height="6.75" fill="#e6e6ea" stroke="#f2f2f6" stroke-width="0.6"/>
<rect x="281.12" y="230.4" width="4.25" height="6.75" fill="#e6e6ea" stroke="#f2f2f6" stroke-width="0.6"/>
<rect x="285.38" y="230.4" width="4.25" height="6.75" fill="#e6e6ea" stroke="#f2f2f6" stroke-width="0.6"/>
<rect x="289.63" y="230.4" width="4.25" height="6.75" fill="#e6e6ea" stroke="#f2f2f6" stroke-width="0.6"/>
<rect x="293.89" y="230.4" width="4.25" height="6.75" fill="#e6e6ea" stroke="#f2f2f6" stroke-width="0.6"/>
<rect x="298.14" y="230.4" width="4.25" height="6.75" fill="#e6e6ea" stroke="#f2f2f6" stroke-width="0.6"/>
<rect x="302.4" y="230.4" width="4.25" height="6.75" fill="#e6e6ea" stroke="#f2f2f6" stroke-width="0.6"/>
<rect x="306.65" y="230.4" width="4.25" height="6.75" fill="#e6e6ea" stroke="#f2f2f6" stroke-width="0.6"/>
<rect x="310.91" y="230.4" width="4.25" height="6.75" fill="#e6e6ea" stroke="#f2f2f6" stroke-width="0.6"/>
<rect x="315.16" y="230.4" width="4.25" height="6.75" fill="#9da0b2" stroke="#f2f2f6" stroke-width="0.6"/>
<rect x="319.42" y="230.4" width="4.25" height="6.75" fill="#e6e6ea" stroke="#f2f2f6" stroke-width="0.6"/>
<rect x="323.67" y="230.4" width="4.25" height="6.75" fill="#9da0b2" stroke="#f2f2f6" stroke-width="0.6"/>
<rect x="327.93" y="230.4" width="4.25" height="6.75" fill="#e6e6ea" stroke="#f2f2f6" stroke-width="0.6"/>
<rect x="332.19" y="230.4" width="4.25" height="6.75" fill="#9da0b2" stroke="#f2f2f6" stroke-width="0.6"/>
<rect x="336.44" y="230.4" width="4.25" height="6.75" fill="#9da0b2" stroke="#f2f2f6" stroke-width="0.6"/>
<rect x="340.69" y="230.4" width="4.25" height="6.75" fill="#9da0b2" stroke="#f2f2f6" stroke-width="0.6"/>
<rect x="344.95" y="230.4" width="4.25" height="6.75" fill="#9da0b2" stroke="#f2f2f6" stroke-width="0.6"/>
<rect x="72.63" y="237.15" width="4.25" height="6.75" fill="#e6e6ea" stroke="#f2f2f6" stroke-width="0.6"/>
<rect x="76.88" y="237.15" width="4.25" height="6.75" fill="#e6e6ea" stroke="#f2f2f6" stroke-width="0.6"/>
<rect x="81.14" y="237.15" width="4.25" height="6.75" fill="#e6e6ea" stroke="#f2f2f6" stroke-width="0.6"/>
<rect x="85.39" y="237.15" width="4.25" height="6.75" fill="#e6e6ea" stroke="#f2f2f6" stroke-width="0.6"/>
<rect x="89.65" y="237.15" width="4.25" height="6.75" fill="#9da0b2" stroke="#f2f2f6" stroke-width="0.6"/>
<rect x="93.91" y="237.15" width="4.25" height="6.75" fill="#e6e6ea" stroke="#f2f2f6" stroke-width="0.6"/>
<rect x="98.16" y="237.15" width="4.25" height="6.75" fill="#e6e6ea" stroke="#f2f2f6" stroke-width="0.6"/>
<rect x="102.41" y="237.15" width="4.25" height="6.75" fill="#e6e6ea" stroke="#f2f2f6" stroke-width="0.6"/>
<rect x="106.67" y="237.15" width="4.25" height="6.75" fill="#e6e6ea" stroke="#f2f2f6" stroke-width="0.6"/>
<rect x="110.92" y="237.15" width="4.25" height="6.75" fill="#e6e6ea" stroke="#f2f2f6" stroke-width="0.6"/>
<rect x="115.18" y="237.15" width="4.25" height="6.75" fill="#9da0b2" stroke="#f2f2f6" stroke-width="0.6"/>
<rect x="119.44" y="237.15" width="4.25" height="6.75" fill="#e6e6ea" stroke="#f2f2f6" stroke-width="0.6"/>
<rect x="123.69" y="237.15" width="4.25" height="6.75" fill="#e6e6ea" stroke="#f2f2f6" stroke-width="0.6"/>
<rect x="127.94" y="237.15" width="4.25" height="6.75" fill="#9da0b2" stroke="#f2f2f6" stroke-width="0.6"/>
<rect x="132.2" y="237.15" width="4.25" height="6.75" fill="#52300f" stroke="#f2f2f6" stroke-width="0.6"/>
<rect x="136.45" y="237.15" width="4.25" height="6.75" fill="#e6e6ea" stroke="#f2f2f6" stroke-width="0.6"/>
<rect x="140.71" y="237.15" width="4.25" height="6.75" fill="#9da0b2" stroke="#f2f2f6" stroke-width="0.6"/>
<rect x="144.96" y="237.15" width="4.25" height="6.75" fill="#e6e6ea" stroke="#f2f2f6" stroke-width="0.6"/>
<rect x="149.22" y="237.15" width="4.25" height="6.75" fill="#e6e6ea" stroke="#f2f2f6" stroke-width="0.6"/>
<rect x="153.47" y="237.15" width="4.25" height="6.75" fill="#e6e6ea" stroke="#f2f2f6" stroke-width="0.6"/>
<rect x="157.73" y="237.15" width="4.25" height="6.75" fill="#e6e6ea" stroke="#f2f2f6" stroke-width="0.6"/>
<rect x="161.99" y="237.15" width="4.25" height="6.75" fill="#e6e6ea" stroke="#f2f2f6" stroke-width="0.6"/>
<rect x="166.24" y="237.15" width="4.25" height="6.75" fill="#e6e6ea" stroke="#f2f2f6" stroke-width="0.6"/>
<rect x="170.5" y="237.15" width="4.25" height="6.75" fill="#e6e6ea" stroke="#f2f2f6" stroke-width="0.6"/>
<rect x="174.75" y="237.15" width="4.25" height="6.75" fill="#e6e6ea" stroke="#f2f2f6" stroke-width="0.6"/>
<rect x="179" y="237.15" width="4.25" height="6.75" fill="#e6e6ea" stroke="#f2f2f6" stroke-width="0.6"/>
<rect x="183.26" y="237.15" width="4.25" height="6.75" fill="#e6e6ea" stroke="#f2f2f6" stroke-width="0.6"/>
<rect x="187.51" y="237.15" width="4.25" height="6.75" fill="#9da0b2" stroke="#f2f2f6" stroke-width="0.6"/>
<rect x="191.77" y="237.15" width="4.25" height="6.75" fill="#e6e6ea" stroke="#f2f2f6" stroke-width="0.6"/>
<rect x="196.02" y="237.15" width="4.25" height="6.75" fill="#e6e6ea" stroke="#f2f2f6" stroke-width="0.6"/>
<rect x="200.28" y="237.15" width="4.25" height="6.75" fill="#e6e6ea" stroke="#f2f2f6" stroke-width="0.6"/>
<rect x="204.53" y="237.15" width="4.25" height="6.75" fill="#e6e6ea" stroke="#f2f2f6" stroke-width="0.6"/>
<rect x="208.79" y="237.15" width="4.25" height="6.75" fill="#e6e6ea" stroke="#f2f2f6" stroke-width="0.6"/>
<rect x="213.04" y="237.15" width="4.25" height="6.75" fill="#e6e6ea" stroke="#f2f2f6" stroke-width="0.6"/>
<rect x="217.3" y="237.15" width="4.25" height="6.75" fill="#e6e6ea" stroke="#f2f2f6" stroke-width="0.6"/>
<rect x="221.55" y="237.15" width="4.25" height="6.75" fill="#e6e6ea" stroke="#f2f2f6" stroke-width="0.6"/>
<rect x="225.81" y="237.15" width="4.25" height="6.75" fill="#9da0b2" stroke="#f2f2f6" stroke-width="0.6"/>
<rect x="230.06" y="237.15" width="4.25" height="6.75" fill="#e6e6ea" stroke="#f2f2f6" stroke-width="0.6"/>
<rect x="234.32" y="237.15" width="4.25" height="6.75" fill="#9da0b2" stroke="#f2f2f6" stroke-width="0.6"/>
<rect x="238.57" y="237.15" width="4.25" height="6.75" fill="#e6e6ea" stroke="#f2f2f6" stroke-width="0.6"/>
<rect x="242.83" y="237.15" width="4.25" height="6.75" fill="#e6e6ea" stroke="#f2f2f6" stroke-width="0.6"/>
<rect x="247.08" y="237.15" width="4.25" height="6.75" fill="#e6e6ea" stroke="#f2f2f6" stroke-width="0.6"/>
<rect x="251.34" y="237.15" width="4.25" height="6.75" fill="#e6e6ea" stroke="#f2f2f6" stroke-width="0.6"/>
<rect x="255.59" y="237.15" width="4.25" height="6.75" fill="#e6e6ea" stroke="#f2f2f6" stroke-width="0.6"/>
<rect x="259.85" y="237.15" width="4.25" height="6.75" fill="#e6e6ea" stroke="#f2f2f6" stroke-width="0.6"/>
<rect x="264.11" y="237.15" width="4.25" height="6.75" fill="#e6e6ea" stroke="#f2f2f6" stroke-width="0.6"/>
<rect x="268.36" y="237.15" width="4.25" height="6.75" fill="#9da0b2" stroke="#f2f2f6" stroke-width="0.6"/>
<rect x="272.62" y="237.15" width="4.25" height="6.75" fill="#e6e6ea" stroke="#f2f2f6" stroke-width="0.6"/>
<rect x="276.87" y="237.15" width="4.25" height="6.75" fill="#e6e6ea" stroke="#f2f2f6" stroke-width="0.6"/>
<rect x="281.12" y="237.15" width="4.25" height="6.75" fill="#e6e6ea" stroke="#f2f2f6" stroke-width="0.6"/>
<rect x="285.38" y="237.15" width="4.25" height="6.75" fill="#e6e6ea" stroke="#f2f2f6" stroke-width="0.6"/>
<rect x="289.63" y="237.15" width="4.25" height="6.75" fill="#e6e6ea" stroke="#f2f2f6" stroke-width="0.6"/>
<rect x="293.89" y="237.15" width="4.25" height="6.75" fill="#e6e6ea" stroke="#f2f2f6" stroke-width="0.6"/>
<rect x="298.14" y="237.15" width="4.25" height="6.75" fill="#e6e6ea" stroke="#f2f2f6" stroke-width="0.6"/>
<rect x="302.4" y="237.15" width="4.25" height="6.75" fill="#e6e6ea" stroke="#f2f2f6" stroke-width="0.6"/>
<rect x="306.65" y="237.15" width="4.25" height="6.75" fill="#e6e6ea" stroke="#f2f2f6" stroke-width="0.6"/>
<rect x="310.91" y="237.15" width="4.25" height="6.75" fill="#e6e6ea" stroke="#f2f2f6" stroke-width="0.6"/>
<rect x="315.16" y="237.15" width="4.25" height="6.75" fill="#9da0b2" stroke="#f2f2f6" stroke-width="0.6"/>
<rect x="319.42" y="237.15" width="4.25" height="6.75" fill="#e6e6ea" stroke="#f2f2f6" stroke-width="0.6"/>
<rect x="323.67" y="237.15" width="4.25" height="6.75" fill="#9da0b2" stroke="#f2f2f6" stroke-width="0.6"/>
<rect x="327.93" y="237.15" width="4.25" height="6.75" fill="#e6e6ea" stroke="#f2f2f6" stroke-width="0.6"/>
<rect x="332.19" y="237.15" width="4.25" height="6.75" fill="#9da0b2" stroke="#f2f2f6" stroke-width="0.6"/>
<rect x="336.44" y="237.15" width="4.25" height="6.75" fill="#9da0b2" stroke="#f2f2f6" stroke-width="0.6"/>
<rect x="340.69" y="237.15" width="4.25" height="6.75" fill="#9da0b2" stroke="#f2f2f6" stroke-width="0.6"/>
<rect x="344.95" y="237.15" width="4.25" height="6.75" fill="#9da0b2" stroke="#f2f2f6" stroke-width="0.6"/>
<rect x="72.63" y="243.9" width="4.25" height="6.75" fill="#e6e6ea" stroke="#f2f2f6" stroke-width="0.6"/>
<rect x="76.88" y="243.9" width="4.25" height="6.75" fill="#e6e6ea" stroke="#f2f2f6" stroke-width="0.6"/>
<rect x="81.14" y="243.9" width="4.25" height="6.75" fill="#e6e6ea" stroke="#f2f2f6" stroke-width="0.6"/>
<rect x="85.39" y="243.9" width="4.25" height="6.75" fill="#e6e6ea" stroke="#f2f2f6" stroke-width="0.6"/>
<rect x="89.65" y="243.9" width="4.25" height="6.75" fill="#9da0b2" stroke="#f2f2f6" stroke-width="0.6"/>
<rect x="93.91" y="243.9" width="4.25" height="6.75" fill="#e6e6ea" stroke="#f2f2f6" stroke-width="0.6"/>
<rect x="98.16" y="243.9" width="4.25" height="6.75" fill="#e6e6ea" stroke="#f2f2f6" stroke-width="0.6"/>
<rect x="102.41" y="243.9" width="4.25" height="6.75" fill="#e6e6ea" stroke="#f2f2f6" stroke-width="0.6"/>
<rect x="106.67" y="243.9" width="4.25" height="6.75" fill="#52300f" stroke="#f2f2f6" stroke-width="0.6"/>
<rect x="110.92" y="243.9" width="4.25" height="6.75" fill="#e6e6ea" stroke="#f2f2f6" stroke-width="0.6"/>
<rect x="115.18" y="243.9" width="4.25" height="6.75" fill="#9da0b2" stroke="#f2f2f6" stroke-width="0.6"/>
<rect x="119.44" y="243.9" width="4.25" height="6.75" fill="#e6e6ea" stroke="#f2f2f6" stroke-width="0.6"/>
<rect x="123.69" y="243.9" width="4.25" height="6.75" fill="#e6e6ea" stroke="#f2f2f6" stroke-width="0.6"/>
<rect x="127.94" y="243.9" width="4.25" height="6.75" fill="#9da0b2" stroke="#f2f2f6" stroke-width="0.6"/>
<rect x="132.2" y="243.9" width="4.25" height="6.75" fill="#e6e6ea" stroke="#f2f2f6" stroke-width="0.6"/>
<rect x="136.45" y="243.9" width="4.25" height="6.75" fill="#e6e6ea" stroke="#f2f2f6" stroke-width="0.6"/>
<rect x="140.71" y="243.9" width="4.25" height="6.75" fill="#9da0b2" stroke="#f2f2f6" stroke-width="0.6"/>
<rect x="144.96" y="243.9" width="4.25" height="6.75" fill="#52300f" stroke="#f2f2f6" stroke-width="0.6"/>
<rect x="149.22" y="243.9" width="4.25" height="6.75" fill="#e6e6ea" stroke="#f2f2f6" stroke-width="0.6"/>
<rect x="153.47" y="243.9" width="4.25" height="6.75" fill="#e6e6ea" stroke="#f2f2f6" stroke-width="0.6"/>
<rect x="157.73" y="243.9" width="4.25" height="6.75" fill="#e6e6ea" stroke="#f2f2f6" stroke-width="0.6"/>
<rect x="161.99" y="243.9" width="4.25" height="6.75" fill="#e6e6ea" stroke="#f2f2f6" stroke-width="0.6"/>
<rect x="166.24" y="243.9" width="4.25" height="6.75" fill="#e6e6ea" stroke="#f2f2f6" stroke-width="0.6"/>
<rect x="170.5" y="243.9" width="4.25" height="6.75" fill="#e6e6ea" stroke="#f2f2f6" stroke-width="0.6"/>
<rect x="174.75" y="243.9" width="4.25" height="6.75" fill="#e6e6ea" stroke="#f2f2f6" stroke-width="0.6"/>
<rect x="179" y="243.9" width="4.25" height="6.75" fill="#e6e6ea" stroke="#f2f2f6" stroke-width="0.6"/>
<rect x="183.26" y="243.9" width="4.25" height="6.75" fill="#e6e6ea" stroke="#f2f2f6" stroke-width="0.6"/>
<rect x="187.51" y="243.9" width="4.25" height="6.75" fill="#9da0b2" stroke="#f2f2f6" stroke-width="0.6"/>
<rect x="191.77" y="243.9" width="4.25" height="6.75" fill="#e6e6ea" stroke="#f2f2f6" stroke-width="0.6"/>
<rect x="196.02" y="243.9" width="4.25" height="6.75" fill="#e6e6ea" stroke="#f2f2f6" stroke-width="0.6"/>
<rect x="200.28" y="243.9" width="4.25" height="6.75" fill="#e6e6ea" stroke="#f2f2f6" stroke-width="0.6"/>
<rect x="204.53" y="243.9" width="4.25" height="6.75" fill="#e6e6ea" stroke="#f2f2f6" stroke-width="0.6"/>
<rect x="208.79" y="243.9" width="4.25" height="6.75" fill="#e6e6ea" stroke="#f2f2f6" stroke-width="0.6"/>
<rect x="213.04" y="243.9" width="4.25" height="6.75" fill="#e6e6ea" stroke="#f2f2f6" stroke-width="0.6"/>
<rect x="217.3" y="243.9" width="4.25" height="6.75" fill="#e6e6ea" stroke="#f2f2f6" stroke-width="0.6"/>
<rect x="221.55" y="243.9" width="4.25" height="6.75" fill="#e6e6ea" stroke="#f2f2f6" stroke-width="0.6"/>
<rect x="225.81" y="243.9" width="4.25" height="6.75" fill="#9da0b2" stroke="#f2f2f6" stroke-width="0.6"/>
<rect x="230.06" y="243.9" width="4.25" height="6.75" fill="#e6e6ea" stroke="#f2f2f6" stroke-width="0.6"/>
<rect x="234.32" y="243.9" width="4.25" height="6.75" fill="#9da0b2" stroke="#f2f2f6" stroke-width="0.6"/>
<rect x="238.57" y="243.9" width="4.25" height="6.75" fill="#e6e6ea" stroke="#f2f2f6" stroke-width="0.6"/>
<rect x="242.83" y="243.9" width="4.25" height="6.75" fill="#e6e6ea" stroke="#f2f2f6" stroke-width="0.6"/>
<rect x="247.08" y="243.9" width="4.25" height="6.75" fill="#e6e6ea" stroke="#f2f2f6" stroke-width="0.6"/>
<rect x="251.34" y="243.9" width="4.25" height="6.75" fill="#e6e6ea" stroke="#f2f2f6" stroke-width="0.6"/>
<rect x="255.59" y="243.9" width="4.25" height="6.75" fill="#e6e6ea" stroke="#f2f2f6" stroke-width="0.6"/>
<rect x="259.85" y="243.9" width="4.25" height="6.75" fill="#e6e6ea" stroke="#f2f2f6" stroke-width="0.6"/>
<rect x="264.11" y="243.9" width="4.25" height="6.75" fill="#e6e6ea" stroke="#f2f2f6" stroke-width="0.6"/>
<rect x="268.36" y="243.9" width="4.25" height="6.75" fill="#9da0b2" stroke="#f2f2f6" stroke-width="0.6"/>
<rect x="272.62" y="243.9" width="4.25" height="6.75" fill="#e6e6ea" stroke="#f2f2f6" stroke-width="0.6"/>
<rect x="276.87" y="243.9" width="4.25" height="6.75" fill="#e6e6ea" stroke="#f2f2f6" stroke-width="0.6"/>
<rect x="281.12" y="243.9" width="4.25" height="6.75" fill="#e6e6ea" stroke="#f2f2f6" stroke-width="0.6"/>
<rect x="285.38" y="243.9" width="4.25" height="6.75" fill="#e6e6ea" stroke="#f2f2f6" stroke-width="0.6"/>
<rect x="289.63" y="243.9" width="4.25" height="6.75" fill="#e6e6ea" stroke="#f2f2f6" stroke-width="0.6"/>
<rect x="293.89" y="243.9" width="4.25" height="6.75" fill="#e6e6ea" stroke="#f2f2f6" stroke-width="0.6"/>
<rect x="298.14" y="243.9" width="4.25" height="6.75" fill="#e6e6ea" stroke="#f2f2f6" stroke-width="0.6"/>
<rect x="302.4" y="243.9" width="4.25" height="6.75" fill="#e6e6ea" stroke="#f2f2f6" stroke-width="0.6"/>
<rect x="306.65" y="243.9" width="4.25" height="6.75" fill="#e6e6ea" stroke="#f2f2f6" stroke-width="0.6"/>
<rect x="310.91" y="243.9" width="4.25" height="6.75" fill="#e6e6ea" stroke="#f2f2f6" stroke-width="0.6"/>
<rect x="315.16" y="243.9" width="4.25" height="6.75" fill="#9da0b2" stroke="#f2f2f6" stroke-width="0.6"/>
<rect x="319.42" y="243.9" width="4.25" height="6.75" fill="#e6e6ea" stroke="#f2f2f6" stroke-width="0.6"/>
<rect x="323.67" y="243.9" width="4.25" height="6.75" fill="#9da0b2" stroke="#f2f2f6" stroke-width="0.6"/>
<rect x="327.93" y="243.9" width="4.25" height="6.75" fill="#e6e6ea" stroke="#f2f2f6" stroke-width="0.6"/>
<rect x="332.19" y="243.9" width="4.25" height="6.75" fill="#9da0b2" stroke="#f2f2f6" stroke-width="0.6"/>
<rect x="336.44" y="243.9" width="4.25" height="6.75" fill="#9da0b2" stroke="#f2f2f6" stroke-width="0.6"/>
<rect x="340.69" y="243.9" width="4.25" height="6.75" fill="#9da0b2" stroke="#f2f2f6" stroke-width="0.6"/>
<rect x="344.95" y="243.9" width="4.25" height="6.75" fill="#9da0b2" stroke="#f2f2f6" stroke-width="0.6"/>
<rect x="72.63" y="250.65" width="4.25" height="6.75" fill="#e6e6ea" stroke="#f2f2f6" stroke-width="0.6"/>
<rect x="76.88" y="250.65" width="4.25" height="6.75" fill="#e6e6ea" stroke="#f2f2f6" stroke-width="0.6"/>
<rect x="81.14" y="250.65" width="4.25" height="6.75" fill="#e6e6ea" stroke="#f2f2f6" stroke-width="0.6"/>
<rect x="85.39" y="250.65" width="4.25" height="6.75" fill="#52300f" stroke="#f2f2f6" stroke-width="0.6"/>
<rect x="89.65" y="250.65" width="4.25" height="6.75" fill="#9da0b2" stroke="#f2f2f6" stroke-width="0.6"/>
<rect x="93.91" y="250.65" width="4.25" height="6.75" fill="#e6e6ea" stroke="#f2f2f6" stroke-width="0.6"/>
<rect x="98.16" y="250.65" width="4.25" height="6.75" fill="#e6e6ea" stroke="#f2f2f6" stroke-width="0.6"/>
<rect x="102.41" y="250.65" width="4.25" height="6.75" fill="#e6e6ea" stroke="#f2f2f6" stroke-width="0.6"/>
<rect x="106.67" y="250.65" width="4.25" height="6.75" fill="#52300f" stroke="#f2f2f6" stroke-width="0.6"/>
<rect x="110.92" y="250.65" width="4.25" height="6.75" fill="#e6e6ea" stroke="#f2f2f6" stroke-width="0.6"/>
<rect x="115.18" y="250.65" width="4.25" height="6.75" fill="#9da0b2" stroke="#f2f2f6" stroke-width="0.6"/>
<rect x="119.44" y="250.65" width="4.25" height="6.75" fill="#e6e6ea" stroke="#f2f2f6" stroke-width="0.6"/>
<rect x="123.69" y="250.65" width="4.25" height="6.75" fill="#52300f" stroke="#f2f2f6" stroke-width="0.6"/>
<rect x="127.94" y="250.65" width="4.25" height="6.75" fill="#9da0b2" stroke="#f2f2f6" stroke-width="0.6"/>
<rect x="132.2" y="250.65" width="4.25" height="6.75" fill="#52300f" stroke="#f2f2f6" stroke-width="0.6"/>
<rect x="136.45" y="250.65" width="4.25" height="6.75" fill="#52300f" stroke="#f2f2f6" stroke-width="0.6"/>
<rect x="140.71" y="250.65" width="4.25" height="6.75" fill="#9da0b2" stroke="#f2f2f6" stroke-width="0.6"/>
<rect x="144.96" y="250.65" width="4.25" height="6.75" fill="#52300f" stroke="#f2f2f6" stroke-width="0.6"/>
<rect x="149.22" y="250.65" width="4.25" height="6.75" fill="#e6e6ea" stroke="#f2f2f6" stroke-width="0.6"/>
<rect x="153.47" y="250.65" width="4.25" height="6.75" fill="#e6e6ea" stroke="#f2f2f6" stroke-width="0.6"/>
<rect x="157.73" y="250.65" width="4.25" height="6.75" fill="#e6e6ea" stroke="#f2f2f6" stroke-width="0.6"/>
<rect x="161.99" y="250.65" width="4.25" height="6.75" fill="#52300f" stroke="#f2f2f6" stroke-width="0.6"/>
<rect x="166.24" y="250.65" width="4.25" height="6.75" fill="#e6e6ea" stroke="#f2f2f6" stroke-width="0.6"/>
<rect x="170.5" y="250.65" width="4.25" height="6.75" fill="#e6e6ea" stroke="#f2f2f6" stroke-width="0.6"/>
<rect x="174.75" y="250.65" width="4.25" height="6.75" fill="#e6e6ea" stroke="#f2f2f6" stroke-width="0.6"/>
<rect x="179" y="250.65" width="4.25" height="6.75" fill="#e6e6ea" stroke="#f2f2f6" stroke-width="0.6"/>
<rect x="183.26" y="250.65" width="4.25" height="6.75" fill="#e6e6ea" stroke="#f2f2f6" stroke-width="0.6"/>
<rect x="187.51" y="250.65" width="4.25" height="6.75" fill="#9da0b2" stroke="#f2f2f6" stroke-width="0.6"/>
<rect x="191.77" y="250.65" width="4.25" height="6.75" fill="#e6e6ea" stroke="#f2f2f6" stroke-width="0.6"/>
<rect x="196.02" y="250.65" width="4.25" height="6.75" fill="#e6e6ea" stroke="#f2f2f6" stroke-width="0.6"/>
<rect x="200.28" y="250.65" width="4.25" height="6.75" fill="#e6e6ea" stroke="#f2f2f6" stroke-width="0.6"/>
<rect x="204.53" y="250.65" width="4.25" height="6.75" fill="#e6e6ea" stroke="#f2f2f6" stroke-width="0.6"/>
<rect x="208.79" y="250.65" width="4.25" height="6.75" fill="#e6e6ea" stroke="#f2f2f6" stroke-width="0.6"/>
<rect x="213.04" y="250.65" width="4.25" height="6.75" fill="#e6e6ea" stroke="#f2f2f6" stroke-width="0.6"/>
<rect x="217.3" y="250.65" width="4.25" height="6.75" fill="#e6e6ea" stroke="#f2f2f6" stroke-width="0.6"/>
<rect x="221.55" y="250.65" width="4.25" height="6.75" fill="#e6e6ea" stroke="#f2f2f6" stroke-width="0.6"/>
<rect x="225.81" y="250.65" width="4.25" height="6.75" fill="#9da0b2" stroke="#f2f2f6" stroke-width="0.6"/>
<rect x="230.06" y="250.65" width="4.25" height="6.75" fill="#e6e6ea" stroke="#f2f2f6" stroke-width="0.6"/>
<rect x="234.32" y="250.65" width="4.25" height="6.75" fill="#9da0b2" stroke="#f2f2f6" stroke-width="0.6"/>
<rect x="238.57" y="250.65" width="4.25" height="6.75" fill="#e6e6ea" stroke="#f2f2f6" stroke-width="0.6"/>
<rect x="242.83" y="250.65" width="4.25" height="6.75" fill="#e6e6ea" stroke="#f2f2f6" stroke-width="0.6"/>
<rect x="247.08" y="250.65" width="4.25" height="6.75" fill="#e6e6ea" stroke="#f2f2f6" stroke-width="0.6"/>
<rect x="251.34" y="250.65" width="4.25" height="6.75" fill="#e6e6ea" stroke="#f2f2f6" stroke-width="0.6"/>
<rect x="255.59" y="250.65" width="4.25" height="6.75" fill="#e6e6ea" stroke="#f2f2f6" stroke-width="0.6"/>
<rect x="259.85" y="250.65" width="4.25" height="6.75" fill="#e6e6ea" stroke="#f2f2f6" stroke-width="0.6"/>
<rect x="264.11" y="250.65" width="4.25" height="6.75" fill="#e6e6ea" stroke="#f2f2f6" stroke-width="0.6"/>
<rect x="268.36" y="250.65" width="4.25" height="6.75" fill="#9da0b2" stroke="#f2f2f6" stroke-width="0.6"/>
<rect x="272.62" y="250.65" width="4.25" height="6.75" fill="#e6e6ea" stroke="#f2f2f6" stroke-width="0.6"/>
<rect x="276.87" y="250.65" width="4.25" height="6.75" fill="#e6e6ea" stroke="#f2f2f6" stroke-width="0.6"/>
<rect x="281.12" y="250.65" width="4.25" height="6.75" fill="#e6e6ea" stroke="#f2f2f6" stroke-width="0.6"/>
<rect x="285.38" y="250.65" width="4.25" height="6.75" fill="#e6e6ea" stroke="#f2f2f6" stroke-width="0.6"/>
<rect x="289.63" y="250.65" width="4.25" height="6.75" fill="#e6e6ea" stroke="#f2f2f6" stroke-width="0.6"/>
<rect x="293.89" y="250.65" width="4.25" height="6.75" fill="#52300f" stroke="#f2f2f6" stroke-width="0.6"/>
<rect x="298.14" y="250.65" width="4.25" height="6.75" fill="#e6e6ea" stroke="#f2f2f6" stroke-width="0.6"/>
<rect x="302.4" y="250.65" width="4.25" height="6.75" fill="#e6e6ea" stroke="#f2f2f6" stroke-width="0.6"/>
<rect x="306.65" y="250.65" width="4.25" height="6.75" fill="#e6e6ea" stroke="#f2f2f6" stroke-width="0.6"/>
<rect x="310.91" y="250.65" width="4.25" height="6.75" fill="#e6e6ea" stroke="#f2f2f6" stroke-width="0.6"/>
<rect x="315.16" y="250.65" width="4.25" height="6.75" fill="#9da0b2" stroke="#f2f2f6" stroke-width="0.6"/>
<rect x="319.42" y="250.65" width="4.25" height="6.75" fill="#e6e6ea" stroke="#f2f2f6" stroke-width="0.6"/>
<rect x="323.67" y="250.65" width="4.25" height="6.75" fill="#9da0b2" stroke="#f2f2f6" stroke-width="0.6"/>
<rect x="327.93" y="250.65" width="4.25" height="6.75" fill="#e6e6ea" stroke="#f2f2f6" stroke-width="0.6"/>
<rect x="332.19" y="250.65" width="4.25" height="6.75" fill="#9da0b2" stroke="#f2f2f6" stroke-width="0.6"/>
<rect x="336.44" y="250.65" width="4.25" height="6.75" fill="#9da0b2" stroke="#f2f2f6" stroke-width="0.6"/>
<rect x="340.69" y="250.65" width="4.25" height="6.75" fill="#9da0b2" stroke="#f2f2f6" stroke-width="0.6"/>
<rect x="344.95" y="250.65" width="4.25" height="6.75" fill="#9da0b2" stroke="#f2f2f6" stroke-width="0.6"/>
<line x1="72.2" y1="216.3" x2="349.9" y2="216.3" stroke="#3a3a3a" stroke-width="1.5"/>
<line x1="72.2" y1="257.4" x2="349.9" y2="257.4" stroke="#777" stroke-width="0.9"/>
<line x1="72.75" y1="56.2" x2="72.75" y2="257.8" stroke="#666" stroke-width="1.2"/>
<line x1="349.4" y1="56.2" x2="349.4" y2="257.8" stroke="#555" stroke-width="1.2"/>
<line x1="153.47" y1="63.3" x2="153.47" y2="257.3" stroke="#333" stroke-width="0.8"/>
<line x1="46.35" y1="63.4" x2="46.35" y2="76.8" stroke="#2a2a2a" stroke-width="1.1"/>
<line x1="46.35" y1="78.3" x2="46.35" y2="138.2" stroke="#2a2a2a" stroke-width="1.1"/>
<line x1="46.35" y1="140.9" x2="46.35" y2="166.3" stroke="#2a2a2a" stroke-width="1.1"/>
<line x1="46.35" y1="168.3" x2="46.35" y2="187.5" stroke="#2a2a2a" stroke-width="1.1"/>
<line x1="46.35" y1="189.4" x2="46.35" y2="214.7" stroke="#2a2a2a" stroke-width="1.1"/>
<line x1="46.35" y1="217.5" x2="46.35" y2="257.3" stroke="#2a2a2a" stroke-width="1.1"/>
<line x1="353.3" y1="55.5" x2="388" y2="55.5" stroke="#333" stroke-width="1.1"/>
<line x1="353.8" y1="52.6" x2="353.8" y2="55.5" stroke="#333" stroke-width="0.8"/>
<line x1="369.2" y1="52.6" x2="369.2" y2="55.5" stroke="#333" stroke-width="0.8"/>
<line x1="384.6" y1="52.6" x2="384.6" y2="55.5" stroke="#333" stroke-width="0.8"/>
<line x1="353.5" y1="55" x2="353.5" y2="217.5" stroke="#222" stroke-width="1"/>
<rect x="370.8" y="57.55" width="3" height="1.45" fill="#a0afd4"/>
<rect x="354.3" y="57.55" width="16.5" height="1.45" fill="#0c2568"/>
<rect x="368" y="59.4" width="3.5" height="1.45" fill="#bcdca8"/>
<rect x="354.3" y="59.4" width="13.7" height="1.45" fill="#43911f"/>
<rect x="373.8" y="61.25" width="4.7" height="1.45" fill="#ad94bd"/>
<rect x="354.3" y="61.25" width="19.5" height="1.45" fill="#38094c"/>
<rect x="376.9" y="64.49" width="2.3" height="1.45" fill="#a0afd4"/>
<rect x="354.3" y="64.49" width="22.6" height="1.45" fill="#0c2568"/>
<rect x="375" y="66.34" width="2.7" height="1.45" fill="#bcdca8"/>
<rect x="354.3" y="66.34" width="20.7" height="1.45" fill="#43911f"/>
<rect x="378" y="68.19" width="1.6" height="1.45" fill="#ad94bd"/>
<rect x="354.3" y="68.19" width="23.7" height="1.45" fill="#38094c"/>
<rect x="377.3" y="71.42" width="1.2" height="1.45" fill="#a0afd4"/>
<rect x="354.3" y="71.42" width="23" height="1.45" fill="#0c2568"/>
<rect x="375" y="73.27" width="2" height="1.45" fill="#bcdca8"/>
<rect x="354.3" y="73.27" width="20.7" height="1.45" fill="#43911f"/>
<rect x="377.7" y="75.12" width="1.1" height="1.45" fill="#ad94bd"/>
<rect x="354.3" y="75.12" width="23.4" height="1.45" fill="#38094c"/>
<rect x="372.7" y="78.36" width="1.9" height="1.45" fill="#a0afd4"/>
<rect x="354.3" y="78.36" width="18.4" height="1.45" fill="#0c2568"/>
<rect x="372.3" y="80.21" width="3.1" height="1.45" fill="#bcdca8"/>
<rect x="354.3" y="80.21" width="18" height="1.45" fill="#43911f"/>
<rect x="376.5" y="82.06" width="1" height="1.45" fill="#ad94bd"/>
<rect x="354.3" y="82.06" width="22.2" height="1.45" fill="#38094c"/>
<rect x="372.3" y="85.3" width="1.2" height="1.45" fill="#a0afd4"/>
<rect x="354.3" y="85.3" width="18" height="1.45" fill="#0c2568"/>
<rect x="371.9" y="87.15" width="3.4" height="1.45" fill="#bcdca8"/>
<rect x="354.3" y="87.15" width="17.6" height="1.45" fill="#43911f"/>
<rect x="377" y="89" width="1" height="1.45" fill="#ad94bd"/>
<rect x="354.3" y="89" width="22.7" height="1.45" fill="#38094c"/>
<rect x="368.9" y="92.23" width="1.9" height="1.45" fill="#a0afd4"/>
<rect x="354.3" y="92.23" width="14.6" height="1.45" fill="#0c2568"/>
<rect x="368.1" y="94.08" width="1.5" height="1.45" fill="#bcdca8"/>
<rect x="354.3" y="94.08" width="13.8" height="1.45" fill="#43911f"/>
<rect x="373.4" y="95.94" width="1.1" height="1.45" fill="#ad94bd"/>
<rect x="354.3" y="95.94" width="19.1" height="1.45" fill="#38094c"/>
<rect x="377.1" y="99.17" width="0.9" height="1.45" fill="#a0afd4"/>
<rect x="354.3" y="99.17" width="22.8" height="1.45" fill="#0c2568"/>
<rect x="376.4" y="101.02" width="2" height="1.45" fill="#bcdca8"/>
<rect x="354.3" y="101.02" width="22.1" height="1.45" fill="#43911f"/>
<rect x="376.4" y="102.87" width="0.8" height="1.45" fill="#ad94bd"/>
<rect x="354.3" y="102.87" width="22.1" height="1.45" fill="#38094c"/>
<rect x="371.9" y="106.11" width="5.1" height="1.45" fill="#a0afd4"/>
<rect x="354.3" y="106.11" width="17.6" height="1.45" fill="#0c2568"/>
<rect x="362.8" y="107.96" width="1.8" height="1.45" fill="#bcdca8"/>
<rect x="354.3" y="107.96" width="8.5" height="1.45" fill="#43911f"/>
<rect x="369.6" y="109.81" width="0.9" height="1.45" fill="#ad94bd"/>
<rect x="354.3" y="109.81" width="15.3" height="1.45" fill="#38094c"/>
<rect x="359.8" y="113.05" width="9.1" height="1.45" fill="#a0afd4"/>
<rect x="354.3" y="113.05" width="5.5" height="1.45" fill="#0c2568"/>
<rect x="369.6" y="114.9" width="6" height="1.45" fill="#bcdca8"/>
<rect x="354.3" y="114.9" width="15.3" height="1.45" fill="#43911f"/>
<rect x="369.6" y="116.75" width="0.9" height="1.45" fill="#ad94bd"/>
<rect x="354.3" y="116.75" width="15.3" height="1.45" fill="#38094c"/>
<rect x="374.1" y="119.98" width="2.3" height="1.45" fill="#a0afd4"/>
<rect x="354.3" y="119.98" width="19.8" height="1.45" fill="#0c2568"/>
<rect x="374.9" y="121.83" width="1.9" height="1.45" fill="#bcdca8"/>
<rect x="354.3" y="121.83" width="20.6" height="1.45" fill="#43911f"/>
<rect x="374.9" y="123.68" width="0.9" height="1.45" fill="#ad94bd"/>
<rect x="354.3" y="123.68" width="20.6" height="1.45" fill="#38094c"/>
<rect x="377.9" y="126.92" width="1.9" height="1.45" fill="#a0afd4"/>
<rect x="354.3" y="126.92" width="23.6" height="1.45" fill="#0c2568"/>
<rect x="375.6" y="128.77" width="2.3" height="1.45" fill="#bcdca8"/>
<rect x="354.3" y="128.77" width="21.3" height="1.45" fill="#43911f"/>
<rect x="377.9" y="130.62" width="2.2" height="1.45" fill="#ad94bd"/>
<rect x="354.3" y="130.62" width="23.6" height="1.45" fill="#38094c"/>
<rect x="371.9" y="133.86" width="1.9" height="1.45" fill="#a0afd4"/>
<rect x="354.3" y="133.86" width="17.6" height="1.45" fill="#0c2568"/>
<rect x="371.1" y="135.71" width="2.3" height="1.45" fill="#bcdca8"/>
<rect x="354.3" y="135.71" width="16.8" height="1.45" fill="#43911f"/>
<rect x="374.1" y="137.56" width="2.3" height="1.45" fill="#ad94bd"/>
<rect x="354.3" y="137.56" width="19.8" height="1.45" fill="#38094c"/>
<rect x="368.9" y="140.79" width="1.5" height="1.45" fill="#a0afd4"/>
<rect x="354.3" y="140.79" width="14.6" height="1.45" fill="#0c2568"/>
<rect x="368.1" y="142.64" width="2.3" height="1.45" fill="#bcdca8"/>
<rect x="354.3" y="142.64" width="13.8" height="1.45" fill="#43911f"/>
<rect x="369.6" y="144.49" width="2.3" height="1.45" fill="#ad94bd"/>
<rect x="354.3" y="144.49" width="15.3" height="1.45" fill="#38094c"/>
<rect x="368.9" y="147.73" width="2.7" height="1.45" fill="#a0afd4"/>
<rect x="354.3" y="147.73" width="14.6" height="1.45" fill="#0c2568"/>
<rect x="365.8" y="149.58" width="3.8" height="1.45" fill="#bcdca8"/>
<rect x="354.3" y="149.58" width="11.5" height="1.45" fill="#43911f"/>
<rect x="374.9" y="151.43" width="5.2" height="1.45" fill="#ad94bd"/>
<rect x="354.3" y="151.43" width="20.6" height="1.45" fill="#38094c"/>
<rect x="362.1" y="154.67" width="9.8" height="1.45" fill="#a0afd4"/>
<rect x="354.3" y="154.67" width="7.8" height="1.45" fill="#0c2568"/>
<rect x="368.1" y="156.52" width="4.2" height="1.45" fill="#bcdca8"/>
<rect x="354.3" y="156.52" width="13.8" height="1.45" fill="#43911f"/>
<rect x="369.6" y="158.37" width="1.5" height="1.45" fill="#ad94bd"/>
<rect x="354.3" y="158.37" width="15.3" height="1.45" fill="#38094c"/>
<rect x="371.9" y="161.6" width="5.2" height="1.45" fill="#a0afd4"/>
<rect x="354.3" y="161.6" width="17.6" height="1.45" fill="#0c2568"/>
<rect x="362.8" y="163.45" width="2.2" height="1.45" fill="#bcdca8"/>
<rect x="354.3" y="163.45" width="8.5" height="1.45" fill="#43911f"/>
<rect x="369.6" y="165.3" width="0.9" height="1.45" fill="#ad94bd"/>
<rect x="354.3" y="165.3" width="15.3" height="1.45" fill="#38094c"/>
<rect x="378.6" y="168.54" width="1.2" height="1.45" fill="#a0afd4"/>
<rect x="354.3" y="168.54" width="24.3" height="1.45" fill="#0c2568"/>
<rect x="379.4" y="170.39" width="1.5" height="1.45" fill="#bcdca8"/>
<rect x="354.3" y="170.39" width="25.1" height="1.45" fill="#43911f"/>
<rect x="380.9" y="172.24" width="0.9" height="1.45" fill="#ad94bd"/>
<rect x="354.3" y="172.24" width="26.6" height="1.45" fill="#38094c"/>
<rect x="368.9" y="175.48" width="0.7" height="1.45" fill="#a0afd4"/>
<rect x="354.3" y="175.48" width="14.6" height="1.45" fill="#0c2568"/>
<rect x="368.9" y="177.33" width="2.2" height="1.45" fill="#bcdca8"/>
<rect x="354.3" y="177.33" width="14.6" height="1.45" fill="#43911f"/>
<rect x="372.6" y="179.18" width="1.2" height="1.45" fill="#ad94bd"/>
<rect x="354.3" y="179.18" width="18.3" height="1.45" fill="#38094c"/>
<rect x="383.9" y="182.42" width="0.7" height="1.45" fill="#a0afd4"/>
<rect x="354.3" y="182.42" width="29.6" height="1.45" fill="#0c2568"/>
<rect x="383.9" y="184.27" width="1.1" height="1.45" fill="#bcdca8"/>
<rect x="354.3" y="184.27" width="29.6" height="1.45" fill="#43911f"/>
<rect x="383.9" y="186.12" width="0.7" height="1.45" fill="#ad94bd"/>
<rect x="354.3" y="186.12" width="29.6" height="1.45" fill="#38094c"/>
<rect x="370.4" y="189.35" width="3" height="1.45" fill="#a0afd4"/>
<rect x="354.3" y="189.35" width="16.1" height="1.45" fill="#0c2568"/>
<rect x="371.1" y="191.2" width="1.5" height="1.45" fill="#bcdca8"/>
<rect x="354.3" y="191.2" width="16.8" height="1.45" fill="#43911f"/>
<rect x="373.4" y="193.05" width="1.5" height="1.45" fill="#ad94bd"/>
<rect x="354.3" y="193.05" width="19.1" height="1.45" fill="#38094c"/>
<rect x="374.1" y="196.29" width="3.8" height="1.45" fill="#a0afd4"/>
<rect x="354.3" y="196.29" width="19.8" height="1.45" fill="#0c2568"/>
<rect x="372.6" y="198.14" width="2.3" height="1.45" fill="#bcdca8"/>
<rect x="354.3" y="198.14" width="18.3" height="1.45" fill="#43911f"/>
<rect x="380.9" y="199.99" width="4.1" height="1.45" fill="#ad94bd"/>
<rect x="354.3" y="199.99" width="26.6" height="1.45" fill="#38094c"/>
<rect x="355.3" y="205.08" width="4.5" height="1.45" fill="#bcdca8"/>
<rect x="354.3" y="205.08" width="1" height="1.45" fill="#43911f"/>
<rect x="355" y="206.93" width="0.5" height="1.45" fill="#ad94bd"/>
<rect x="354.3" y="206.93" width="0.7" height="1.45" fill="#38094c"/>
<rect x="360.6" y="210.16" width="9.3" height="1.45" fill="#a0afd4"/>
<rect x="354.3" y="210.16" width="6.3" height="1.45" fill="#0c2568"/>
<rect x="365.1" y="212.01" width="3" height="1.45" fill="#bcdca8"/>
<rect x="354.3" y="212.01" width="10.8" height="1.45" fill="#43911f"/>
<rect x="368.1" y="213.86" width="0.8" height="1.45" fill="#ad94bd"/>
<rect x="354.3" y="213.86" width="13.8" height="1.45" fill="#38094c"/>
<rect x="397" y="28.5" width="7.1" height="6.95" fill="#2b5190" stroke="#111" stroke-width="0.7"/>
<rect x="397" y="35.45" width="7.1" height="6.95" fill="#f6c519" stroke="#111" stroke-width="0.7"/>
<rect x="397" y="42.4" width="7.1" height="6.95" fill="#c3052f" stroke="#111" stroke-width="0.7"/>
<rect x="397" y="49.35" width="7.1" height="6.95" fill="#c27b2a" stroke="#111" stroke-width="0.7"/>
<rect x="397" y="56.3" width="7.1" height="6.95" fill="#111111" stroke="#111" stroke-width="0.7"/>
<rect x="441.8" y="28.5" width="7.1" height="6.95" fill="#eb9418" stroke="#111" stroke-width="0.7"/>
<rect x="441.8" y="35.45" width="7.1" height="6.95" fill="#c4def6" stroke="#111" stroke-width="0.7"/>
<rect x="441.8" y="42.4" width="7.1" height="6.95" fill="#f7d7ca" stroke="#111" stroke-width="0.7"/>
<rect x="441.8" y="49.35" width="7.1" height="6.95" fill="#67ade6" stroke="#111" stroke-width="0.7"/>
<rect x="441.8" y="56.3" width="7.1" height="6.95" fill="#e165ac" stroke="#111" stroke-width="0.7"/>
<rect x="481.6" y="28.5" width="7.1" height="6.95" fill="#67b848" stroke="#111" stroke-width="0.7"/>
<rect x="481.6" y="35.45" width="7.1" height="6.95" fill="#4a5370" stroke="#111" stroke-width="0.7"/>
<rect x="481.6" y="42.4" width="7.1" height="6.95" fill="#2f6c51" stroke="#111" stroke-width="0.7"/>
<rect x="481.6" y="49.35" width="7.1" height="6.95" fill="#a7aab8" stroke="#111" stroke-width="0.7"/>
<rect x="481.6" y="56.3" width="7.1" height="6.95" fill="#ffffff" stroke="#111" stroke-width="0.7"/>
<rect x="397" y="70" width="7" height="7" fill="#a4bd80"/>
<rect x="397" y="84" width="7" height="7" fill="#8f97c8"/>
<rect x="397" y="98" width="7" height="7" fill="#f2cf68"/>
<rect x="397" y="112" width="7" height="7" fill="#e0900f"/>
<rect x="397.3" y="126" width="6.4" height="6.6" fill="#fff" stroke="#111" stroke-width="0.8"/>
<line x1="397.6" y1="132.4" x2="403.4" y2="126.2" stroke="#111" stroke-width="0.8"/>
<rect x="397" y="140" width="7" height="7" fill="#6e4790"/>
<rect x="397.1" y="167.4" width="6.8" height="4.5" fill="#2c4d8c"/>
<rect x="397.1" y="173.7" width="6.8" height="4.5" fill="#5eaa3c"/>
<rect x="397.1" y="180" width="6.8" height="4.5" fill="#4b2766"/>
<rect x="396.8" y="216.3" width="7" height="6.9" fill="#5b3612" stroke="#111" stroke-width="0.8"/>
<rect x="396.8" y="230.1" width="7" height="6.9" fill="#eeeeee" stroke="#777" stroke-width="0.8"/>
<rect x="396.8" y="243.9" width="7" height="6.9" fill="#b0b1c0" stroke="#555" stroke-width="0.8"/>
</g>
<g>
<text transform="translate(76.11,25.2) rotate(-90)" style="font-size:3.8px;letter-spacing:0.85px;fill:#111;stroke:#111;stroke-width:0.15px">P#1</text>
<text transform="translate(80.36,25.2) rotate(-90)" style="font-size:3.8px;letter-spacing:0.85px;fill:#111;stroke:#111;stroke-width:0.15px">P#2</text>
<text transform="translate(84.62,25.2) rotate(-90)" style="font-size:3.8px;letter-spacing:0.85px;fill:#111;stroke:#111;stroke-width:0.15px">P#3</text>
<text transform="translate(88.87,25.2) rotate(-90)" style="font-size:3.8px;letter-spacing:0.85px;fill:#111;stroke:#111;stroke-width:0.15px">P#11</text>
<text transform="translate(93.13,25.2) rotate(-90)" style="font-size:3.8px;letter-spacing:0.85px;fill:#111;stroke:#111;stroke-width:0.15px">P#12</text>
<text transform="translate(97.38,25.2) rotate(-90)" style="font-size:3.8px;letter-spacing:0.85px;fill:#111;stroke:#111;stroke-width:0.15px">P#13</text>
<text transform="translate(101.64,25.2) rotate(-90)" style="font-size:3.8px;letter-spacing:0.85px;fill:#111;stroke:#111;stroke-width:0.15px">P#14</text>
<text transform="translate(105.89,25.2) rotate(-90)" style="font-size:3.8px;letter-spacing:0.85px;fill:#111;stroke:#111;stroke-width:0.15px">P#15</text>
<text transform="translate(110.15,25.2) rotate(-90)" style="font-size:3.8px;letter-spacing:0.85px;fill:#111;stroke:#111;stroke-width:0.15px">P#16</text>
<text transform="translate(114.4,25.2) rotate(-90)" style="font-size:3.8px;letter-spacing:0.85px;fill:#111;stroke:#111;stroke-width:0.15px">P#17</text>
<text transform="translate(118.66,25.2) rotate(-90)" style="font-size:3.8px;letter-spacing:0.85px;fill:#111;stroke:#111;stroke-width:0.15px">P#18</text>
<text transform="translate(122.91,25.2) rotate(-90)" style="font-size:3.8px;letter-spacing:0.85px;fill:#111;stroke:#111;stroke-width:0.15px">P#19</text>
<text transform="translate(127.17,25.2) rotate(-90)" style="font-size:3.8px;letter-spacing:0.85px;fill:#111;stroke:#111;stroke-width:0.15px">P#20</text>
<text transform="translate(131.42,25.2) rotate(-90)" style="font-size:3.8px;letter-spacing:0.85px;fill:#111;stroke:#111;stroke-width:0.15px">P#21</text>
<text transform="translate(135.68,25.2) rotate(-90)" style="font-size:3.8px;letter-spacing:0.85px;fill:#111;stroke:#111;stroke-width:0.15px">P#22</text>
<text transform="translate(139.93,25.2) rotate(-90)" style="font-size:3.8px;letter-spacing:0.85px;fill:#111;stroke:#111;stroke-width:0.15px">P#23</text>
<text transform="translate(144.19,25.2) rotate(-90)" style="font-size:3.8px;letter-spacing:0.85px;fill:#111;stroke:#111;stroke-width:0.15px">P#24</text>
<text transform="translate(148.44,25.2) rotate(-90)" style="font-size:3.8px;letter-spacing:0.85px;fill:#111;stroke:#111;stroke-width:0.15px">P#25</text>
<text transform="translate(152.7,25.2) rotate(-90)" style="font-size:3.8px;letter-spacing:0.85px;fill:#111;stroke:#111;stroke-width:0.15px">P#26</text>
<text transform="translate(156.95,25.2) rotate(-90)" style="font-size:3.8px;letter-spacing:0.85px;fill:#111;stroke:#111;stroke-width:0.15px">P#27ab</text>
<text transform="translate(161.21,25.2) rotate(-90)" style="font-size:3.8px;letter-spacing:0.85px;fill:#111;stroke:#111;stroke-width:0.15px">P#28ab</text>
<text transform="translate(165.46,25.2) rotate(-90)" style="font-size:3.8px;letter-spacing:0.85px;fill:#111;stroke:#111;stroke-width:0.15px">P#29</text>
<text transform="translate(169.72,25.2) rotate(-90)" style="font-size:3.8px;letter-spacing:0.85px;fill:#111;stroke:#111;stroke-width:0.15px">P#30ab</text>
<text transform="translate(173.97,25.2) rotate(-90)" style="font-size:3.8px;letter-spacing:0.85px;fill:#111;stroke:#111;stroke-width:0.15px">P#31</text>
<text transform="translate(178.23,25.2) rotate(-90)" style="font-size:3.8px;letter-spacing:0.85px;fill:#111;stroke:#111;stroke-width:0.15px">P#32</text>
<text transform="translate(182.48,25.2) rotate(-90)" style="font-size:3.8px;letter-spacing:0.85px;fill:#111;stroke:#111;stroke-width:0.15px">P#33</text>
<text transform="translate(186.74,25.2) rotate(-90)" style="font-size:3.8px;letter-spacing:0.85px;fill:#111;stroke:#111;stroke-width:0.15px">P#34</text>
<text transform="translate(190.99,25.2) rotate(-90)" style="font-size:3.8px;letter-spacing:0.85px;fill:#111;stroke:#111;stroke-width:0.15px">P#35</text>
<text transform="translate(195.25,25.2) rotate(-90)" style="font-size:3.8px;letter-spacing:0.85px;fill:#111;stroke:#111;stroke-width:0.15px">P#36</text>
<text transform="translate(199.5,25.2) rotate(-90)" style="font-size:3.8px;letter-spacing:0.85px;fill:#111;stroke:#111;stroke-width:0.15px">P#37</text>
<text transform="translate(203.76,25.2) rotate(-90)" style="font-size:3.8px;letter-spacing:0.85px;fill:#111;stroke:#111;stroke-width:0.15px">P#38</text>
<text transform="translate(208.01,25.2) rotate(-90)" style="font-size:3.8px;letter-spacing:0.85px;fill:#111;stroke:#111;stroke-width:0.15px">P#39</text>
<text transform="translate(212.27,25.2) rotate(-90)" style="font-size:3.8px;letter-spacing:0.85px;fill:#111;stroke:#111;stroke-width:0.15px">P#40</text>
<text transform="translate(216.52,25.2) rotate(-90)" style="font-size:3.8px;letter-spacing:0.85px;fill:#111;stroke:#111;stroke-width:0.15px">P#41</text>
<text transform="translate(220.78,25.2) rotate(-90)" style="font-size:3.8px;letter-spacing:0.85px;fill:#111;stroke:#111;stroke-width:0.15px">P#42</text>
<text transform="translate(225.03,25.2) rotate(-90)" style="font-size:3.8px;letter-spacing:0.85px;fill:#111;stroke:#111;stroke-width:0.15px">P#43</text>
<text transform="translate(229.29,25.2) rotate(-90)" style="font-size:3.8px;letter-spacing:0.85px;fill:#111;stroke:#111;stroke-width:0.15px">P#44</text>
<text transform="translate(233.54,25.2) rotate(-90)" style="font-size:3.8px;letter-spacing:0.85px;fill:#111;stroke:#111;stroke-width:0.15px">P#45</text>
<text transform="translate(237.8,25.2) rotate(-90)" style="font-size:3.8px;letter-spacing:0.85px;fill:#111;stroke:#111;stroke-width:0.15px">P#46</text>
<text transform="translate(242.05,25.2) rotate(-90)" style="font-size:3.8px;letter-spacing:0.85px;fill:#111;stroke:#111;stroke-width:0.15px">P#47</text>
<text transform="translate(246.31,25.2) rotate(-90)" style="font-size:3.8px;letter-spacing:0.85px;fill:#111;stroke:#111;stroke-width:0.15px">P#48</text>
<text transform="translate(250.56,25.2) rotate(-90)" style="font-size:3.8px;letter-spacing:0.85px;fill:#111;stroke:#111;stroke-width:0.15px">P#49</text>
<text transform="translate(254.82,25.2) rotate(-90)" style="font-size:3.8px;letter-spacing:0.85px;fill:#111;stroke:#111;stroke-width:0.15px">P#50</text>
<text transform="translate(259.07,25.2) rotate(-90)" style="font-size:3.8px;letter-spacing:0.85px;fill:#111;stroke:#111;stroke-width:0.15px">P#51</text>
<text transform="translate(263.33,25.2) rotate(-90)" style="font-size:3.8px;letter-spacing:0.85px;fill:#111;stroke:#111;stroke-width:0.15px">P#52</text>
<text transform="translate(267.58,25.2) rotate(-90)" style="font-size:3.8px;letter-spacing:0.85px;fill:#111;stroke:#111;stroke-width:0.15px">P#53</text>
<text transform="translate(271.84,25.2) rotate(-90)" style="font-size:3.8px;letter-spacing:0.85px;fill:#111;stroke:#111;stroke-width:0.15px">P#54</text>
<text transform="translate(276.09,25.2) rotate(-90)" style="font-size:3.8px;letter-spacing:0.85px;fill:#111;stroke:#111;stroke-width:0.15px">P#55</text>
<text transform="translate(280.35,25.2) rotate(-90)" style="font-size:3.8px;letter-spacing:0.85px;fill:#111;stroke:#111;stroke-width:0.15px">P#56</text>
<text transform="translate(284.6,25.2) rotate(-90)" style="font-size:3.8px;letter-spacing:0.85px;fill:#111;stroke:#111;stroke-width:0.15px">P#57</text>
<text transform="translate(288.86,25.2) rotate(-90)" style="font-size:3.8px;letter-spacing:0.85px;fill:#111;stroke:#111;stroke-width:0.15px">P#58</text>
<text transform="translate(293.11,25.2) rotate(-90)" style="font-size:3.8px;letter-spacing:0.85px;fill:#111;stroke:#111;stroke-width:0.15px">P#59</text>
<text transform="translate(297.37,25.2) rotate(-90)" style="font-size:3.8px;letter-spacing:0.85px;fill:#111;stroke:#111;stroke-width:0.15px">P#60</text>
<text transform="translate(301.62,25.2) rotate(-90)" style="font-size:3.8px;letter-spacing:0.85px;fill:#111;stroke:#111;stroke-width:0.15px">P#61</text>
<text transform="translate(305.88,25.2) rotate(-90)" style="font-size:3.8px;letter-spacing:0.85px;fill:#111;stroke:#111;stroke-width:0.15px">P#62</text>
<text transform="translate(310.13,25.2) rotate(-90)" style="font-size:3.8px;letter-spacing:0.85px;fill:#111;stroke:#111;stroke-width:0.15px">P#63</text>
<text transform="translate(314.39,25.2) rotate(-90)" style="font-size:3.8px;letter-spacing:0.85px;fill:#111;stroke:#111;stroke-width:0.15px">P#64</text>
<text transform="translate(318.64,25.2) rotate(-90)" style="font-size:3.8px;letter-spacing:0.85px;fill:#111;stroke:#111;stroke-width:0.15px">P#65</text>
<text transform="translate(322.9,25.2) rotate(-90)" style="font-size:3.8px;letter-spacing:0.85px;fill:#111;stroke:#111;stroke-width:0.15px">P#66</text>
<text transform="translate(327.15,25.2) rotate(-90)" style="font-size:3.8px;letter-spacing:0.85px;fill:#111;stroke:#111;stroke-width:0.15px">P#67</text>
<text transform="translate(331.41,25.2) rotate(-90)" style="font-size:3.8px;letter-spacing:0.85px;fill:#111;stroke:#111;stroke-width:0.15px">P#68</text>
<text transform="translate(335.66,25.2) rotate(-90)" style="font-size:3.8px;letter-spacing:0.85px;fill:#111;stroke:#111;stroke-width:0.15px">P#69</text>
<text transform="translate(339.92,25.2) rotate(-90)" style="font-size:3.8px;letter-spacing:0.85px;fill:#111;stroke:#111;stroke-width:0.15px">P#70</text>
<text transform="translate(344.17,25.2) rotate(-90)" style="font-size:3.8px;letter-spacing:0.85px;fill:#111;stroke:#111;stroke-width:0.15px">P#71</text>
<text transform="translate(348.43,25.2) rotate(-90)" style="font-size:3.8px;letter-spacing:0.85px;fill:#111;stroke:#111;stroke-width:0.15px">P#72</text>
<text class="g" x="59.5" y="61.65">ABL1</text>
<text class="g" x="59.5" y="68.59">RUNX1</text>
<text class="g" x="59.5" y="75.52">NRAS</text>
<text class="g" x="59.5" y="82.46">ASXL1</text>
<text class="g" x="59.5" y="89.4">BCOR</text>
<text class="g" x="59.5" y="96.34">BRD3</text>
<text class="g" x="59.5" y="103.27">ARID2</text>
<text class="g" x="59.5" y="110.21">SETD2</text>
<text class="g" x="59.5" y="117.15">MECOM</text>
<text class="g" x="59.5" y="124.08">KDM6A</text>
<text class="g" x="59.5" y="131.02">TET2</text>
<text class="g" x="59.5" y="137.96">DNMT3A</text>
<text class="g" x="59.5" y="144.89">PDE4DIP</text>
<text class="g" x="59.5" y="151.83">JAK3</text>
<text class="g" x="59.5" y="158.77">PTPRD</text>
<text class="g" x="59.5" y="165.71">PTPRU</text>
<text class="g" x="59.5" y="172.64">MSH6</text>
<text class="g" x="59.5" y="179.58">PAPD7</text>
<text class="g" x="59.5" y="186.52">PRKDC</text>
<text class="g" x="59.5" y="193.45">RERE</text>
<text class="g" x="59.5" y="200.39">BCR</text>
<text class="g" x="59.5" y="207.33">SCUBE2</text>
<text class="g" x="59.5" y="214.26">KIAA1549</text>
<text class="g" x="59.5" y="221.78">+8</text>
<text class="g" x="59.5" y="228.53">+Ph</text>
<text class="g" x="59.5" y="235.28">i(17q)</text>
<text class="g" x="59.5" y="242.03">inv(16)</text>
<text class="g" x="59.5" y="248.78">+19</text>
<text class="g" x="59.5" y="255.53">Others</text>
<text class="c" x="25" y="68.7">Leukemia-</text>
<text class="c" x="25" y="74">associated genes</text>
<text class="c" x="25" y="100.6">Epigenetic</text>
<text class="c" x="25" y="105.4">regulation</text>
<text class="c" x="25" y="135.8">Signaling</text>
<text class="c" x="25" y="140.9">Molecules (kinases,</text>
<text class="c" x="25" y="146">phosphatases)</text>
<text class="c" x="25" y="163.3">DNA Repair and</text>
<text class="c" x="25" y="168.3">splicing factors</text>
<text class="c" x="25" y="187.5">Apoptosis and</text>
<text class="c" x="25" y="192.2">others</text>
<text class="c" x="25" y="224.8">ACA</text>
<text x="369.2" y="43.5" style="font-size:6.3px;font-weight:bold;text-anchor:middle" transform="translate(369.2,0) scale(0.7,1) translate(-369.2,0)">CPM</text>
<text x="353.7" y="49.8" style="font-size:4.3px;text-anchor:middle">0</text>
<text x="369.2" y="49.8" style="font-size:4.3px;text-anchor:middle">5</text>
<text x="384.8" y="49.8" style="font-size:4.3px;text-anchor:middle">10</text>
<text class="l" x="406.8" y="33.4">BP</text>
<text class="l" x="406.8" y="40.35">Myeloid</text>
<text class="l" x="406.8" y="47.3">Poor</text>
<text class="l" x="406.8" y="54.25">WES</text>
<text class="l" x="406.8" y="61.2">Tumor:normal</text>
<text class="l" x="451.6" y="33.4">AP</text>
<text class="l" x="451.6" y="40.35">Lymphoid</text>
<text class="l" x="451.6" y="47.3">Suboptimal</text>
<text class="l" x="451.6" y="54.25">RNA seq</text>
<text class="l" x="451.6" y="61.2">Tumor only</text>
<text class="l" x="491.4" y="33.4">CP</text>
<text class="l" x="491.4" y="40.35">Ambiguous</text>
<text class="l" x="491.4" y="47.3">Optimal</text>
<text class="l" x="491.4" y="54.25">Panel</text>
<text class="l" x="491.4" y="61.2">NA</text>
<text class="l" x="407" y="74.9" style="font-size:4.1px">Missense</text>
<text class="l" x="407" y="88.9" style="font-size:4.1px">Nonsense</text>
<text class="l" x="407" y="102.9" style="font-size:4.1px">Frameshift insertion</text>
<text class="l" x="407" y="116.9" style="font-size:4.1px">Frameshift deletion</text>
<text class="l" x="407" y="130.9" style="font-size:4.1px">Compound mutation</text>
<text class="l" x="407" y="144.9" style="font-size:4.1px">Splice site</text>
<text class="l" x="407" y="171.3" style="font-size:4.1px">AP/BP</text>
<text class="l" x="407" y="177.6" style="font-size:4.1px">CP</text>
<text class="l" x="407" y="183.9" style="font-size:4.1px">Healthy</text>
<text class="l" x="407" y="220.9" style="font-size:3.9px">Found</text>
<text class="l" x="407" y="234.7" style="font-size:3.9px">Not found</text>
<text class="l" x="407" y="248.5" style="font-size:3.9px">NA</text>
</g>
<rect x="0.5" y="0.5" width="519" height="264" fill="none" stroke="#000" stroke-width="1.15"/>
<rect x="0" y="263.65" width="520" height="1.35" fill="#000"/>
</svg></div></div></body></html>
